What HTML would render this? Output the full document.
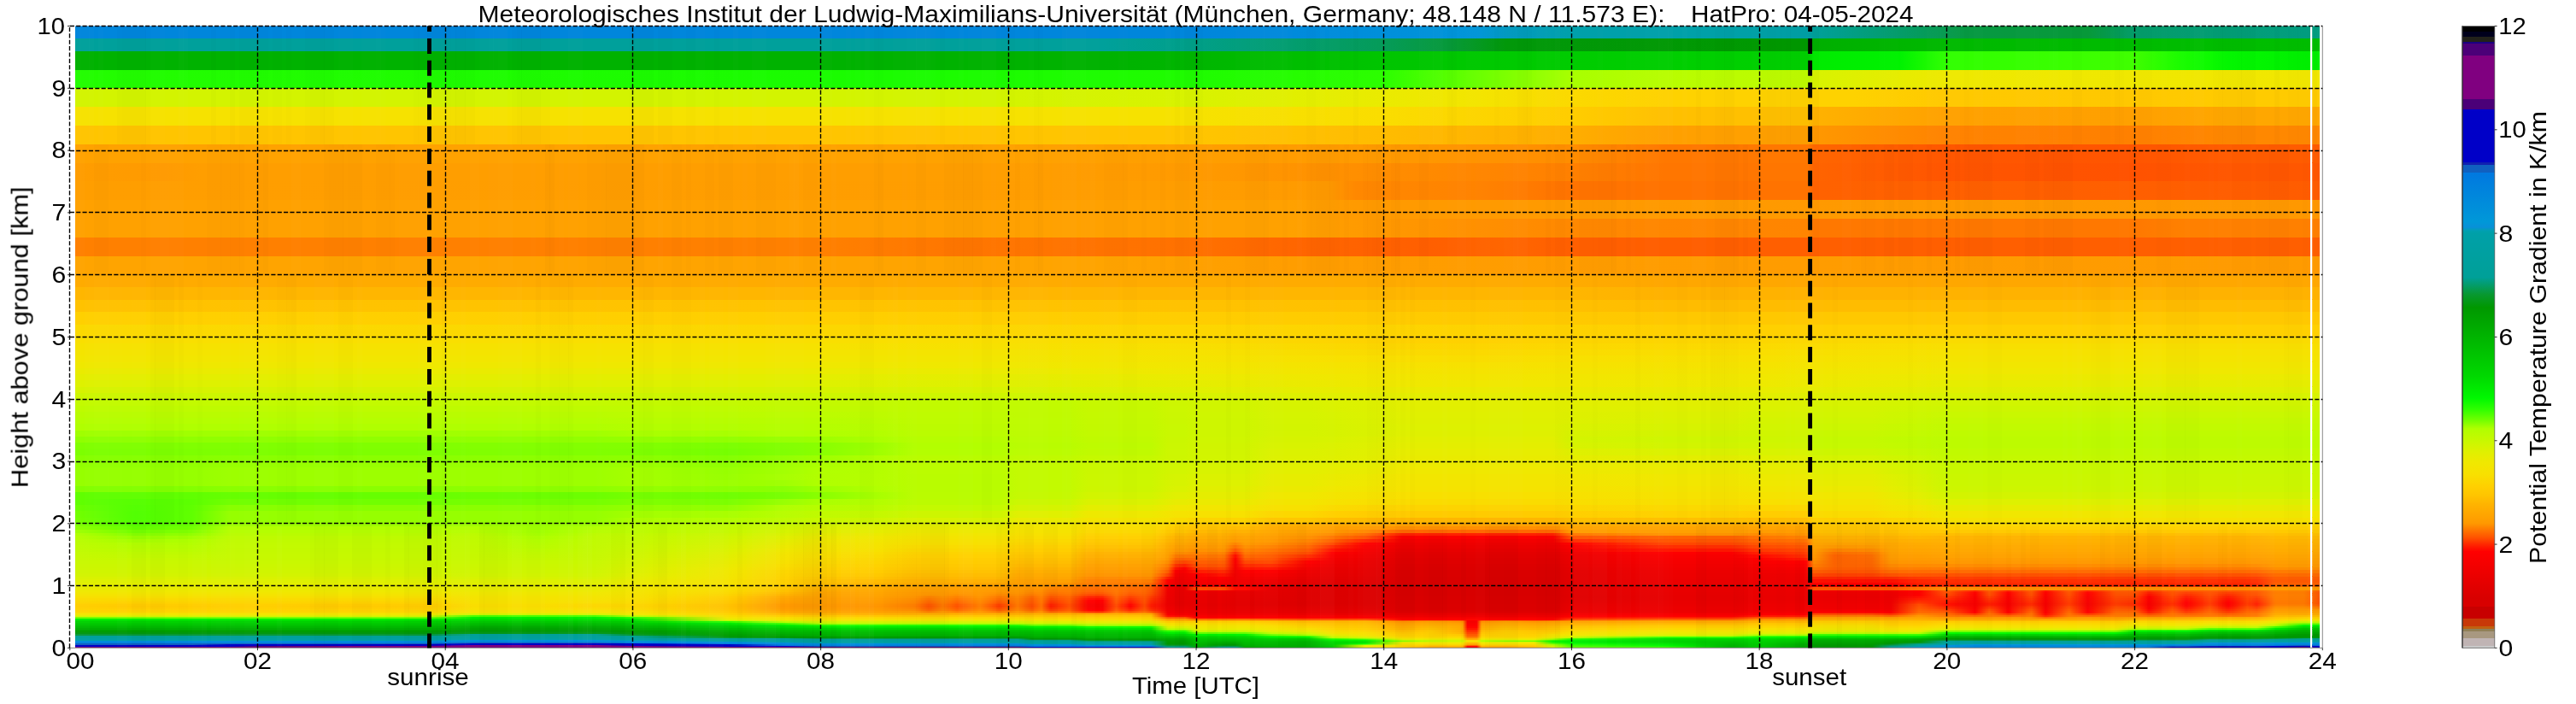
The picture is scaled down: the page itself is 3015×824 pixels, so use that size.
<!DOCTYPE html><html><head><meta charset="utf-8"><title>HatPro potential temperature gradient</title>
<style>html,body{margin:0;padding:0;background:#fff}svg{display:block}text{font-family:"Liberation Sans",sans-serif;fill:#000}</style></head><body>
<svg width="3015" height="824" viewBox="0 0 3015 824">
<defs><linearGradient id="g0" gradientUnits="userSpaceOnUse" x1="87.80" x2="2715.00" y1="0" y2="0"><stop offset="0.0000" stop-color="#800080"/><stop offset="0.3155" stop-color="#800080"/><stop offset="0.3322" stop-color="#4b0078"/><stop offset="0.4200" stop-color="#4b0078"/><stop offset="0.4263" stop-color="#0000c8"/><stop offset="0.4794" stop-color="#0000c8"/><stop offset="0.4869" stop-color="#00a09e"/><stop offset="0.4945" stop-color="#00a09e"/><stop offset="0.4995" stop-color="#00a700"/><stop offset="0.5120" stop-color="#00a09b"/><stop offset="0.5170" stop-color="#00a09b"/><stop offset="0.5212" stop-color="#00a700"/><stop offset="0.5329" stop-color="#00ab00"/><stop offset="0.5497" stop-color="#00ab00"/><stop offset="0.5601" stop-color="#00c800"/><stop offset="0.5748" stop-color="#eee900"/><stop offset="0.5915" stop-color="#ffcb00"/><stop offset="0.6040" stop-color="#ffaa00"/><stop offset="0.6182" stop-color="#ffaa00"/><stop offset="0.6203" stop-color="#f60000"/><stop offset="0.6245" stop-color="#f60000"/><stop offset="0.6266" stop-color="#ff9f00"/><stop offset="0.6375" stop-color="#ff9f00"/><stop offset="0.6500" stop-color="#ffba00"/><stop offset="0.6584" stop-color="#e9eb00"/><stop offset="0.6667" stop-color="#68ff00"/><stop offset="0.7086" stop-color="#40ff00"/><stop offset="0.7378" stop-color="#00b500"/><stop offset="0.7504" stop-color="#00c800"/><stop offset="0.7713" stop-color="#00a100"/><stop offset="0.7746" stop-color="#019803"/><stop offset="0.8005" stop-color="#019803"/><stop offset="0.8089" stop-color="#00a09c"/><stop offset="0.8215" stop-color="#0891d6"/><stop offset="0.8340" stop-color="#0093d9"/><stop offset="0.8465" stop-color="#0083dd"/><stop offset="0.9093" stop-color="#0083dd"/><stop offset="0.9176" stop-color="#0080de"/><stop offset="0.9239" stop-color="#0080de"/><stop offset="0.9344" stop-color="#0000c8"/><stop offset="0.9803" stop-color="#0000c8"/><stop offset="0.9929" stop-color="#4b0078"/><stop offset="1.0000" stop-color="#0000c8"/></linearGradient><linearGradient id="g1" gradientUnits="userSpaceOnUse" x1="87.80" x2="2715.00" y1="0" y2="0"><stop offset="0.0000" stop-color="#0000c8"/><stop offset="0.0521" stop-color="#0000c8"/><stop offset="0.0688" stop-color="#4b0078"/><stop offset="0.0813" stop-color="#800080"/><stop offset="0.2904" stop-color="#800080"/><stop offset="0.3155" stop-color="#0000c8"/><stop offset="0.4200" stop-color="#0000c8"/><stop offset="0.4263" stop-color="#1060c0"/><stop offset="0.4430" stop-color="#1060c0"/><stop offset="0.4514" stop-color="#007ede"/><stop offset="0.4794" stop-color="#007ede"/><stop offset="0.4869" stop-color="#00a099"/><stop offset="0.4945" stop-color="#00a099"/><stop offset="0.4995" stop-color="#00ab00"/><stop offset="0.5120" stop-color="#029e7f"/><stop offset="0.5170" stop-color="#029e7f"/><stop offset="0.5212" stop-color="#00ab00"/><stop offset="0.5329" stop-color="#00ae00"/><stop offset="0.5497" stop-color="#00ac00"/><stop offset="0.5601" stop-color="#00ca00"/><stop offset="0.5748" stop-color="#eee900"/><stop offset="0.5915" stop-color="#ffd000"/><stop offset="0.6040" stop-color="#ffb000"/><stop offset="0.6182" stop-color="#ffb000"/><stop offset="0.6203" stop-color="#fc0000"/><stop offset="0.6245" stop-color="#fc0000"/><stop offset="0.6266" stop-color="#ffab00"/><stop offset="0.6375" stop-color="#ffab00"/><stop offset="0.6500" stop-color="#ffc200"/><stop offset="0.6584" stop-color="#dff000"/><stop offset="0.6667" stop-color="#58ff00"/><stop offset="0.7086" stop-color="#25fd00"/><stop offset="0.7378" stop-color="#00b600"/><stop offset="0.7504" stop-color="#00c900"/><stop offset="0.7713" stop-color="#00a300"/><stop offset="0.7746" stop-color="#009800"/><stop offset="0.8005" stop-color="#009800"/><stop offset="0.8089" stop-color="#00a099"/><stop offset="0.8215" stop-color="#00a0a7"/><stop offset="0.8340" stop-color="#0096d9"/><stop offset="0.8465" stop-color="#0086dc"/><stop offset="0.9093" stop-color="#0086dc"/><stop offset="0.9176" stop-color="#0083dd"/><stop offset="0.9239" stop-color="#0083dd"/><stop offset="0.9344" stop-color="#0000c8"/><stop offset="1.0000" stop-color="#0000c8"/></linearGradient><linearGradient id="g2" gradientUnits="userSpaceOnUse" x1="87.80" x2="2715.00" y1="0" y2="0"><stop offset="0.0000" stop-color="#0000c8"/><stop offset="0.0688" stop-color="#0000c8"/><stop offset="0.0813" stop-color="#4b0078"/><stop offset="0.1232" stop-color="#800080"/><stop offset="0.2486" stop-color="#800080"/><stop offset="0.2904" stop-color="#0000c8"/><stop offset="0.3155" stop-color="#0000c8"/><stop offset="0.3322" stop-color="#1060c0"/><stop offset="0.4200" stop-color="#1060c0"/><stop offset="0.4263" stop-color="#0082de"/><stop offset="0.4430" stop-color="#0082de"/><stop offset="0.4514" stop-color="#0086dc"/><stop offset="0.4794" stop-color="#0086dc"/><stop offset="0.4869" stop-color="#049c63"/><stop offset="0.4945" stop-color="#049c63"/><stop offset="0.4995" stop-color="#00ae00"/><stop offset="0.5120" stop-color="#07993a"/><stop offset="0.5170" stop-color="#07993a"/><stop offset="0.5212" stop-color="#00ae00"/><stop offset="0.5329" stop-color="#00b000"/><stop offset="0.5497" stop-color="#00ad00"/><stop offset="0.5601" stop-color="#00cc00"/><stop offset="0.5748" stop-color="#eee900"/><stop offset="0.5915" stop-color="#fcd600"/><stop offset="0.6040" stop-color="#ffb800"/><stop offset="0.6182" stop-color="#ffb800"/><stop offset="0.6203" stop-color="#ff1400"/><stop offset="0.6245" stop-color="#ff1400"/><stop offset="0.6266" stop-color="#ffb800"/><stop offset="0.6375" stop-color="#ffb800"/><stop offset="0.6500" stop-color="#ffc900"/><stop offset="0.6584" stop-color="#d1f500"/><stop offset="0.6667" stop-color="#48ff00"/><stop offset="0.7086" stop-color="#0ffa00"/><stop offset="0.7378" stop-color="#00b700"/><stop offset="0.7504" stop-color="#00ca00"/><stop offset="0.7713" stop-color="#00a500"/><stop offset="0.7746" stop-color="#009a00"/><stop offset="0.8005" stop-color="#009a00"/><stop offset="0.8089" stop-color="#029e84"/><stop offset="0.8215" stop-color="#00a0a4"/><stop offset="0.8340" stop-color="#0197d8"/><stop offset="0.8465" stop-color="#008adc"/><stop offset="0.9093" stop-color="#008adc"/><stop offset="0.9176" stop-color="#0086dc"/><stop offset="0.9239" stop-color="#0086dc"/><stop offset="0.9344" stop-color="#1060c0"/><stop offset="0.9406" stop-color="#1060c0"/><stop offset="0.9511" stop-color="#1020b0"/><stop offset="0.9720" stop-color="#1020b0"/><stop offset="0.9803" stop-color="#0000c8"/><stop offset="1.0000" stop-color="#0000c8"/></linearGradient><linearGradient id="g3" gradientUnits="userSpaceOnUse" x1="87.80" x2="2715.00" y1="0" y2="0"><stop offset="0.0000" stop-color="#0000c8"/><stop offset="0.1566" stop-color="#0000c8"/><stop offset="0.1775" stop-color="#800080"/><stop offset="0.2319" stop-color="#800080"/><stop offset="0.2486" stop-color="#0000c8"/><stop offset="0.2904" stop-color="#0000c8"/><stop offset="0.3155" stop-color="#007cdf"/><stop offset="0.3322" stop-color="#0082dd"/><stop offset="0.4200" stop-color="#0082dd"/><stop offset="0.4263" stop-color="#0089dc"/><stop offset="0.4430" stop-color="#0089dc"/><stop offset="0.4514" stop-color="#008eda"/><stop offset="0.4794" stop-color="#008eda"/><stop offset="0.4869" stop-color="#08982f"/><stop offset="0.4945" stop-color="#08982f"/><stop offset="0.4995" stop-color="#00b200"/><stop offset="0.5120" stop-color="#039811"/><stop offset="0.5170" stop-color="#039811"/><stop offset="0.5212" stop-color="#00b200"/><stop offset="0.5329" stop-color="#00b300"/><stop offset="0.5497" stop-color="#00ae00"/><stop offset="0.5601" stop-color="#00ce00"/><stop offset="0.5748" stop-color="#dff000"/><stop offset="0.5915" stop-color="#fbd900"/><stop offset="0.6040" stop-color="#ffca00"/><stop offset="0.6182" stop-color="#ffca00"/><stop offset="0.6203" stop-color="#ff6900"/><stop offset="0.6245" stop-color="#ff6900"/><stop offset="0.6266" stop-color="#ffca00"/><stop offset="0.6375" stop-color="#ffca00"/><stop offset="0.6500" stop-color="#fed100"/><stop offset="0.6584" stop-color="#bffb00"/><stop offset="0.6667" stop-color="#38ff00"/><stop offset="0.7086" stop-color="#00f600"/><stop offset="0.7378" stop-color="#00b800"/><stop offset="0.7504" stop-color="#00cb00"/><stop offset="0.7713" stop-color="#00a800"/><stop offset="0.7746" stop-color="#009b00"/><stop offset="0.8005" stop-color="#009b00"/><stop offset="0.8089" stop-color="#059b5a"/><stop offset="0.8215" stop-color="#00a09f"/><stop offset="0.8340" stop-color="#0791d8"/><stop offset="0.8465" stop-color="#008ddb"/><stop offset="0.9093" stop-color="#008ddb"/><stop offset="0.9176" stop-color="#008adc"/><stop offset="0.9239" stop-color="#008adc"/><stop offset="0.9344" stop-color="#007edf"/><stop offset="0.9406" stop-color="#007edf"/><stop offset="0.9511" stop-color="#0080de"/><stop offset="0.9720" stop-color="#0080de"/><stop offset="0.9803" stop-color="#007cdf"/><stop offset="0.9929" stop-color="#1060c0"/><stop offset="1.0000" stop-color="#0079e0"/></linearGradient><linearGradient id="g4" gradientUnits="userSpaceOnUse" x1="87.80" x2="2715.00" y1="0" y2="0"><stop offset="0.0000" stop-color="#1060c0"/><stop offset="0.0521" stop-color="#1060c0"/><stop offset="0.0688" stop-color="#0000c8"/><stop offset="0.2904" stop-color="#0000c8"/><stop offset="0.3155" stop-color="#0084dd"/><stop offset="0.3322" stop-color="#0089dc"/><stop offset="0.4200" stop-color="#0089dc"/><stop offset="0.4263" stop-color="#0090da"/><stop offset="0.4430" stop-color="#0090da"/><stop offset="0.4514" stop-color="#00a0ac"/><stop offset="0.4794" stop-color="#00a0ac"/><stop offset="0.4869" stop-color="#03980f"/><stop offset="0.4945" stop-color="#03980f"/><stop offset="0.4995" stop-color="#00b500"/><stop offset="0.5120" stop-color="#009b00"/><stop offset="0.5170" stop-color="#009b00"/><stop offset="0.5212" stop-color="#00b500"/><stop offset="0.5329" stop-color="#00b500"/><stop offset="0.5497" stop-color="#00b000"/><stop offset="0.5601" stop-color="#00d000"/><stop offset="0.5748" stop-color="#6cff00"/><stop offset="0.5915" stop-color="#fadc00"/><stop offset="0.6040" stop-color="#fbd800"/><stop offset="0.6182" stop-color="#fbd800"/><stop offset="0.6203" stop-color="#ffa100"/><stop offset="0.6245" stop-color="#ffa100"/><stop offset="0.6266" stop-color="#fbd800"/><stop offset="0.6375" stop-color="#fbd800"/><stop offset="0.6500" stop-color="#fbda00"/><stop offset="0.6584" stop-color="#a8ff00"/><stop offset="0.6667" stop-color="#25fd00"/><stop offset="0.7086" stop-color="#00ee00"/><stop offset="0.7378" stop-color="#00bb00"/><stop offset="0.7504" stop-color="#00cc00"/><stop offset="0.7713" stop-color="#00aa00"/><stop offset="0.7746" stop-color="#009d00"/><stop offset="0.8005" stop-color="#009d00"/><stop offset="0.8089" stop-color="#07982c"/><stop offset="0.8215" stop-color="#00a09a"/><stop offset="0.8340" stop-color="#00a0a9"/><stop offset="0.8465" stop-color="#0096d9"/><stop offset="0.9093" stop-color="#0096d9"/><stop offset="0.9176" stop-color="#0094d9"/><stop offset="0.9239" stop-color="#0094d9"/><stop offset="0.9344" stop-color="#008ddb"/><stop offset="0.9406" stop-color="#008ddb"/><stop offset="0.9511" stop-color="#0087dc"/><stop offset="0.9720" stop-color="#0087dc"/><stop offset="0.9803" stop-color="#0084dd"/><stop offset="0.9929" stop-color="#0082de"/><stop offset="1.0000" stop-color="#0082de"/></linearGradient><linearGradient id="g5" gradientUnits="userSpaceOnUse" x1="87.80" x2="2715.00" y1="0" y2="0"><stop offset="0.0000" stop-color="#1060c0"/><stop offset="0.1566" stop-color="#1060c0"/><stop offset="0.1775" stop-color="#0000c8"/><stop offset="0.2486" stop-color="#0000c8"/><stop offset="0.2904" stop-color="#0080de"/><stop offset="0.3155" stop-color="#008adc"/><stop offset="0.3322" stop-color="#008fda"/><stop offset="0.4200" stop-color="#008fda"/><stop offset="0.4263" stop-color="#00a0a6"/><stop offset="0.4430" stop-color="#00a0a6"/><stop offset="0.4514" stop-color="#00a0a2"/><stop offset="0.4794" stop-color="#00a0a2"/><stop offset="0.4869" stop-color="#009800"/><stop offset="0.4945" stop-color="#009800"/><stop offset="0.4995" stop-color="#00b800"/><stop offset="0.5120" stop-color="#00a200"/><stop offset="0.5170" stop-color="#00a200"/><stop offset="0.5212" stop-color="#00b800"/><stop offset="0.5329" stop-color="#00b800"/><stop offset="0.5497" stop-color="#00b100"/><stop offset="0.5601" stop-color="#00d300"/><stop offset="0.5748" stop-color="#0af900"/><stop offset="0.5915" stop-color="#f6e200"/><stop offset="0.6182" stop-color="#f6e200"/><stop offset="0.6203" stop-color="#ffaf00"/><stop offset="0.6245" stop-color="#ffaf00"/><stop offset="0.6266" stop-color="#f6e200"/><stop offset="0.6500" stop-color="#f6e200"/><stop offset="0.6584" stop-color="#6bff00"/><stop offset="0.6667" stop-color="#0ffa00"/><stop offset="0.7086" stop-color="#00e700"/><stop offset="0.7378" stop-color="#00be00"/><stop offset="0.7504" stop-color="#00cd00"/><stop offset="0.7713" stop-color="#00ae00"/><stop offset="0.7746" stop-color="#00a100"/><stop offset="0.8005" stop-color="#00a100"/><stop offset="0.8089" stop-color="#02980e"/><stop offset="0.8215" stop-color="#039d71"/><stop offset="0.8340" stop-color="#00a0a5"/><stop offset="0.9239" stop-color="#00a0a5"/><stop offset="0.9344" stop-color="#00a0a6"/><stop offset="0.9406" stop-color="#00a0a6"/><stop offset="0.9511" stop-color="#008eda"/><stop offset="0.9720" stop-color="#008eda"/><stop offset="0.9803" stop-color="#008cdb"/><stop offset="0.9929" stop-color="#0089dc"/><stop offset="1.0000" stop-color="#0089dc"/></linearGradient><linearGradient id="g6" gradientUnits="userSpaceOnUse" x1="87.80" x2="2715.00" y1="0" y2="0"><stop offset="0.0000" stop-color="#0082de"/><stop offset="0.1566" stop-color="#0082de"/><stop offset="0.1775" stop-color="#1060c0"/><stop offset="0.2319" stop-color="#1060c0"/><stop offset="0.2486" stop-color="#0082de"/><stop offset="0.2904" stop-color="#0089dc"/><stop offset="0.3155" stop-color="#0090da"/><stop offset="0.3322" stop-color="#00a0ac"/><stop offset="0.4200" stop-color="#00a0ac"/><stop offset="0.4263" stop-color="#00a0a1"/><stop offset="0.4430" stop-color="#00a0a1"/><stop offset="0.4514" stop-color="#00a09e"/><stop offset="0.4794" stop-color="#00a09e"/><stop offset="0.4869" stop-color="#009a00"/><stop offset="0.4945" stop-color="#009a00"/><stop offset="0.4995" stop-color="#00ba00"/><stop offset="0.5120" stop-color="#00a800"/><stop offset="0.5170" stop-color="#00a800"/><stop offset="0.5212" stop-color="#00ba00"/><stop offset="0.5329" stop-color="#00ba00"/><stop offset="0.5497" stop-color="#00b200"/><stop offset="0.5601" stop-color="#00d600"/><stop offset="0.5748" stop-color="#00e900"/><stop offset="0.5915" stop-color="#f0e800"/><stop offset="0.6182" stop-color="#f0e800"/><stop offset="0.6203" stop-color="#ffbe00"/><stop offset="0.6245" stop-color="#ffbe00"/><stop offset="0.6266" stop-color="#f0e800"/><stop offset="0.6500" stop-color="#f0e800"/><stop offset="0.6584" stop-color="#35ff00"/><stop offset="0.6667" stop-color="#00f600"/><stop offset="0.7086" stop-color="#00df00"/><stop offset="0.7378" stop-color="#00c200"/><stop offset="0.7504" stop-color="#00cf00"/><stop offset="0.7713" stop-color="#00b500"/><stop offset="0.7746" stop-color="#00a400"/><stop offset="0.8005" stop-color="#00a400"/><stop offset="0.8089" stop-color="#009c00"/><stop offset="0.8215" stop-color="#079827"/><stop offset="0.8340" stop-color="#00a0a1"/><stop offset="0.9406" stop-color="#00a0a1"/><stop offset="0.9511" stop-color="#0692d8"/><stop offset="0.9720" stop-color="#0692d8"/><stop offset="0.9803" stop-color="#0094d9"/><stop offset="0.9929" stop-color="#0090da"/><stop offset="1.0000" stop-color="#0090da"/></linearGradient><linearGradient id="g7" gradientUnits="userSpaceOnUse" x1="87.80" x2="2715.00" y1="0" y2="0"><stop offset="0.0000" stop-color="#0088dc"/><stop offset="0.1566" stop-color="#0088dc"/><stop offset="0.1775" stop-color="#0083dd"/><stop offset="0.2319" stop-color="#0083dd"/><stop offset="0.2486" stop-color="#0089dc"/><stop offset="0.2904" stop-color="#0091da"/><stop offset="0.3155" stop-color="#00a0a6"/><stop offset="0.3322" stop-color="#00a0a2"/><stop offset="0.4200" stop-color="#00a0a2"/><stop offset="0.4263" stop-color="#00a09e"/><stop offset="0.4430" stop-color="#00a09e"/><stop offset="0.4514" stop-color="#00a09b"/><stop offset="0.4794" stop-color="#00a09b"/><stop offset="0.4869" stop-color="#009c00"/><stop offset="0.4945" stop-color="#009c00"/><stop offset="0.4995" stop-color="#00bd00"/><stop offset="0.5120" stop-color="#00af00"/><stop offset="0.5170" stop-color="#00af00"/><stop offset="0.5212" stop-color="#00bd00"/><stop offset="0.5329" stop-color="#00bc00"/><stop offset="0.5497" stop-color="#00b300"/><stop offset="0.5601" stop-color="#00d900"/><stop offset="0.5748" stop-color="#00df00"/><stop offset="0.5915" stop-color="#d8f300"/><stop offset="0.6040" stop-color="#def000"/><stop offset="0.6182" stop-color="#e2ef00"/><stop offset="0.6203" stop-color="#ffd000"/><stop offset="0.6245" stop-color="#ffd000"/><stop offset="0.6266" stop-color="#dcf100"/><stop offset="0.6375" stop-color="#d8f300"/><stop offset="0.6500" stop-color="#d6f300"/><stop offset="0.6584" stop-color="#16fb00"/><stop offset="0.6667" stop-color="#00ee00"/><stop offset="0.7086" stop-color="#00d800"/><stop offset="0.7378" stop-color="#00c500"/><stop offset="0.7504" stop-color="#00d100"/><stop offset="0.7713" stop-color="#00bb00"/><stop offset="0.7746" stop-color="#00a800"/><stop offset="0.8005" stop-color="#00a800"/><stop offset="0.8089" stop-color="#00a100"/><stop offset="0.8215" stop-color="#009800"/><stop offset="0.8340" stop-color="#00a09d"/><stop offset="0.9093" stop-color="#00a09d"/><stop offset="0.9176" stop-color="#00a09e"/><stop offset="0.9406" stop-color="#00a09e"/><stop offset="0.9511" stop-color="#00a0a3"/><stop offset="0.9720" stop-color="#00a0a3"/><stop offset="0.9803" stop-color="#00a0a5"/><stop offset="0.9929" stop-color="#00a0b0"/><stop offset="1.0000" stop-color="#00a0b0"/></linearGradient><linearGradient id="g8" gradientUnits="userSpaceOnUse" x1="87.80" x2="2715.00" y1="0" y2="0"><stop offset="0.0000" stop-color="#008edb"/><stop offset="0.1566" stop-color="#008edb"/><stop offset="0.1775" stop-color="#008adb"/><stop offset="0.2319" stop-color="#008adb"/><stop offset="0.2486" stop-color="#0090da"/><stop offset="0.2904" stop-color="#00a0a4"/><stop offset="0.3155" stop-color="#00a0a2"/><stop offset="0.3322" stop-color="#00a09f"/><stop offset="0.4200" stop-color="#00a09f"/><stop offset="0.4263" stop-color="#00a09b"/><stop offset="0.4430" stop-color="#00a09b"/><stop offset="0.4514" stop-color="#039d6d"/><stop offset="0.4794" stop-color="#039d6d"/><stop offset="0.4869" stop-color="#009e00"/><stop offset="0.4945" stop-color="#009e00"/><stop offset="0.4995" stop-color="#00c000"/><stop offset="0.5120" stop-color="#00b600"/><stop offset="0.5170" stop-color="#00b600"/><stop offset="0.5212" stop-color="#00c000"/><stop offset="0.5329" stop-color="#00c100"/><stop offset="0.5497" stop-color="#00b800"/><stop offset="0.5601" stop-color="#00e300"/><stop offset="0.5748" stop-color="#00ec00"/><stop offset="0.5915" stop-color="#83ff00"/><stop offset="0.6040" stop-color="#bdfb00"/><stop offset="0.6182" stop-color="#cef600"/><stop offset="0.6203" stop-color="#f3e500"/><stop offset="0.6245" stop-color="#f3e500"/><stop offset="0.6266" stop-color="#b4fe00"/><stop offset="0.6375" stop-color="#83ff00"/><stop offset="0.6500" stop-color="#66ff00"/><stop offset="0.6584" stop-color="#08f900"/><stop offset="0.6667" stop-color="#00ef00"/><stop offset="0.7086" stop-color="#00d700"/><stop offset="0.7378" stop-color="#00ca00"/><stop offset="0.7504" stop-color="#00d300"/><stop offset="0.7713" stop-color="#00c100"/><stop offset="0.7746" stop-color="#00ab00"/><stop offset="0.8005" stop-color="#00ab00"/><stop offset="0.8089" stop-color="#00a500"/><stop offset="0.8215" stop-color="#009d00"/><stop offset="0.8340" stop-color="#00a098"/><stop offset="0.9093" stop-color="#00a098"/><stop offset="0.9176" stop-color="#00a09a"/><stop offset="0.9406" stop-color="#00a09a"/><stop offset="0.9511" stop-color="#00a09f"/><stop offset="0.9720" stop-color="#00a09f"/><stop offset="0.9803" stop-color="#00a0a1"/><stop offset="0.9929" stop-color="#00a0a2"/><stop offset="1.0000" stop-color="#00a0a2"/></linearGradient><linearGradient id="g9" gradientUnits="userSpaceOnUse" x1="87.80" x2="2715.00" y1="0" y2="0"><stop offset="0.0000" stop-color="#00a0a8"/><stop offset="0.1566" stop-color="#00a0a8"/><stop offset="0.1775" stop-color="#0091da"/><stop offset="0.2319" stop-color="#0091da"/><stop offset="0.2486" stop-color="#00a0b0"/><stop offset="0.2904" stop-color="#00a0a1"/><stop offset="0.3155" stop-color="#00a09f"/><stop offset="0.3322" stop-color="#00a09d"/><stop offset="0.4200" stop-color="#00a09d"/><stop offset="0.4263" stop-color="#029e84"/><stop offset="0.4430" stop-color="#029e84"/><stop offset="0.4514" stop-color="#049818"/><stop offset="0.4794" stop-color="#049818"/><stop offset="0.4869" stop-color="#00a000"/><stop offset="0.4945" stop-color="#00a000"/><stop offset="0.4995" stop-color="#00c200"/><stop offset="0.5120" stop-color="#00bd00"/><stop offset="0.5170" stop-color="#00bd00"/><stop offset="0.5212" stop-color="#00c200"/><stop offset="0.5329" stop-color="#00c700"/><stop offset="0.5497" stop-color="#00bf00"/><stop offset="0.5601" stop-color="#00f100"/><stop offset="0.5748" stop-color="#01f800"/><stop offset="0.5915" stop-color="#b8fd00"/><stop offset="0.6040" stop-color="#caf700"/><stop offset="0.6182" stop-color="#d6f300"/><stop offset="0.6203" stop-color="#fcd600"/><stop offset="0.6245" stop-color="#fcd600"/><stop offset="0.6266" stop-color="#c4f900"/><stop offset="0.6375" stop-color="#b8fd00"/><stop offset="0.6500" stop-color="#b2fe00"/><stop offset="0.6584" stop-color="#36ff00"/><stop offset="0.6667" stop-color="#02f800"/><stop offset="0.7086" stop-color="#00da00"/><stop offset="0.7378" stop-color="#00d000"/><stop offset="0.7504" stop-color="#00d500"/><stop offset="0.7713" stop-color="#00c700"/><stop offset="0.7746" stop-color="#00af00"/><stop offset="0.8005" stop-color="#00af00"/><stop offset="0.8089" stop-color="#00aa00"/><stop offset="0.8215" stop-color="#00a100"/><stop offset="0.8340" stop-color="#07993b"/><stop offset="0.9093" stop-color="#07993b"/><stop offset="0.9176" stop-color="#049c63"/><stop offset="0.9406" stop-color="#049c63"/><stop offset="0.9511" stop-color="#00a09b"/><stop offset="0.9720" stop-color="#00a09b"/><stop offset="0.9803" stop-color="#00a09d"/><stop offset="0.9929" stop-color="#00a09f"/><stop offset="1.0000" stop-color="#00a09f"/></linearGradient><linearGradient id="g10" gradientUnits="userSpaceOnUse" x1="87.80" x2="2715.00" y1="0" y2="0"><stop offset="0.0000" stop-color="#00a0a5"/><stop offset="0.1566" stop-color="#00a0a5"/><stop offset="0.1775" stop-color="#00a0a7"/><stop offset="0.2319" stop-color="#00a0a7"/><stop offset="0.2486" stop-color="#00a0a3"/><stop offset="0.2904" stop-color="#00a09e"/><stop offset="0.3155" stop-color="#00a09c"/><stop offset="0.3322" stop-color="#00a09a"/><stop offset="0.4200" stop-color="#00a09a"/><stop offset="0.4263" stop-color="#059820"/><stop offset="0.4430" stop-color="#059820"/><stop offset="0.4514" stop-color="#009a00"/><stop offset="0.4794" stop-color="#009a00"/><stop offset="0.4869" stop-color="#00a600"/><stop offset="0.4945" stop-color="#00a600"/><stop offset="0.4995" stop-color="#00c600"/><stop offset="0.5120" stop-color="#00c200"/><stop offset="0.5170" stop-color="#00c200"/><stop offset="0.5212" stop-color="#00c600"/><stop offset="0.5329" stop-color="#00cd00"/><stop offset="0.5497" stop-color="#00c600"/><stop offset="0.5601" stop-color="#13fb00"/><stop offset="0.5748" stop-color="#38ff00"/><stop offset="0.5915" stop-color="#e7ec00"/><stop offset="0.6182" stop-color="#e7ec00"/><stop offset="0.6203" stop-color="#ffad00"/><stop offset="0.6245" stop-color="#ffad00"/><stop offset="0.6266" stop-color="#e7ec00"/><stop offset="0.6500" stop-color="#e7ec00"/><stop offset="0.6584" stop-color="#9cff00"/><stop offset="0.6667" stop-color="#1dfc00"/><stop offset="0.7086" stop-color="#00de00"/><stop offset="0.7378" stop-color="#00d600"/><stop offset="0.7504" stop-color="#00db00"/><stop offset="0.7713" stop-color="#00ce00"/><stop offset="0.7746" stop-color="#00b900"/><stop offset="0.8005" stop-color="#00b900"/><stop offset="0.8089" stop-color="#00b500"/><stop offset="0.8215" stop-color="#00a700"/><stop offset="0.8340" stop-color="#02980f"/><stop offset="0.9093" stop-color="#02980f"/><stop offset="0.9176" stop-color="#049817"/><stop offset="0.9406" stop-color="#049817"/><stop offset="0.9511" stop-color="#039d77"/><stop offset="0.9720" stop-color="#039d77"/><stop offset="0.9803" stop-color="#00a098"/><stop offset="0.9929" stop-color="#00a09b"/><stop offset="1.0000" stop-color="#00a09b"/></linearGradient><linearGradient id="g11" gradientUnits="userSpaceOnUse" x1="87.80" x2="2715.00" y1="0" y2="0"><stop offset="0.0000" stop-color="#00a0a2"/><stop offset="0.1566" stop-color="#00a0a2"/><stop offset="0.1775" stop-color="#00a0a3"/><stop offset="0.2319" stop-color="#00a0a3"/><stop offset="0.2486" stop-color="#00a0a1"/><stop offset="0.2904" stop-color="#00a09b"/><stop offset="0.3155" stop-color="#00a099"/><stop offset="0.3322" stop-color="#059b55"/><stop offset="0.4200" stop-color="#059b55"/><stop offset="0.4263" stop-color="#019804"/><stop offset="0.4430" stop-color="#019804"/><stop offset="0.4514" stop-color="#00a200"/><stop offset="0.4794" stop-color="#00a200"/><stop offset="0.4869" stop-color="#00ac00"/><stop offset="0.4945" stop-color="#00ac00"/><stop offset="0.4995" stop-color="#00ca00"/><stop offset="0.5120" stop-color="#00c700"/><stop offset="0.5170" stop-color="#00c700"/><stop offset="0.5212" stop-color="#00ca00"/><stop offset="0.5329" stop-color="#00d300"/><stop offset="0.5497" stop-color="#00cd00"/><stop offset="0.5601" stop-color="#42ff00"/><stop offset="0.5748" stop-color="#8cff00"/><stop offset="0.5915" stop-color="#f1e700"/><stop offset="0.6182" stop-color="#f1e700"/><stop offset="0.6203" stop-color="#ffa500"/><stop offset="0.6245" stop-color="#ffa500"/><stop offset="0.6266" stop-color="#f1e700"/><stop offset="0.6500" stop-color="#f1e700"/><stop offset="0.6584" stop-color="#bdfb00"/><stop offset="0.6667" stop-color="#48ff00"/><stop offset="0.7086" stop-color="#00e100"/><stop offset="0.7378" stop-color="#00df00"/><stop offset="0.7504" stop-color="#00e200"/><stop offset="0.7713" stop-color="#00d500"/><stop offset="0.7746" stop-color="#00c300"/><stop offset="0.8005" stop-color="#00c300"/><stop offset="0.8089" stop-color="#00c100"/><stop offset="0.8215" stop-color="#00b400"/><stop offset="0.8340" stop-color="#009900"/><stop offset="0.9093" stop-color="#009900"/><stop offset="0.9176" stop-color="#019808"/><stop offset="0.9406" stop-color="#019808"/><stop offset="0.9511" stop-color="#05981f"/><stop offset="0.9720" stop-color="#05981f"/><stop offset="0.9803" stop-color="#07993b"/><stop offset="0.9929" stop-color="#019f8a"/><stop offset="1.0000" stop-color="#019f8a"/></linearGradient><linearGradient id="g12" gradientUnits="userSpaceOnUse" x1="87.80" x2="2715.00" y1="0" y2="0"><stop offset="0.0000" stop-color="#00a09f"/><stop offset="0.1566" stop-color="#00a09f"/><stop offset="0.1775" stop-color="#00a0a1"/><stop offset="0.2319" stop-color="#00a0a1"/><stop offset="0.2486" stop-color="#00a09f"/><stop offset="0.2904" stop-color="#029e7b"/><stop offset="0.3155" stop-color="#07993d"/><stop offset="0.3322" stop-color="#039815"/><stop offset="0.4200" stop-color="#039815"/><stop offset="0.4263" stop-color="#009e00"/><stop offset="0.4430" stop-color="#009e00"/><stop offset="0.4514" stop-color="#00a800"/><stop offset="0.4794" stop-color="#00a800"/><stop offset="0.4869" stop-color="#00b200"/><stop offset="0.4945" stop-color="#00b200"/><stop offset="0.4995" stop-color="#00ce00"/><stop offset="0.5120" stop-color="#00cc00"/><stop offset="0.5170" stop-color="#00cc00"/><stop offset="0.5212" stop-color="#00ce00"/><stop offset="0.5329" stop-color="#00db00"/><stop offset="0.5497" stop-color="#00d700"/><stop offset="0.5601" stop-color="#80ff00"/><stop offset="0.5748" stop-color="#bcfb00"/><stop offset="0.5915" stop-color="#f5e300"/><stop offset="0.6182" stop-color="#f5e300"/><stop offset="0.6203" stop-color="#ff9d00"/><stop offset="0.6245" stop-color="#ff9d00"/><stop offset="0.6266" stop-color="#f5e300"/><stop offset="0.6500" stop-color="#f5e300"/><stop offset="0.6584" stop-color="#cff600"/><stop offset="0.6667" stop-color="#9fff00"/><stop offset="0.7086" stop-color="#00ec00"/><stop offset="0.7378" stop-color="#00ec00"/><stop offset="0.7504" stop-color="#00ea00"/><stop offset="0.7713" stop-color="#00de00"/><stop offset="0.7746" stop-color="#00ce00"/><stop offset="0.8005" stop-color="#00ce00"/><stop offset="0.8089" stop-color="#00cd00"/><stop offset="0.8215" stop-color="#00c200"/><stop offset="0.8340" stop-color="#009f00"/><stop offset="0.9093" stop-color="#009f00"/><stop offset="0.9176" stop-color="#009a00"/><stop offset="0.9406" stop-color="#009a00"/><stop offset="0.9511" stop-color="#02980d"/><stop offset="0.9720" stop-color="#02980d"/><stop offset="0.9803" stop-color="#039813"/><stop offset="0.9929" stop-color="#07982b"/><stop offset="1.0000" stop-color="#07982b"/></linearGradient><linearGradient id="g13" gradientUnits="userSpaceOnUse" x1="87.80" x2="2715.00" y1="0" y2="0"><stop offset="0.0000" stop-color="#00a09d"/><stop offset="0.1566" stop-color="#00a09d"/><stop offset="0.1775" stop-color="#00a09f"/><stop offset="0.2319" stop-color="#00a09f"/><stop offset="0.2486" stop-color="#00a09d"/><stop offset="0.2904" stop-color="#079828"/><stop offset="0.3155" stop-color="#039812"/><stop offset="0.3322" stop-color="#009a00"/><stop offset="0.4200" stop-color="#009a00"/><stop offset="0.4263" stop-color="#00a600"/><stop offset="0.4430" stop-color="#00a600"/><stop offset="0.4514" stop-color="#00ae00"/><stop offset="0.4794" stop-color="#00ae00"/><stop offset="0.4869" stop-color="#00b800"/><stop offset="0.4945" stop-color="#00b800"/><stop offset="0.4995" stop-color="#00d200"/><stop offset="0.5120" stop-color="#00d100"/><stop offset="0.5170" stop-color="#00d100"/><stop offset="0.5212" stop-color="#00d200"/><stop offset="0.5329" stop-color="#00e800"/><stop offset="0.5497" stop-color="#00e900"/><stop offset="0.5601" stop-color="#b6fd00"/><stop offset="0.5748" stop-color="#cff600"/><stop offset="0.5915" stop-color="#f9dd00"/><stop offset="0.6182" stop-color="#f9dd00"/><stop offset="0.6203" stop-color="#ff8b00"/><stop offset="0.6245" stop-color="#ff8b00"/><stop offset="0.6266" stop-color="#f9dd00"/><stop offset="0.6500" stop-color="#f9dd00"/><stop offset="0.6584" stop-color="#e2ef00"/><stop offset="0.6667" stop-color="#c5f900"/><stop offset="0.7086" stop-color="#15fb00"/><stop offset="0.7378" stop-color="#15fb00"/><stop offset="0.7504" stop-color="#00f100"/><stop offset="0.7713" stop-color="#00e900"/><stop offset="0.7746" stop-color="#00d700"/><stop offset="0.8089" stop-color="#00d700"/><stop offset="0.8215" stop-color="#00cf00"/><stop offset="0.8340" stop-color="#00a900"/><stop offset="0.9093" stop-color="#00a900"/><stop offset="0.9176" stop-color="#009e00"/><stop offset="0.9406" stop-color="#009e00"/><stop offset="0.9511" stop-color="#009800"/><stop offset="0.9720" stop-color="#009800"/><stop offset="0.9803" stop-color="#019807"/><stop offset="0.9929" stop-color="#039812"/><stop offset="1.0000" stop-color="#039812"/></linearGradient><linearGradient id="g14" gradientUnits="userSpaceOnUse" x1="87.80" x2="2715.00" y1="0" y2="0"><stop offset="0.0000" stop-color="#00a09b"/><stop offset="0.1566" stop-color="#00a09b"/><stop offset="0.1775" stop-color="#00a09d"/><stop offset="0.2319" stop-color="#00a09d"/><stop offset="0.2486" stop-color="#00a09a"/><stop offset="0.2904" stop-color="#039811"/><stop offset="0.3155" stop-color="#009a00"/><stop offset="0.3322" stop-color="#00a100"/><stop offset="0.4200" stop-color="#00a100"/><stop offset="0.4263" stop-color="#00ad00"/><stop offset="0.4430" stop-color="#00ad00"/><stop offset="0.4514" stop-color="#00b200"/><stop offset="0.4794" stop-color="#00b200"/><stop offset="0.4869" stop-color="#00be00"/><stop offset="0.4945" stop-color="#00be00"/><stop offset="0.4995" stop-color="#00d600"/><stop offset="0.5212" stop-color="#00d600"/><stop offset="0.5329" stop-color="#00f500"/><stop offset="0.5497" stop-color="#0af900"/><stop offset="0.5601" stop-color="#c9f800"/><stop offset="0.5748" stop-color="#e1ef00"/><stop offset="0.5915" stop-color="#fdd500"/><stop offset="0.6182" stop-color="#fdd500"/><stop offset="0.6203" stop-color="#ff7000"/><stop offset="0.6245" stop-color="#ff7000"/><stop offset="0.6266" stop-color="#fdd500"/><stop offset="0.6500" stop-color="#fdd500"/><stop offset="0.6584" stop-color="#efe800"/><stop offset="0.6667" stop-color="#d7f300"/><stop offset="0.7086" stop-color="#59ff00"/><stop offset="0.7378" stop-color="#59ff00"/><stop offset="0.7504" stop-color="#17fb00"/><stop offset="0.7713" stop-color="#0af900"/><stop offset="0.7746" stop-color="#00e500"/><stop offset="0.8089" stop-color="#00e500"/><stop offset="0.8215" stop-color="#00de00"/><stop offset="0.8340" stop-color="#00b300"/><stop offset="0.9093" stop-color="#00b300"/><stop offset="0.9176" stop-color="#00a500"/><stop offset="0.9406" stop-color="#00a500"/><stop offset="0.9511" stop-color="#009c00"/><stop offset="0.9720" stop-color="#009c00"/><stop offset="0.9803" stop-color="#009900"/><stop offset="0.9929" stop-color="#019808"/><stop offset="1.0000" stop-color="#019808"/></linearGradient><linearGradient id="g15" gradientUnits="userSpaceOnUse" x1="87.80" x2="2715.00" y1="0" y2="0"><stop offset="0.0000" stop-color="#00a095"/><stop offset="0.1566" stop-color="#00a095"/><stop offset="0.1775" stop-color="#00a09b"/><stop offset="0.2319" stop-color="#00a09b"/><stop offset="0.2486" stop-color="#019f90"/><stop offset="0.2904" stop-color="#009900"/><stop offset="0.3155" stop-color="#009f00"/><stop offset="0.3322" stop-color="#00aa00"/><stop offset="0.4200" stop-color="#00aa00"/><stop offset="0.4263" stop-color="#00b100"/><stop offset="0.4430" stop-color="#00b100"/><stop offset="0.4514" stop-color="#00b500"/><stop offset="0.4794" stop-color="#00b500"/><stop offset="0.4869" stop-color="#00c800"/><stop offset="0.4945" stop-color="#00c800"/><stop offset="0.4995" stop-color="#00e100"/><stop offset="0.5212" stop-color="#00e100"/><stop offset="0.5329" stop-color="#1dfc00"/><stop offset="0.5497" stop-color="#48ff00"/><stop offset="0.5601" stop-color="#d7f300"/><stop offset="0.5748" stop-color="#efe800"/><stop offset="0.5915" stop-color="#fed100"/><stop offset="0.6040" stop-color="#fdd400"/><stop offset="0.6182" stop-color="#ffcf00"/><stop offset="0.6203" stop-color="#ff6700"/><stop offset="0.6245" stop-color="#ff6700"/><stop offset="0.6266" stop-color="#fed100"/><stop offset="0.6375" stop-color="#fdd400"/><stop offset="0.6500" stop-color="#fed300"/><stop offset="0.6584" stop-color="#f3e500"/><stop offset="0.6667" stop-color="#e6ed00"/><stop offset="0.7086" stop-color="#b5fd00"/><stop offset="0.7378" stop-color="#b5fd00"/><stop offset="0.7504" stop-color="#4fff00"/><stop offset="0.7713" stop-color="#48ff00"/><stop offset="0.7746" stop-color="#00f300"/><stop offset="0.8089" stop-color="#00f300"/><stop offset="0.8215" stop-color="#00f000"/><stop offset="0.8340" stop-color="#00bd00"/><stop offset="0.9093" stop-color="#00bd00"/><stop offset="0.9176" stop-color="#00ad00"/><stop offset="0.9406" stop-color="#00ad00"/><stop offset="0.9511" stop-color="#00a000"/><stop offset="0.9720" stop-color="#00a000"/><stop offset="0.9803" stop-color="#009c00"/><stop offset="0.9929" stop-color="#009900"/><stop offset="1.0000" stop-color="#009900"/></linearGradient><linearGradient id="g16" gradientUnits="userSpaceOnUse" x1="87.80" x2="2715.00" y1="0" y2="0"><stop offset="0.0000" stop-color="#089836"/><stop offset="0.1566" stop-color="#089836"/><stop offset="0.1775" stop-color="#00a098"/><stop offset="0.2319" stop-color="#00a098"/><stop offset="0.2486" stop-color="#069823"/><stop offset="0.2904" stop-color="#009f00"/><stop offset="0.3155" stop-color="#00a700"/><stop offset="0.3322" stop-color="#00b300"/><stop offset="0.4200" stop-color="#00b300"/><stop offset="0.4263" stop-color="#00b600"/><stop offset="0.4430" stop-color="#00b600"/><stop offset="0.4514" stop-color="#00b900"/><stop offset="0.4794" stop-color="#00b900"/><stop offset="0.4869" stop-color="#00d500"/><stop offset="0.4945" stop-color="#00d500"/><stop offset="0.4995" stop-color="#00f300"/><stop offset="0.5212" stop-color="#00f300"/><stop offset="0.5329" stop-color="#73ff00"/><stop offset="0.5497" stop-color="#b8fd00"/><stop offset="0.5601" stop-color="#e8ec00"/><stop offset="0.5748" stop-color="#f5e300"/><stop offset="0.5915" stop-color="#ffcc00"/><stop offset="0.6040" stop-color="#fed200"/><stop offset="0.6182" stop-color="#ffc600"/><stop offset="0.6203" stop-color="#ff5900"/><stop offset="0.6245" stop-color="#ff5900"/><stop offset="0.6266" stop-color="#ffcc00"/><stop offset="0.6375" stop-color="#fed200"/><stop offset="0.6500" stop-color="#ffcf00"/><stop offset="0.6584" stop-color="#f7e100"/><stop offset="0.6667" stop-color="#f3e500"/><stop offset="0.7086" stop-color="#dff000"/><stop offset="0.7378" stop-color="#dff000"/><stop offset="0.7504" stop-color="#b8fd00"/><stop offset="0.7713" stop-color="#b8fd00"/><stop offset="0.7746" stop-color="#40ff00"/><stop offset="0.8215" stop-color="#40ff00"/><stop offset="0.8340" stop-color="#00d400"/><stop offset="0.9093" stop-color="#00d400"/><stop offset="0.9176" stop-color="#00b900"/><stop offset="0.9406" stop-color="#00b900"/><stop offset="0.9511" stop-color="#00ac00"/><stop offset="0.9720" stop-color="#00ac00"/><stop offset="0.9803" stop-color="#00a500"/><stop offset="0.9929" stop-color="#009c00"/><stop offset="1.0000" stop-color="#009c00"/></linearGradient><linearGradient id="g17" gradientUnits="userSpaceOnUse" x1="87.80" x2="2715.00" y1="0" y2="0"><stop offset="0.0000" stop-color="#02980d"/><stop offset="0.1566" stop-color="#02980d"/><stop offset="0.1775" stop-color="#049818"/><stop offset="0.2319" stop-color="#049818"/><stop offset="0.2486" stop-color="#02980b"/><stop offset="0.2904" stop-color="#00a500"/><stop offset="0.3155" stop-color="#00b000"/><stop offset="0.3322" stop-color="#00b900"/><stop offset="0.4200" stop-color="#00b900"/><stop offset="0.4263" stop-color="#00bd00"/><stop offset="0.4430" stop-color="#00bd00"/><stop offset="0.4514" stop-color="#00bf00"/><stop offset="0.4794" stop-color="#00bf00"/><stop offset="0.4869" stop-color="#00ed00"/><stop offset="0.4945" stop-color="#00ed00"/><stop offset="0.4995" stop-color="#60ff00"/><stop offset="0.5212" stop-color="#60ff00"/><stop offset="0.5329" stop-color="#c5f900"/><stop offset="0.5497" stop-color="#d8f300"/><stop offset="0.5601" stop-color="#f5e300"/><stop offset="0.5748" stop-color="#f8e000"/><stop offset="0.5915" stop-color="#ffc500"/><stop offset="0.6040" stop-color="#ffd000"/><stop offset="0.6182" stop-color="#ffb500"/><stop offset="0.6203" stop-color="#ff4500"/><stop offset="0.6245" stop-color="#ff4500"/><stop offset="0.6266" stop-color="#ffc500"/><stop offset="0.6375" stop-color="#ffd000"/><stop offset="0.6500" stop-color="#ffca00"/><stop offset="0.6584" stop-color="#fdd500"/><stop offset="0.6667" stop-color="#f7e100"/><stop offset="0.7086" stop-color="#ebeb00"/><stop offset="0.7378" stop-color="#ebeb00"/><stop offset="0.7504" stop-color="#e2ef00"/><stop offset="0.7713" stop-color="#e2ef00"/><stop offset="0.7746" stop-color="#bdfb00"/><stop offset="0.8005" stop-color="#bdfb00"/><stop offset="0.8089" stop-color="#bffb00"/><stop offset="0.8215" stop-color="#bffb00"/><stop offset="0.8340" stop-color="#06f900"/><stop offset="0.9093" stop-color="#06f900"/><stop offset="0.9176" stop-color="#00ce00"/><stop offset="0.9406" stop-color="#00ce00"/><stop offset="0.9511" stop-color="#00bc00"/><stop offset="0.9720" stop-color="#00bc00"/><stop offset="0.9803" stop-color="#00b200"/><stop offset="0.9929" stop-color="#00a500"/><stop offset="1.0000" stop-color="#00a500"/></linearGradient><linearGradient id="g18" gradientUnits="userSpaceOnUse" x1="87.80" x2="2715.00" y1="0" y2="0"><stop offset="0.0000" stop-color="#009d00"/><stop offset="0.1566" stop-color="#009d00"/><stop offset="0.1775" stop-color="#029809"/><stop offset="0.2319" stop-color="#029809"/><stop offset="0.2486" stop-color="#009a00"/><stop offset="0.2904" stop-color="#00ad00"/><stop offset="0.3155" stop-color="#00b900"/><stop offset="0.3322" stop-color="#00c000"/><stop offset="0.4200" stop-color="#00c000"/><stop offset="0.4263" stop-color="#00c400"/><stop offset="0.4430" stop-color="#00c400"/><stop offset="0.4514" stop-color="#00c800"/><stop offset="0.4794" stop-color="#00c800"/><stop offset="0.4869" stop-color="#25fd00"/><stop offset="0.4945" stop-color="#25fd00"/><stop offset="0.4995" stop-color="#c0fa00"/><stop offset="0.5212" stop-color="#c0fa00"/><stop offset="0.5329" stop-color="#e0f000"/><stop offset="0.5497" stop-color="#ebeb00"/><stop offset="0.5601" stop-color="#f9de00"/><stop offset="0.5748" stop-color="#fbd900"/><stop offset="0.5915" stop-color="#ffbc00"/><stop offset="0.6040" stop-color="#ffcc00"/><stop offset="0.6182" stop-color="#ffad00"/><stop offset="0.6203" stop-color="#ff3000"/><stop offset="0.6245" stop-color="#ff3000"/><stop offset="0.6266" stop-color="#ffbc00"/><stop offset="0.6375" stop-color="#ffcc00"/><stop offset="0.6500" stop-color="#ffc600"/><stop offset="0.6584" stop-color="#ffcc00"/><stop offset="0.6667" stop-color="#fadb00"/><stop offset="0.7086" stop-color="#f3e500"/><stop offset="0.7378" stop-color="#f3e500"/><stop offset="0.7504" stop-color="#ede900"/><stop offset="0.7713" stop-color="#ede900"/><stop offset="0.7746" stop-color="#def000"/><stop offset="0.8005" stop-color="#def000"/><stop offset="0.8089" stop-color="#e5ed00"/><stop offset="0.8215" stop-color="#e5ed00"/><stop offset="0.8340" stop-color="#79ff00"/><stop offset="0.9093" stop-color="#79ff00"/><stop offset="0.9176" stop-color="#00ee00"/><stop offset="0.9406" stop-color="#00ee00"/><stop offset="0.9511" stop-color="#00d300"/><stop offset="0.9720" stop-color="#00d300"/><stop offset="0.9803" stop-color="#00c000"/><stop offset="0.9929" stop-color="#00af00"/><stop offset="1.0000" stop-color="#00af00"/></linearGradient><linearGradient id="g19" gradientUnits="userSpaceOnUse" x1="87.80" x2="2715.00" y1="0" y2="0"><stop offset="0.0000" stop-color="#00a600"/><stop offset="0.1566" stop-color="#00a600"/><stop offset="0.1775" stop-color="#009a00"/><stop offset="0.2319" stop-color="#009a00"/><stop offset="0.2486" stop-color="#00a100"/><stop offset="0.2904" stop-color="#00b600"/><stop offset="0.3155" stop-color="#00c200"/><stop offset="0.3322" stop-color="#00cb00"/><stop offset="0.4200" stop-color="#00cb00"/><stop offset="0.4263" stop-color="#00d000"/><stop offset="0.4430" stop-color="#00d000"/><stop offset="0.4514" stop-color="#00d400"/><stop offset="0.4794" stop-color="#00d400"/><stop offset="0.4869" stop-color="#83ff00"/><stop offset="0.4945" stop-color="#83ff00"/><stop offset="0.4995" stop-color="#dbf200"/><stop offset="0.5212" stop-color="#dbf200"/><stop offset="0.5329" stop-color="#f0e800"/><stop offset="0.5497" stop-color="#f4e400"/><stop offset="0.5601" stop-color="#fbd800"/><stop offset="0.5748" stop-color="#fed200"/><stop offset="0.5915" stop-color="#ffb500"/><stop offset="0.6040" stop-color="#ffc700"/><stop offset="0.6182" stop-color="#ffac00"/><stop offset="0.6203" stop-color="#ff2100"/><stop offset="0.6245" stop-color="#ff2100"/><stop offset="0.6266" stop-color="#ffb500"/><stop offset="0.6375" stop-color="#ffc700"/><stop offset="0.6500" stop-color="#ffbf00"/><stop offset="0.6584" stop-color="#ffc700"/><stop offset="0.6667" stop-color="#fed300"/><stop offset="0.7086" stop-color="#f8e000"/><stop offset="0.7378" stop-color="#f8e000"/><stop offset="0.7504" stop-color="#f4e400"/><stop offset="0.7713" stop-color="#f4e400"/><stop offset="0.7746" stop-color="#ecea00"/><stop offset="0.8005" stop-color="#ecea00"/><stop offset="0.8089" stop-color="#f2e600"/><stop offset="0.8215" stop-color="#f2e600"/><stop offset="0.8340" stop-color="#cbf700"/><stop offset="0.9093" stop-color="#cbf700"/><stop offset="0.9176" stop-color="#43ff00"/><stop offset="0.9406" stop-color="#43ff00"/><stop offset="0.9511" stop-color="#00f400"/><stop offset="0.9720" stop-color="#00f400"/><stop offset="0.9803" stop-color="#00d300"/><stop offset="0.9929" stop-color="#00b900"/><stop offset="1.0000" stop-color="#00b900"/></linearGradient><linearGradient id="g20" gradientUnits="userSpaceOnUse" x1="87.80" x2="2715.00" y1="0" y2="0"><stop offset="0.0000" stop-color="#00af00"/><stop offset="0.1566" stop-color="#00af00"/><stop offset="0.1775" stop-color="#00a200"/><stop offset="0.2319" stop-color="#00a200"/><stop offset="0.2486" stop-color="#00a800"/><stop offset="0.2904" stop-color="#00bf00"/><stop offset="0.3155" stop-color="#00cd00"/><stop offset="0.3322" stop-color="#00d700"/><stop offset="0.4200" stop-color="#00d700"/><stop offset="0.4263" stop-color="#00de00"/><stop offset="0.4430" stop-color="#00de00"/><stop offset="0.4514" stop-color="#00e500"/><stop offset="0.4794" stop-color="#00e500"/><stop offset="0.4869" stop-color="#c0fa00"/><stop offset="0.4945" stop-color="#c0fa00"/><stop offset="0.4995" stop-color="#ebeb00"/><stop offset="0.5212" stop-color="#ebeb00"/><stop offset="0.5329" stop-color="#f4e400"/><stop offset="0.5497" stop-color="#f8df00"/><stop offset="0.5601" stop-color="#fed300"/><stop offset="0.5748" stop-color="#ffcd00"/><stop offset="0.5915" stop-color="#ffaf00"/><stop offset="0.6040" stop-color="#ffc100"/><stop offset="0.6182" stop-color="#ffaa00"/><stop offset="0.6203" stop-color="#ff1300"/><stop offset="0.6245" stop-color="#ff1300"/><stop offset="0.6266" stop-color="#ffaf00"/><stop offset="0.6375" stop-color="#ffc100"/><stop offset="0.6500" stop-color="#ffb700"/><stop offset="0.6584" stop-color="#ffc100"/><stop offset="0.6667" stop-color="#ffcc00"/><stop offset="0.7086" stop-color="#fbd800"/><stop offset="0.7378" stop-color="#fbd800"/><stop offset="0.7504" stop-color="#f8df00"/><stop offset="0.7713" stop-color="#f8df00"/><stop offset="0.7746" stop-color="#f1e700"/><stop offset="0.8005" stop-color="#f1e700"/><stop offset="0.8089" stop-color="#f7e100"/><stop offset="0.8215" stop-color="#f7e100"/><stop offset="0.8340" stop-color="#e7ed00"/><stop offset="0.9093" stop-color="#e7ed00"/><stop offset="0.9176" stop-color="#bbfc00"/><stop offset="0.9406" stop-color="#bbfc00"/><stop offset="0.9511" stop-color="#5dff00"/><stop offset="0.9720" stop-color="#5dff00"/><stop offset="0.9803" stop-color="#00ee00"/><stop offset="0.9929" stop-color="#00c700"/><stop offset="1.0000" stop-color="#00c700"/></linearGradient><linearGradient id="g21" gradientUnits="userSpaceOnUse" x1="87.80" x2="2715.00" y1="0" y2="0"><stop offset="0.0000" stop-color="#00b800"/><stop offset="0.1566" stop-color="#00b800"/><stop offset="0.1775" stop-color="#00a900"/><stop offset="0.2319" stop-color="#00a900"/><stop offset="0.2486" stop-color="#00b200"/><stop offset="0.2904" stop-color="#00cb00"/><stop offset="0.3155" stop-color="#00da00"/><stop offset="0.3322" stop-color="#00e900"/><stop offset="0.4200" stop-color="#00e900"/><stop offset="0.4263" stop-color="#00f000"/><stop offset="0.4430" stop-color="#00f000"/><stop offset="0.4514" stop-color="#0ffa00"/><stop offset="0.4794" stop-color="#0ffa00"/><stop offset="0.4869" stop-color="#dbf200"/><stop offset="0.4945" stop-color="#dbf200"/><stop offset="0.4995" stop-color="#f1e700"/><stop offset="0.5212" stop-color="#f1e700"/><stop offset="0.5329" stop-color="#f7e100"/><stop offset="0.5497" stop-color="#fcd600"/><stop offset="0.5601" stop-color="#ffcd00"/><stop offset="0.5748" stop-color="#ffc800"/><stop offset="0.5915" stop-color="#ffaa00"/><stop offset="0.6040" stop-color="#ffba00"/><stop offset="0.6182" stop-color="#ffa800"/><stop offset="0.6203" stop-color="#ff0400"/><stop offset="0.6245" stop-color="#ff0400"/><stop offset="0.6266" stop-color="#ffaa00"/><stop offset="0.6375" stop-color="#ffba00"/><stop offset="0.6500" stop-color="#ffb100"/><stop offset="0.6584" stop-color="#ffba00"/><stop offset="0.6667" stop-color="#ffc500"/><stop offset="0.7086" stop-color="#ffcf00"/><stop offset="0.7378" stop-color="#ffcf00"/><stop offset="0.7504" stop-color="#fcd600"/><stop offset="0.7713" stop-color="#fcd600"/><stop offset="0.7746" stop-color="#f5e300"/><stop offset="0.8005" stop-color="#f5e300"/><stop offset="0.8089" stop-color="#fbda00"/><stop offset="0.8215" stop-color="#fbda00"/><stop offset="0.8340" stop-color="#f4e400"/><stop offset="0.9093" stop-color="#f4e400"/><stop offset="0.9176" stop-color="#dbf200"/><stop offset="0.9406" stop-color="#dbf200"/><stop offset="0.9511" stop-color="#c4f900"/><stop offset="0.9720" stop-color="#c4f900"/><stop offset="0.9803" stop-color="#43ff00"/><stop offset="0.9929" stop-color="#00dc00"/><stop offset="1.0000" stop-color="#00dc00"/></linearGradient><linearGradient id="g22" gradientUnits="userSpaceOnUse" x1="87.80" x2="2715.00" y1="0" y2="0"><stop offset="0.0000" stop-color="#00c100"/><stop offset="0.1566" stop-color="#00c100"/><stop offset="0.1775" stop-color="#00b400"/><stop offset="0.2319" stop-color="#00b400"/><stop offset="0.2486" stop-color="#00bc00"/><stop offset="0.2904" stop-color="#00d700"/><stop offset="0.3155" stop-color="#00ec00"/><stop offset="0.3322" stop-color="#25fd00"/><stop offset="0.4200" stop-color="#25fd00"/><stop offset="0.4263" stop-color="#60ff00"/><stop offset="0.4430" stop-color="#60ff00"/><stop offset="0.4514" stop-color="#9dff00"/><stop offset="0.4794" stop-color="#9dff00"/><stop offset="0.4869" stop-color="#f0e800"/><stop offset="0.4945" stop-color="#f0e800"/><stop offset="0.4995" stop-color="#f5e300"/><stop offset="0.5212" stop-color="#f5e300"/><stop offset="0.5329" stop-color="#fadc00"/><stop offset="0.5497" stop-color="#ffce00"/><stop offset="0.5601" stop-color="#ffc700"/><stop offset="0.5748" stop-color="#ffc400"/><stop offset="0.5915" stop-color="#ffa400"/><stop offset="0.6040" stop-color="#ffb200"/><stop offset="0.6182" stop-color="#ffa400"/><stop offset="0.6203" stop-color="#fd0000"/><stop offset="0.6245" stop-color="#fd0000"/><stop offset="0.6266" stop-color="#ffa400"/><stop offset="0.6375" stop-color="#ffb200"/><stop offset="0.6500" stop-color="#ffaa00"/><stop offset="0.6584" stop-color="#ffb100"/><stop offset="0.6667" stop-color="#ffba00"/><stop offset="0.7086" stop-color="#ffc700"/><stop offset="0.7378" stop-color="#ffc700"/><stop offset="0.7504" stop-color="#ffce00"/><stop offset="0.7713" stop-color="#ffce00"/><stop offset="0.7746" stop-color="#f8df00"/><stop offset="0.8005" stop-color="#f8df00"/><stop offset="0.8089" stop-color="#fed200"/><stop offset="0.8215" stop-color="#fed200"/><stop offset="0.8340" stop-color="#f8df00"/><stop offset="0.9093" stop-color="#f8df00"/><stop offset="0.9176" stop-color="#f0e800"/><stop offset="0.9406" stop-color="#f0e800"/><stop offset="0.9511" stop-color="#e0f000"/><stop offset="0.9720" stop-color="#e0f000"/><stop offset="0.9803" stop-color="#bbfc00"/><stop offset="0.9929" stop-color="#06f900"/><stop offset="1.0000" stop-color="#06f900"/></linearGradient><linearGradient id="g23" gradientUnits="userSpaceOnUse" x1="87.80" x2="2715.00" y1="0" y2="0"><stop offset="0.0000" stop-color="#00ca00"/><stop offset="0.1566" stop-color="#00ca00"/><stop offset="0.1775" stop-color="#00be00"/><stop offset="0.2319" stop-color="#00be00"/><stop offset="0.2486" stop-color="#00c700"/><stop offset="0.2904" stop-color="#00e900"/><stop offset="0.3155" stop-color="#40ff00"/><stop offset="0.3322" stop-color="#b3fe00"/><stop offset="0.4200" stop-color="#b3fe00"/><stop offset="0.4263" stop-color="#c4f900"/><stop offset="0.4430" stop-color="#c4f900"/><stop offset="0.4514" stop-color="#d0f500"/><stop offset="0.4794" stop-color="#d0f500"/><stop offset="0.4869" stop-color="#f9de00"/><stop offset="0.4945" stop-color="#f9de00"/><stop offset="0.4995" stop-color="#fbda00"/><stop offset="0.5212" stop-color="#fbda00"/><stop offset="0.5329" stop-color="#fed100"/><stop offset="0.5497" stop-color="#ffc600"/><stop offset="0.5601" stop-color="#ffc100"/><stop offset="0.5748" stop-color="#ffbe00"/><stop offset="0.5915" stop-color="#ff9d00"/><stop offset="0.6040" stop-color="#ffaa00"/><stop offset="0.6182" stop-color="#ff9d00"/><stop offset="0.6203" stop-color="#f90000"/><stop offset="0.6245" stop-color="#f90000"/><stop offset="0.6266" stop-color="#ff9d00"/><stop offset="0.6375" stop-color="#ffaa00"/><stop offset="0.6500" stop-color="#ffa100"/><stop offset="0.6584" stop-color="#ffa800"/><stop offset="0.6667" stop-color="#ffae00"/><stop offset="0.7086" stop-color="#ffb800"/><stop offset="0.7378" stop-color="#ffb800"/><stop offset="0.7504" stop-color="#ffc500"/><stop offset="0.7713" stop-color="#ffc500"/><stop offset="0.7746" stop-color="#fcd600"/><stop offset="0.8005" stop-color="#fcd600"/><stop offset="0.8089" stop-color="#ffcb00"/><stop offset="0.8215" stop-color="#ffcb00"/><stop offset="0.8340" stop-color="#fcd600"/><stop offset="0.9093" stop-color="#fcd600"/><stop offset="0.9176" stop-color="#f7e100"/><stop offset="0.9406" stop-color="#f7e100"/><stop offset="0.9511" stop-color="#f2e600"/><stop offset="0.9720" stop-color="#f2e600"/><stop offset="0.9803" stop-color="#dbf200"/><stop offset="0.9929" stop-color="#79ff00"/><stop offset="1.0000" stop-color="#79ff00"/></linearGradient><linearGradient id="g24" gradientUnits="userSpaceOnUse" x1="87.80" x2="2715.00" y1="0" y2="0"><stop offset="0.0000" stop-color="#00d200"/><stop offset="0.1566" stop-color="#00d200"/><stop offset="0.1775" stop-color="#00c900"/><stop offset="0.2319" stop-color="#00c900"/><stop offset="0.2486" stop-color="#00d100"/><stop offset="0.2904" stop-color="#25fd00"/><stop offset="0.3155" stop-color="#bbfc00"/><stop offset="0.3322" stop-color="#d6f300"/><stop offset="0.4200" stop-color="#d6f300"/><stop offset="0.4263" stop-color="#e0f000"/><stop offset="0.4430" stop-color="#e0f000"/><stop offset="0.4514" stop-color="#e8ec00"/><stop offset="0.4794" stop-color="#e8ec00"/><stop offset="0.4869" stop-color="#ffcd00"/><stop offset="0.4945" stop-color="#ffcd00"/><stop offset="0.4995" stop-color="#ffcf00"/><stop offset="0.5212" stop-color="#ffcf00"/><stop offset="0.5329" stop-color="#ffc800"/><stop offset="0.5497" stop-color="#ffba00"/><stop offset="0.5601" stop-color="#ffb800"/><stop offset="0.5748" stop-color="#ffb800"/><stop offset="0.5915" stop-color="#ff9200"/><stop offset="0.6040" stop-color="#ffa200"/><stop offset="0.6182" stop-color="#ff9200"/><stop offset="0.6203" stop-color="#f50000"/><stop offset="0.6245" stop-color="#f50000"/><stop offset="0.6266" stop-color="#ff9200"/><stop offset="0.6375" stop-color="#ffa200"/><stop offset="0.6500" stop-color="#ff9500"/><stop offset="0.6584" stop-color="#ff9f00"/><stop offset="0.6667" stop-color="#ffa300"/><stop offset="0.7086" stop-color="#ffab00"/><stop offset="0.7378" stop-color="#ffab00"/><stop offset="0.7504" stop-color="#ffb400"/><stop offset="0.7713" stop-color="#ffb400"/><stop offset="0.7746" stop-color="#ffce00"/><stop offset="0.8005" stop-color="#ffce00"/><stop offset="0.8089" stop-color="#ffc500"/><stop offset="0.8215" stop-color="#ffc500"/><stop offset="0.8340" stop-color="#ffcd00"/><stop offset="0.9093" stop-color="#ffcd00"/><stop offset="0.9176" stop-color="#fcd700"/><stop offset="0.9406" stop-color="#fcd700"/><stop offset="0.9511" stop-color="#f9dd00"/><stop offset="0.9720" stop-color="#f9dd00"/><stop offset="0.9803" stop-color="#f0e800"/><stop offset="0.9929" stop-color="#cbf700"/><stop offset="1.0000" stop-color="#cbf700"/></linearGradient><linearGradient id="g25" gradientUnits="userSpaceOnUse" x1="87.80" x2="2715.00" y1="0" y2="0"><stop offset="0.0000" stop-color="#00da00"/><stop offset="0.1566" stop-color="#00da00"/><stop offset="0.1775" stop-color="#00d300"/><stop offset="0.2319" stop-color="#00d300"/><stop offset="0.2486" stop-color="#00dc00"/><stop offset="0.2904" stop-color="#b8fd00"/><stop offset="0.3155" stop-color="#e1ef00"/><stop offset="0.3322" stop-color="#ecea00"/><stop offset="0.4200" stop-color="#ecea00"/><stop offset="0.4263" stop-color="#f1e700"/><stop offset="0.4430" stop-color="#f1e700"/><stop offset="0.4514" stop-color="#f4e400"/><stop offset="0.4794" stop-color="#f4e400"/><stop offset="0.4869" stop-color="#ffb400"/><stop offset="0.4945" stop-color="#ffb400"/><stop offset="0.4995" stop-color="#ffb000"/><stop offset="0.5212" stop-color="#ffb000"/><stop offset="0.5329" stop-color="#ffa900"/><stop offset="0.5497" stop-color="#ffa100"/><stop offset="0.5748" stop-color="#ffa100"/><stop offset="0.5915" stop-color="#ff5800"/><stop offset="0.6040" stop-color="#ff6d00"/><stop offset="0.6182" stop-color="#ff5800"/><stop offset="0.6203" stop-color="#f90000"/><stop offset="0.6245" stop-color="#f90000"/><stop offset="0.6266" stop-color="#ff5800"/><stop offset="0.6375" stop-color="#ff6d00"/><stop offset="0.6500" stop-color="#ff5800"/><stop offset="0.6584" stop-color="#ff6600"/><stop offset="0.6667" stop-color="#ff8400"/><stop offset="0.7086" stop-color="#ff9a00"/><stop offset="0.7378" stop-color="#ff9a00"/><stop offset="0.7504" stop-color="#ffa800"/><stop offset="0.7713" stop-color="#ffa800"/><stop offset="0.7746" stop-color="#ffc100"/><stop offset="0.8005" stop-color="#ffc100"/><stop offset="0.8089" stop-color="#ffbb00"/><stop offset="0.8215" stop-color="#ffbb00"/><stop offset="0.8340" stop-color="#ffb900"/><stop offset="0.9093" stop-color="#ffb900"/><stop offset="0.9176" stop-color="#ffcc00"/><stop offset="0.9406" stop-color="#ffcc00"/><stop offset="0.9511" stop-color="#ffcf00"/><stop offset="0.9720" stop-color="#ffcf00"/><stop offset="0.9803" stop-color="#f8e000"/><stop offset="0.9929" stop-color="#eaeb00"/><stop offset="1.0000" stop-color="#eaeb00"/></linearGradient><linearGradient id="g26" gradientUnits="userSpaceOnUse" x1="87.80" x2="2715.00" y1="0" y2="0"><stop offset="0.0000" stop-color="#00f200"/><stop offset="0.1566" stop-color="#00f200"/><stop offset="0.1775" stop-color="#00df00"/><stop offset="0.2319" stop-color="#00df00"/><stop offset="0.2486" stop-color="#00ec00"/><stop offset="0.2904" stop-color="#e5ee00"/><stop offset="0.3155" stop-color="#f3e500"/><stop offset="0.3322" stop-color="#f5e300"/><stop offset="0.4200" stop-color="#f5e300"/><stop offset="0.4263" stop-color="#f8e000"/><stop offset="0.4430" stop-color="#f8e000"/><stop offset="0.4514" stop-color="#fadb00"/><stop offset="0.4794" stop-color="#fadb00"/><stop offset="0.4869" stop-color="#ff9e00"/><stop offset="0.4945" stop-color="#ff9e00"/><stop offset="0.4995" stop-color="#ff7000"/><stop offset="0.5212" stop-color="#ff7000"/><stop offset="0.5329" stop-color="#ff6200"/><stop offset="0.5497" stop-color="#ff4d00"/><stop offset="0.5748" stop-color="#ff4d00"/><stop offset="0.5915" stop-color="#ff0500"/><stop offset="0.6584" stop-color="#ff0500"/><stop offset="0.6667" stop-color="#ff4400"/><stop offset="0.7086" stop-color="#ff5f00"/><stop offset="0.7378" stop-color="#ff5f00"/><stop offset="0.7504" stop-color="#ff9100"/><stop offset="0.7713" stop-color="#ff9100"/><stop offset="0.7746" stop-color="#ffaf00"/><stop offset="0.8005" stop-color="#ffaf00"/><stop offset="0.8089" stop-color="#ffac00"/><stop offset="0.8215" stop-color="#ffaf00"/><stop offset="0.8340" stop-color="#ffa600"/><stop offset="0.8716" stop-color="#ffa600"/><stop offset="0.8779" stop-color="#ffa500"/><stop offset="0.8884" stop-color="#ffa600"/><stop offset="0.9093" stop-color="#ffa600"/><stop offset="0.9176" stop-color="#ffb600"/><stop offset="0.9406" stop-color="#ffb600"/><stop offset="0.9511" stop-color="#ffbf00"/><stop offset="0.9720" stop-color="#ffbf00"/><stop offset="0.9803" stop-color="#fed200"/><stop offset="0.9929" stop-color="#f7e100"/><stop offset="1.0000" stop-color="#f7e100"/></linearGradient><linearGradient id="g27" gradientUnits="userSpaceOnUse" x1="87.80" x2="2715.00" y1="0" y2="0"><stop offset="0.0000" stop-color="#78ff00"/><stop offset="0.1566" stop-color="#78ff00"/><stop offset="0.1775" stop-color="#00f000"/><stop offset="0.2319" stop-color="#00f000"/><stop offset="0.2486" stop-color="#2cfe00"/><stop offset="0.2904" stop-color="#f4e400"/><stop offset="0.3155" stop-color="#f9de00"/><stop offset="0.3322" stop-color="#fcd800"/><stop offset="0.3573" stop-color="#fcd700"/><stop offset="0.4200" stop-color="#fcd700"/><stop offset="0.4263" stop-color="#fed200"/><stop offset="0.4430" stop-color="#fed200"/><stop offset="0.4514" stop-color="#ffcf00"/><stop offset="0.4794" stop-color="#ffcf00"/><stop offset="0.4869" stop-color="#ff5900"/><stop offset="0.4945" stop-color="#ff5900"/><stop offset="0.4995" stop-color="#ff0000"/><stop offset="0.5120" stop-color="#ff0000"/><stop offset="0.5170" stop-color="#fe0000"/><stop offset="0.5329" stop-color="#fe0000"/><stop offset="0.5497" stop-color="#fc0000"/><stop offset="0.5748" stop-color="#fc0000"/><stop offset="0.5915" stop-color="#f70000"/><stop offset="0.6584" stop-color="#f70000"/><stop offset="0.6667" stop-color="#ff1300"/><stop offset="0.7086" stop-color="#ff2200"/><stop offset="0.7378" stop-color="#ff2200"/><stop offset="0.7504" stop-color="#ff5500"/><stop offset="0.7713" stop-color="#ff5500"/><stop offset="0.7746" stop-color="#ffa000"/><stop offset="0.8005" stop-color="#ffa000"/><stop offset="0.8089" stop-color="#ff9a00"/><stop offset="0.8215" stop-color="#ffa300"/><stop offset="0.8340" stop-color="#ff9600"/><stop offset="0.8716" stop-color="#ff9600"/><stop offset="0.8779" stop-color="#ff6900"/><stop offset="0.8884" stop-color="#ff9600"/><stop offset="0.9093" stop-color="#ff9600"/><stop offset="0.9176" stop-color="#ff9f00"/><stop offset="0.9406" stop-color="#ff9f00"/><stop offset="0.9511" stop-color="#ffac00"/><stop offset="0.9720" stop-color="#ffac00"/><stop offset="0.9803" stop-color="#ffc500"/><stop offset="0.9929" stop-color="#ffd000"/><stop offset="1.0000" stop-color="#ffd000"/></linearGradient><linearGradient id="g28" gradientUnits="userSpaceOnUse" x1="87.80" x2="2715.00" y1="0" y2="0"><stop offset="0.0000" stop-color="#e0f000"/><stop offset="0.1566" stop-color="#e0f000"/><stop offset="0.1775" stop-color="#50ff00"/><stop offset="0.2319" stop-color="#50ff00"/><stop offset="0.2486" stop-color="#c6f900"/><stop offset="0.2904" stop-color="#f9dd00"/><stop offset="0.3155" stop-color="#ffcd00"/><stop offset="0.3322" stop-color="#ffc900"/><stop offset="0.3573" stop-color="#ffc600"/><stop offset="0.4200" stop-color="#ffc600"/><stop offset="0.4263" stop-color="#ffc400"/><stop offset="0.4430" stop-color="#ffc400"/><stop offset="0.4514" stop-color="#ffc300"/><stop offset="0.4794" stop-color="#ffc300"/><stop offset="0.4869" stop-color="#ff0f00"/><stop offset="0.4903" stop-color="#ff0b00"/><stop offset="0.4945" stop-color="#ff0b00"/><stop offset="0.4995" stop-color="#f80000"/><stop offset="0.5120" stop-color="#f80000"/><stop offset="0.5170" stop-color="#f70000"/><stop offset="0.5329" stop-color="#f70000"/><stop offset="0.5497" stop-color="#f50000"/><stop offset="0.5601" stop-color="#f40000"/><stop offset="0.5748" stop-color="#f40000"/><stop offset="0.5915" stop-color="#ee0000"/><stop offset="0.6584" stop-color="#ee0000"/><stop offset="0.6667" stop-color="#fc0000"/><stop offset="0.7086" stop-color="#fd0000"/><stop offset="0.7378" stop-color="#fd0000"/><stop offset="0.7504" stop-color="#ff1700"/><stop offset="0.7713" stop-color="#ff1700"/><stop offset="0.7746" stop-color="#ff7900"/><stop offset="0.8005" stop-color="#ff7900"/><stop offset="0.8089" stop-color="#ff6700"/><stop offset="0.8215" stop-color="#ff9900"/><stop offset="0.8340" stop-color="#ff7800"/><stop offset="0.8465" stop-color="#ff6800"/><stop offset="0.8528" stop-color="#ff7b00"/><stop offset="0.8612" stop-color="#ff6800"/><stop offset="0.8716" stop-color="#ff7b00"/><stop offset="0.8779" stop-color="#ff2700"/><stop offset="0.8884" stop-color="#ff7b00"/><stop offset="0.8967" stop-color="#ff6800"/><stop offset="0.9093" stop-color="#ff7b00"/><stop offset="0.9176" stop-color="#ff7b00"/><stop offset="0.9239" stop-color="#ff6d00"/><stop offset="0.9344" stop-color="#ff7b00"/><stop offset="0.9406" stop-color="#ff7300"/><stop offset="0.9511" stop-color="#ff7b00"/><stop offset="0.9594" stop-color="#ff7300"/><stop offset="0.9678" stop-color="#ff7b00"/><stop offset="0.9720" stop-color="#ff7b00"/><stop offset="0.9803" stop-color="#ffb700"/><stop offset="0.9929" stop-color="#ffbe00"/><stop offset="1.0000" stop-color="#ffbe00"/></linearGradient><linearGradient id="g29" gradientUnits="userSpaceOnUse" x1="87.80" x2="2715.00" y1="0" y2="0"><stop offset="0.0000" stop-color="#f3e500"/><stop offset="0.1566" stop-color="#f3e500"/><stop offset="0.1775" stop-color="#d3f400"/><stop offset="0.2319" stop-color="#d3f400"/><stop offset="0.2486" stop-color="#f0e800"/><stop offset="0.2904" stop-color="#fdd500"/><stop offset="0.3155" stop-color="#ffbc00"/><stop offset="0.3322" stop-color="#ffb700"/><stop offset="0.3573" stop-color="#ffb200"/><stop offset="0.3740" stop-color="#ffb100"/><stop offset="0.3803" stop-color="#ffb000"/><stop offset="0.3866" stop-color="#ffb100"/><stop offset="0.3929" stop-color="#ffb000"/><stop offset="0.4033" stop-color="#ffb100"/><stop offset="0.4117" stop-color="#ffb000"/><stop offset="0.4200" stop-color="#ffb100"/><stop offset="0.4263" stop-color="#ffb000"/><stop offset="0.4305" stop-color="#ffb100"/><stop offset="0.4347" stop-color="#ffae00"/><stop offset="0.4430" stop-color="#ffaf00"/><stop offset="0.4514" stop-color="#ffac00"/><stop offset="0.4577" stop-color="#ffac00"/><stop offset="0.4639" stop-color="#ffaf00"/><stop offset="0.4702" stop-color="#ffad00"/><stop offset="0.4765" stop-color="#ffaf00"/><stop offset="0.4794" stop-color="#ffad00"/><stop offset="0.4869" stop-color="#fa0000"/><stop offset="0.4903" stop-color="#f80000"/><stop offset="0.4945" stop-color="#f80000"/><stop offset="0.4995" stop-color="#f10000"/><stop offset="0.5120" stop-color="#f10000"/><stop offset="0.5170" stop-color="#ef0000"/><stop offset="0.5329" stop-color="#ef0000"/><stop offset="0.5497" stop-color="#ed0000"/><stop offset="0.5601" stop-color="#eb0000"/><stop offset="0.5748" stop-color="#eb0000"/><stop offset="0.5915" stop-color="#e80000"/><stop offset="0.6584" stop-color="#e80000"/><stop offset="0.6667" stop-color="#f50000"/><stop offset="0.7086" stop-color="#f70000"/><stop offset="0.7378" stop-color="#f70000"/><stop offset="0.7504" stop-color="#fc0000"/><stop offset="0.7713" stop-color="#fc0000"/><stop offset="0.7746" stop-color="#ff4c00"/><stop offset="0.8005" stop-color="#ff4c00"/><stop offset="0.8089" stop-color="#ff3400"/><stop offset="0.8215" stop-color="#ff8400"/><stop offset="0.8340" stop-color="#ff6d00"/><stop offset="0.8465" stop-color="#ff3900"/><stop offset="0.8528" stop-color="#ff7500"/><stop offset="0.8612" stop-color="#ff3900"/><stop offset="0.8716" stop-color="#ff7500"/><stop offset="0.8779" stop-color="#ff0a00"/><stop offset="0.8884" stop-color="#ff7500"/><stop offset="0.8967" stop-color="#ff3900"/><stop offset="0.9093" stop-color="#ff7500"/><stop offset="0.9176" stop-color="#ff7500"/><stop offset="0.9239" stop-color="#ff4d00"/><stop offset="0.9344" stop-color="#ff7500"/><stop offset="0.9406" stop-color="#ff5e00"/><stop offset="0.9511" stop-color="#ff7500"/><stop offset="0.9594" stop-color="#ff5e00"/><stop offset="0.9678" stop-color="#ff7500"/><stop offset="0.9720" stop-color="#ff7500"/><stop offset="0.9803" stop-color="#ffac00"/><stop offset="1.0000" stop-color="#ffac00"/></linearGradient><linearGradient id="g30" gradientUnits="userSpaceOnUse" x1="87.80" x2="2715.00" y1="0" y2="0"><stop offset="0.0000" stop-color="#f9de00"/><stop offset="0.1566" stop-color="#f9de00"/><stop offset="0.1775" stop-color="#f1e700"/><stop offset="0.2319" stop-color="#f1e700"/><stop offset="0.2486" stop-color="#f4e400"/><stop offset="0.2904" stop-color="#ffd000"/><stop offset="0.3155" stop-color="#ffb000"/><stop offset="0.3322" stop-color="#ffac00"/><stop offset="0.3573" stop-color="#ffa900"/><stop offset="0.3740" stop-color="#ffa400"/><stop offset="0.3803" stop-color="#ff9d00"/><stop offset="0.3866" stop-color="#ffa300"/><stop offset="0.3929" stop-color="#ff9d00"/><stop offset="0.4033" stop-color="#ffa400"/><stop offset="0.4117" stop-color="#ff9b00"/><stop offset="0.4200" stop-color="#ffa300"/><stop offset="0.4263" stop-color="#ff9b00"/><stop offset="0.4305" stop-color="#ffa100"/><stop offset="0.4347" stop-color="#ff8e00"/><stop offset="0.4430" stop-color="#ff9900"/><stop offset="0.4514" stop-color="#ff7200"/><stop offset="0.4577" stop-color="#ff7200"/><stop offset="0.4639" stop-color="#ff9900"/><stop offset="0.4702" stop-color="#ff8100"/><stop offset="0.4765" stop-color="#ff9600"/><stop offset="0.4794" stop-color="#ff8100"/><stop offset="0.4869" stop-color="#f50000"/><stop offset="0.4903" stop-color="#f30000"/><stop offset="0.4945" stop-color="#f30000"/><stop offset="0.4995" stop-color="#ed0000"/><stop offset="0.5120" stop-color="#ed0000"/><stop offset="0.5170" stop-color="#ea0000"/><stop offset="0.5329" stop-color="#ea0000"/><stop offset="0.5497" stop-color="#e80000"/><stop offset="0.5601" stop-color="#e60000"/><stop offset="0.5748" stop-color="#e60000"/><stop offset="0.5915" stop-color="#e30000"/><stop offset="0.6584" stop-color="#e30000"/><stop offset="0.6667" stop-color="#ef0000"/><stop offset="0.7086" stop-color="#f10000"/><stop offset="0.7378" stop-color="#f10000"/><stop offset="0.7504" stop-color="#f70000"/><stop offset="0.7713" stop-color="#f70000"/><stop offset="0.7746" stop-color="#ff1600"/><stop offset="0.8005" stop-color="#ff1600"/><stop offset="0.8089" stop-color="#ff0800"/><stop offset="0.8215" stop-color="#ff7000"/><stop offset="0.8340" stop-color="#ff6300"/><stop offset="0.8465" stop-color="#ff0a00"/><stop offset="0.8528" stop-color="#ff6f00"/><stop offset="0.8612" stop-color="#ff0a00"/><stop offset="0.8716" stop-color="#ff6f00"/><stop offset="0.8779" stop-color="#fc0000"/><stop offset="0.8884" stop-color="#ff7000"/><stop offset="0.8967" stop-color="#ff0a00"/><stop offset="0.9093" stop-color="#ff7000"/><stop offset="0.9176" stop-color="#ff6f00"/><stop offset="0.9239" stop-color="#ff2600"/><stop offset="0.9344" stop-color="#ff6f00"/><stop offset="0.9406" stop-color="#ff4800"/><stop offset="0.9511" stop-color="#ff7000"/><stop offset="0.9594" stop-color="#ff4800"/><stop offset="0.9678" stop-color="#ff7000"/><stop offset="0.9720" stop-color="#ff6f00"/><stop offset="0.9803" stop-color="#ffa600"/><stop offset="1.0000" stop-color="#ffa600"/></linearGradient><linearGradient id="g31" gradientUnits="userSpaceOnUse" x1="87.80" x2="2715.00" y1="0" y2="0"><stop offset="0.0000" stop-color="#fdd500"/><stop offset="0.0270" stop-color="#fdd400"/><stop offset="0.0521" stop-color="#fdd500"/><stop offset="0.0813" stop-color="#fdd500"/><stop offset="0.1232" stop-color="#fdd400"/><stop offset="0.1566" stop-color="#fdd500"/><stop offset="0.1775" stop-color="#f5e300"/><stop offset="0.2319" stop-color="#f5e300"/><stop offset="0.2486" stop-color="#f8e000"/><stop offset="0.2904" stop-color="#ffcb00"/><stop offset="0.3155" stop-color="#ffa700"/><stop offset="0.3322" stop-color="#ffa500"/><stop offset="0.3573" stop-color="#ffa100"/><stop offset="0.3740" stop-color="#ff9b00"/><stop offset="0.3803" stop-color="#ff7f00"/><stop offset="0.3866" stop-color="#ff9a00"/><stop offset="0.3929" stop-color="#ff7f00"/><stop offset="0.4033" stop-color="#ff9b00"/><stop offset="0.4117" stop-color="#ff7700"/><stop offset="0.4200" stop-color="#ff9a00"/><stop offset="0.4263" stop-color="#ff7a00"/><stop offset="0.4305" stop-color="#ff9300"/><stop offset="0.4347" stop-color="#ff5e00"/><stop offset="0.4430" stop-color="#ff7500"/><stop offset="0.4514" stop-color="#ff2e00"/><stop offset="0.4577" stop-color="#ff2b00"/><stop offset="0.4639" stop-color="#ff7400"/><stop offset="0.4702" stop-color="#ff4b00"/><stop offset="0.4765" stop-color="#ff6e00"/><stop offset="0.4794" stop-color="#ff5200"/><stop offset="0.4869" stop-color="#f30000"/><stop offset="0.4903" stop-color="#f00000"/><stop offset="0.4945" stop-color="#f00000"/><stop offset="0.4995" stop-color="#ec0000"/><stop offset="0.5120" stop-color="#ec0000"/><stop offset="0.5170" stop-color="#e90000"/><stop offset="0.5212" stop-color="#e90000"/><stop offset="0.5329" stop-color="#e80000"/><stop offset="0.5497" stop-color="#e60000"/><stop offset="0.5601" stop-color="#e40000"/><stop offset="0.5748" stop-color="#e40000"/><stop offset="0.5915" stop-color="#de0000"/><stop offset="0.6584" stop-color="#de0000"/><stop offset="0.6667" stop-color="#eb0000"/><stop offset="0.7086" stop-color="#ed0000"/><stop offset="0.7378" stop-color="#ed0000"/><stop offset="0.7504" stop-color="#f20000"/><stop offset="0.7713" stop-color="#f20000"/><stop offset="0.7746" stop-color="#fd0000"/><stop offset="0.8005" stop-color="#fd0000"/><stop offset="0.8089" stop-color="#fb0000"/><stop offset="0.8215" stop-color="#ff6900"/><stop offset="0.8340" stop-color="#ff5500"/><stop offset="0.8465" stop-color="#fe0000"/><stop offset="0.8528" stop-color="#ff6200"/><stop offset="0.8612" stop-color="#fe0000"/><stop offset="0.8716" stop-color="#ff6400"/><stop offset="0.8779" stop-color="#fa0000"/><stop offset="0.8884" stop-color="#ff6700"/><stop offset="0.8967" stop-color="#fe0000"/><stop offset="0.9093" stop-color="#ff6700"/><stop offset="0.9176" stop-color="#ff6400"/><stop offset="0.9239" stop-color="#ff1700"/><stop offset="0.9344" stop-color="#ff6500"/><stop offset="0.9406" stop-color="#ff3600"/><stop offset="0.9511" stop-color="#ff6700"/><stop offset="0.9594" stop-color="#ff3600"/><stop offset="0.9678" stop-color="#ff6700"/><stop offset="0.9720" stop-color="#ff6200"/><stop offset="0.9803" stop-color="#ffa000"/><stop offset="1.0000" stop-color="#ffa000"/></linearGradient><linearGradient id="g32" gradientUnits="userSpaceOnUse" x1="87.80" x2="2715.00" y1="0" y2="0"><stop offset="0.0000" stop-color="#fed300"/><stop offset="0.0270" stop-color="#ffd100"/><stop offset="0.0521" stop-color="#fed200"/><stop offset="0.0688" stop-color="#fed300"/><stop offset="0.0813" stop-color="#fed300"/><stop offset="0.1232" stop-color="#ffd100"/><stop offset="0.1566" stop-color="#fed200"/><stop offset="0.1775" stop-color="#f7e100"/><stop offset="0.2068" stop-color="#f7e100"/><stop offset="0.2319" stop-color="#f8e000"/><stop offset="0.2486" stop-color="#fadb00"/><stop offset="0.2904" stop-color="#ffc700"/><stop offset="0.3155" stop-color="#ffa000"/><stop offset="0.3322" stop-color="#ff9f00"/><stop offset="0.3573" stop-color="#ff9b00"/><stop offset="0.3740" stop-color="#ff8d00"/><stop offset="0.3803" stop-color="#ff6600"/><stop offset="0.3866" stop-color="#ff8700"/><stop offset="0.3929" stop-color="#ff6600"/><stop offset="0.4033" stop-color="#ff8d00"/><stop offset="0.4117" stop-color="#ff5a00"/><stop offset="0.4200" stop-color="#ff8700"/><stop offset="0.4263" stop-color="#ff6100"/><stop offset="0.4305" stop-color="#ff7e00"/><stop offset="0.4347" stop-color="#ff3c00"/><stop offset="0.4430" stop-color="#ff6000"/><stop offset="0.4514" stop-color="#ff0200"/><stop offset="0.4577" stop-color="#fe0000"/><stop offset="0.4639" stop-color="#ff5d00"/><stop offset="0.4702" stop-color="#ff2200"/><stop offset="0.4765" stop-color="#ff5900"/><stop offset="0.4794" stop-color="#ff3200"/><stop offset="0.4869" stop-color="#f10000"/><stop offset="0.4903" stop-color="#ee0000"/><stop offset="0.4945" stop-color="#ee0000"/><stop offset="0.4995" stop-color="#eb0000"/><stop offset="0.5120" stop-color="#eb0000"/><stop offset="0.5170" stop-color="#e70000"/><stop offset="0.5329" stop-color="#e70000"/><stop offset="0.5497" stop-color="#e40000"/><stop offset="0.5601" stop-color="#e30000"/><stop offset="0.5748" stop-color="#e20000"/><stop offset="0.5915" stop-color="#dc0000"/><stop offset="0.6584" stop-color="#dc0000"/><stop offset="0.6667" stop-color="#e90000"/><stop offset="0.7086" stop-color="#ec0000"/><stop offset="0.7378" stop-color="#ec0000"/><stop offset="0.7504" stop-color="#ef0000"/><stop offset="0.7713" stop-color="#ef0000"/><stop offset="0.7746" stop-color="#f80000"/><stop offset="0.8005" stop-color="#f80000"/><stop offset="0.8089" stop-color="#f50000"/><stop offset="0.8215" stop-color="#ff6200"/><stop offset="0.8340" stop-color="#ff4500"/><stop offset="0.8465" stop-color="#fc0000"/><stop offset="0.8528" stop-color="#ff5400"/><stop offset="0.8612" stop-color="#fc0000"/><stop offset="0.8716" stop-color="#ff5900"/><stop offset="0.8779" stop-color="#f80000"/><stop offset="0.8884" stop-color="#ff5e00"/><stop offset="0.8967" stop-color="#fc0000"/><stop offset="0.9093" stop-color="#ff5e00"/><stop offset="0.9176" stop-color="#ff5900"/><stop offset="0.9239" stop-color="#ff0800"/><stop offset="0.9344" stop-color="#ff5b00"/><stop offset="0.9406" stop-color="#ff2400"/><stop offset="0.9511" stop-color="#ff5e00"/><stop offset="0.9594" stop-color="#ff2400"/><stop offset="0.9678" stop-color="#ff5e00"/><stop offset="0.9720" stop-color="#ff5400"/><stop offset="0.9803" stop-color="#ff9a00"/><stop offset="0.9929" stop-color="#ff9a00"/><stop offset="1.0000" stop-color="#ff9900"/></linearGradient><linearGradient id="g33" gradientUnits="userSpaceOnUse" x1="87.80" x2="2715.00" y1="0" y2="0"><stop offset="0.0000" stop-color="#ffd100"/><stop offset="0.0270" stop-color="#ffcd00"/><stop offset="0.0521" stop-color="#ffcf00"/><stop offset="0.0688" stop-color="#ffd100"/><stop offset="0.0813" stop-color="#ffd100"/><stop offset="0.1232" stop-color="#ffcd00"/><stop offset="0.1566" stop-color="#ffcf00"/><stop offset="0.1775" stop-color="#f8e000"/><stop offset="0.2068" stop-color="#f8e000"/><stop offset="0.2319" stop-color="#fadc00"/><stop offset="0.2486" stop-color="#fbd900"/><stop offset="0.2904" stop-color="#ffc500"/><stop offset="0.3155" stop-color="#ff9c00"/><stop offset="0.3322" stop-color="#ff9c00"/><stop offset="0.3573" stop-color="#ff9900"/><stop offset="0.3740" stop-color="#ff8600"/><stop offset="0.3803" stop-color="#ff5c00"/><stop offset="0.3866" stop-color="#ff8100"/><stop offset="0.3929" stop-color="#ff5c00"/><stop offset="0.4033" stop-color="#ff8600"/><stop offset="0.4117" stop-color="#ff4d00"/><stop offset="0.4200" stop-color="#ff8100"/><stop offset="0.4263" stop-color="#ff5700"/><stop offset="0.4305" stop-color="#ff7800"/><stop offset="0.4347" stop-color="#ff2c00"/><stop offset="0.4430" stop-color="#ff5900"/><stop offset="0.4514" stop-color="#fc0000"/><stop offset="0.4577" stop-color="#fb0000"/><stop offset="0.4639" stop-color="#ff5500"/><stop offset="0.4702" stop-color="#ff1200"/><stop offset="0.4765" stop-color="#ff5300"/><stop offset="0.4794" stop-color="#ff2700"/><stop offset="0.4869" stop-color="#f00000"/><stop offset="0.4903" stop-color="#ec0000"/><stop offset="0.4945" stop-color="#ec0000"/><stop offset="0.4995" stop-color="#e90000"/><stop offset="0.5120" stop-color="#e90000"/><stop offset="0.5170" stop-color="#e60000"/><stop offset="0.5212" stop-color="#e60000"/><stop offset="0.5329" stop-color="#e50000"/><stop offset="0.5497" stop-color="#e30000"/><stop offset="0.5601" stop-color="#e10000"/><stop offset="0.5748" stop-color="#e00000"/><stop offset="0.5915" stop-color="#db0000"/><stop offset="0.6584" stop-color="#db0000"/><stop offset="0.6667" stop-color="#e80000"/><stop offset="0.7086" stop-color="#ec0000"/><stop offset="0.7378" stop-color="#ec0000"/><stop offset="0.7504" stop-color="#ee0000"/><stop offset="0.7713" stop-color="#ee0000"/><stop offset="0.7746" stop-color="#f30000"/><stop offset="0.8089" stop-color="#f30000"/><stop offset="0.8215" stop-color="#ff5c00"/><stop offset="0.8340" stop-color="#ff3300"/><stop offset="0.8465" stop-color="#fa0000"/><stop offset="0.8528" stop-color="#ff4400"/><stop offset="0.8612" stop-color="#fa0000"/><stop offset="0.8716" stop-color="#ff4d00"/><stop offset="0.8779" stop-color="#f60000"/><stop offset="0.8884" stop-color="#ff5500"/><stop offset="0.8967" stop-color="#fa0000"/><stop offset="0.9093" stop-color="#ff5500"/><stop offset="0.9176" stop-color="#ff4d00"/><stop offset="0.9239" stop-color="#fe0000"/><stop offset="0.9344" stop-color="#ff5100"/><stop offset="0.9406" stop-color="#ff1500"/><stop offset="0.9511" stop-color="#ff5500"/><stop offset="0.9594" stop-color="#ff1500"/><stop offset="0.9678" stop-color="#ff5500"/><stop offset="0.9720" stop-color="#ff4400"/><stop offset="0.9803" stop-color="#ff9400"/><stop offset="0.9929" stop-color="#ff9400"/><stop offset="1.0000" stop-color="#ff8400"/></linearGradient><linearGradient id="g34" gradientUnits="userSpaceOnUse" x1="87.80" x2="2715.00" y1="0" y2="0"><stop offset="0.0000" stop-color="#ffcf00"/><stop offset="0.0270" stop-color="#ffc900"/><stop offset="0.0521" stop-color="#ffcc00"/><stop offset="0.0688" stop-color="#ffcf00"/><stop offset="0.0813" stop-color="#ffcf00"/><stop offset="0.1232" stop-color="#ffc900"/><stop offset="0.1566" stop-color="#ffcc00"/><stop offset="0.1775" stop-color="#f9dd00"/><stop offset="0.2068" stop-color="#f9dd00"/><stop offset="0.2319" stop-color="#fcd700"/><stop offset="0.2486" stop-color="#fcd600"/><stop offset="0.2904" stop-color="#ffc300"/><stop offset="0.3155" stop-color="#ff9900"/><stop offset="0.3322" stop-color="#ff9a00"/><stop offset="0.3573" stop-color="#ff9500"/><stop offset="0.3740" stop-color="#ff7f00"/><stop offset="0.3803" stop-color="#ff5300"/><stop offset="0.3866" stop-color="#ff7a00"/><stop offset="0.3929" stop-color="#ff5300"/><stop offset="0.4033" stop-color="#ff7f00"/><stop offset="0.4117" stop-color="#ff3d00"/><stop offset="0.4200" stop-color="#ff7a00"/><stop offset="0.4263" stop-color="#ff4d00"/><stop offset="0.4305" stop-color="#ff7200"/><stop offset="0.4347" stop-color="#ff1e00"/><stop offset="0.4430" stop-color="#ff5200"/><stop offset="0.4514" stop-color="#f90000"/><stop offset="0.4577" stop-color="#f70000"/><stop offset="0.4639" stop-color="#ff4c00"/><stop offset="0.4702" stop-color="#ff0200"/><stop offset="0.4765" stop-color="#ff4c00"/><stop offset="0.4794" stop-color="#ff1d00"/><stop offset="0.4869" stop-color="#ee0000"/><stop offset="0.4903" stop-color="#ea0000"/><stop offset="0.4945" stop-color="#ea0000"/><stop offset="0.4995" stop-color="#e80000"/><stop offset="0.5120" stop-color="#e80000"/><stop offset="0.5170" stop-color="#e50000"/><stop offset="0.5212" stop-color="#e50000"/><stop offset="0.5329" stop-color="#e30000"/><stop offset="0.5497" stop-color="#e10000"/><stop offset="0.5601" stop-color="#e00000"/><stop offset="0.5748" stop-color="#df0000"/><stop offset="0.5915" stop-color="#db0000"/><stop offset="0.6584" stop-color="#db0000"/><stop offset="0.6667" stop-color="#e70000"/><stop offset="0.7086" stop-color="#eb0000"/><stop offset="0.7378" stop-color="#eb0000"/><stop offset="0.7504" stop-color="#ed0000"/><stop offset="0.7713" stop-color="#ed0000"/><stop offset="0.7746" stop-color="#f20000"/><stop offset="0.8089" stop-color="#f20000"/><stop offset="0.8215" stop-color="#ff5500"/><stop offset="0.8340" stop-color="#ff2200"/><stop offset="0.8465" stop-color="#f70000"/><stop offset="0.8528" stop-color="#ff3200"/><stop offset="0.8612" stop-color="#f70000"/><stop offset="0.8716" stop-color="#ff3e00"/><stop offset="0.8779" stop-color="#f40000"/><stop offset="0.8884" stop-color="#ff4b00"/><stop offset="0.8967" stop-color="#f70000"/><stop offset="0.9093" stop-color="#ff4b00"/><stop offset="0.9176" stop-color="#ff3e00"/><stop offset="0.9239" stop-color="#fc0000"/><stop offset="0.9344" stop-color="#ff4300"/><stop offset="0.9406" stop-color="#ff0600"/><stop offset="0.9511" stop-color="#ff4b00"/><stop offset="0.9594" stop-color="#ff0600"/><stop offset="0.9678" stop-color="#ff4b00"/><stop offset="0.9720" stop-color="#ff3200"/><stop offset="0.9803" stop-color="#ff8900"/><stop offset="0.9929" stop-color="#ff8900"/><stop offset="1.0000" stop-color="#ff6f00"/></linearGradient><linearGradient id="g35" gradientUnits="userSpaceOnUse" x1="87.80" x2="2715.00" y1="0" y2="0"><stop offset="0.0000" stop-color="#ffd000"/><stop offset="0.0270" stop-color="#ffcb00"/><stop offset="0.0521" stop-color="#ffce00"/><stop offset="0.0688" stop-color="#ffd000"/><stop offset="0.0813" stop-color="#ffd000"/><stop offset="0.1232" stop-color="#ffcb00"/><stop offset="0.1566" stop-color="#ffce00"/><stop offset="0.1775" stop-color="#f9de00"/><stop offset="0.2068" stop-color="#f9de00"/><stop offset="0.2319" stop-color="#fcd800"/><stop offset="0.2486" stop-color="#fcd700"/><stop offset="0.2904" stop-color="#ffc400"/><stop offset="0.3155" stop-color="#ff9a00"/><stop offset="0.3322" stop-color="#ff9a00"/><stop offset="0.3573" stop-color="#ff9700"/><stop offset="0.3740" stop-color="#ff8000"/><stop offset="0.3803" stop-color="#ff5600"/><stop offset="0.3866" stop-color="#ff7b00"/><stop offset="0.3929" stop-color="#ff5600"/><stop offset="0.4033" stop-color="#ff8000"/><stop offset="0.4117" stop-color="#ff4100"/><stop offset="0.4200" stop-color="#ff7a00"/><stop offset="0.4263" stop-color="#ff4e00"/><stop offset="0.4305" stop-color="#ff7200"/><stop offset="0.4347" stop-color="#ff2000"/><stop offset="0.4430" stop-color="#ff5200"/><stop offset="0.4514" stop-color="#f90000"/><stop offset="0.4577" stop-color="#f80000"/><stop offset="0.4639" stop-color="#ff4e00"/><stop offset="0.4702" stop-color="#ff0400"/><stop offset="0.4765" stop-color="#ff4b00"/><stop offset="0.4794" stop-color="#ff1d00"/><stop offset="0.4869" stop-color="#ec0000"/><stop offset="0.4903" stop-color="#e80000"/><stop offset="0.4945" stop-color="#e80000"/><stop offset="0.4995" stop-color="#e70000"/><stop offset="0.5120" stop-color="#e70000"/><stop offset="0.5170" stop-color="#e30000"/><stop offset="0.5212" stop-color="#e30000"/><stop offset="0.5329" stop-color="#e10000"/><stop offset="0.5497" stop-color="#df0000"/><stop offset="0.5601" stop-color="#de0000"/><stop offset="0.5748" stop-color="#dd0000"/><stop offset="0.5915" stop-color="#db0000"/><stop offset="0.6584" stop-color="#db0000"/><stop offset="0.6667" stop-color="#e60000"/><stop offset="0.7086" stop-color="#ea0000"/><stop offset="0.7378" stop-color="#ea0000"/><stop offset="0.7504" stop-color="#ed0000"/><stop offset="0.7713" stop-color="#ed0000"/><stop offset="0.7746" stop-color="#f20000"/><stop offset="0.8005" stop-color="#f20000"/><stop offset="0.8089" stop-color="#f10000"/><stop offset="0.8215" stop-color="#ff4e00"/><stop offset="0.8340" stop-color="#ff1300"/><stop offset="0.8465" stop-color="#f50000"/><stop offset="0.8528" stop-color="#ff2100"/><stop offset="0.8612" stop-color="#f50000"/><stop offset="0.8716" stop-color="#ff2f00"/><stop offset="0.8779" stop-color="#f30000"/><stop offset="0.8884" stop-color="#ff3f00"/><stop offset="0.8967" stop-color="#f50000"/><stop offset="0.9093" stop-color="#ff3f00"/><stop offset="0.9176" stop-color="#ff2f00"/><stop offset="0.9239" stop-color="#f90000"/><stop offset="0.9344" stop-color="#ff3600"/><stop offset="0.9406" stop-color="#fe0000"/><stop offset="0.9511" stop-color="#ff3f00"/><stop offset="0.9594" stop-color="#fe0000"/><stop offset="0.9678" stop-color="#ff3f00"/><stop offset="0.9720" stop-color="#ff2100"/><stop offset="0.9803" stop-color="#ff7e00"/><stop offset="0.9929" stop-color="#ff7e00"/><stop offset="1.0000" stop-color="#ff5a00"/></linearGradient><linearGradient id="g36" gradientUnits="userSpaceOnUse" x1="87.80" x2="2715.00" y1="0" y2="0"><stop offset="0.0000" stop-color="#fed300"/><stop offset="0.0270" stop-color="#ffcf00"/><stop offset="0.0521" stop-color="#ffd100"/><stop offset="0.0688" stop-color="#fed300"/><stop offset="0.0813" stop-color="#fed300"/><stop offset="0.1232" stop-color="#ffcf00"/><stop offset="0.1566" stop-color="#ffd100"/><stop offset="0.1775" stop-color="#f8e000"/><stop offset="0.2068" stop-color="#f8e000"/><stop offset="0.2319" stop-color="#fadb00"/><stop offset="0.2486" stop-color="#fbda00"/><stop offset="0.2904" stop-color="#ffc700"/><stop offset="0.3155" stop-color="#ff9d00"/><stop offset="0.3322" stop-color="#ff9c00"/><stop offset="0.3573" stop-color="#ff9900"/><stop offset="0.3740" stop-color="#ff8400"/><stop offset="0.3803" stop-color="#ff5e00"/><stop offset="0.3866" stop-color="#ff7e00"/><stop offset="0.3929" stop-color="#ff5e00"/><stop offset="0.4033" stop-color="#ff8400"/><stop offset="0.4117" stop-color="#ff4e00"/><stop offset="0.4200" stop-color="#ff7c00"/><stop offset="0.4263" stop-color="#ff5300"/><stop offset="0.4305" stop-color="#ff7400"/><stop offset="0.4347" stop-color="#ff2900"/><stop offset="0.4430" stop-color="#ff5600"/><stop offset="0.4514" stop-color="#fb0000"/><stop offset="0.4577" stop-color="#fa0000"/><stop offset="0.4639" stop-color="#ff5300"/><stop offset="0.4702" stop-color="#ff0e00"/><stop offset="0.4765" stop-color="#ff4e00"/><stop offset="0.4794" stop-color="#ff2200"/><stop offset="0.4869" stop-color="#eb0000"/><stop offset="0.4903" stop-color="#e70000"/><stop offset="0.5120" stop-color="#e70000"/><stop offset="0.5170" stop-color="#e30000"/><stop offset="0.5212" stop-color="#e30000"/><stop offset="0.5329" stop-color="#e10000"/><stop offset="0.5497" stop-color="#de0000"/><stop offset="0.5601" stop-color="#dd0000"/><stop offset="0.5748" stop-color="#dc0000"/><stop offset="0.5915" stop-color="#da0000"/><stop offset="0.6584" stop-color="#da0000"/><stop offset="0.6667" stop-color="#e50000"/><stop offset="0.7086" stop-color="#e90000"/><stop offset="0.7378" stop-color="#e90000"/><stop offset="0.7504" stop-color="#ec0000"/><stop offset="0.7713" stop-color="#ec0000"/><stop offset="0.7746" stop-color="#f10000"/><stop offset="0.8005" stop-color="#f10000"/><stop offset="0.8089" stop-color="#f00000"/><stop offset="0.8215" stop-color="#ff4200"/><stop offset="0.8340" stop-color="#ff1000"/><stop offset="0.8465" stop-color="#f40000"/><stop offset="0.8528" stop-color="#ff1e00"/><stop offset="0.8612" stop-color="#f40000"/><stop offset="0.8716" stop-color="#ff2b00"/><stop offset="0.8779" stop-color="#f20000"/><stop offset="0.8884" stop-color="#ff3b00"/><stop offset="0.8967" stop-color="#f40000"/><stop offset="0.9093" stop-color="#ff3b00"/><stop offset="0.9176" stop-color="#ff2b00"/><stop offset="0.9239" stop-color="#f90000"/><stop offset="0.9344" stop-color="#ff3100"/><stop offset="0.9406" stop-color="#fd0000"/><stop offset="0.9511" stop-color="#ff3b00"/><stop offset="0.9594" stop-color="#fd0000"/><stop offset="0.9678" stop-color="#ff3b00"/><stop offset="0.9720" stop-color="#ff1e00"/><stop offset="0.9803" stop-color="#ff7900"/><stop offset="0.9929" stop-color="#ff7900"/><stop offset="1.0000" stop-color="#ff5100"/></linearGradient><linearGradient id="g37" gradientUnits="userSpaceOnUse" x1="87.80" x2="2715.00" y1="0" y2="0"><stop offset="0.0000" stop-color="#fcd600"/><stop offset="0.0270" stop-color="#fed200"/><stop offset="0.0521" stop-color="#fdd400"/><stop offset="0.0688" stop-color="#fcd600"/><stop offset="0.0813" stop-color="#fcd600"/><stop offset="0.1232" stop-color="#fed200"/><stop offset="0.1566" stop-color="#fdd400"/><stop offset="0.1775" stop-color="#f7e100"/><stop offset="0.2068" stop-color="#f7e100"/><stop offset="0.2319" stop-color="#f9df00"/><stop offset="0.2486" stop-color="#fadc00"/><stop offset="0.2904" stop-color="#ffc900"/><stop offset="0.3155" stop-color="#ffa000"/><stop offset="0.3322" stop-color="#ff9d00"/><stop offset="0.3573" stop-color="#ff9b00"/><stop offset="0.3740" stop-color="#ff8800"/><stop offset="0.3803" stop-color="#ff6600"/><stop offset="0.3866" stop-color="#ff8200"/><stop offset="0.3929" stop-color="#ff6600"/><stop offset="0.4033" stop-color="#ff8800"/><stop offset="0.4117" stop-color="#ff5800"/><stop offset="0.4200" stop-color="#ff7e00"/><stop offset="0.4263" stop-color="#ff5700"/><stop offset="0.4305" stop-color="#ff7700"/><stop offset="0.4347" stop-color="#ff3300"/><stop offset="0.4430" stop-color="#ff5a00"/><stop offset="0.4514" stop-color="#fd0000"/><stop offset="0.4577" stop-color="#fc0000"/><stop offset="0.4639" stop-color="#ff5700"/><stop offset="0.4702" stop-color="#ff1900"/><stop offset="0.4765" stop-color="#ff5100"/><stop offset="0.4794" stop-color="#ff2700"/><stop offset="0.4869" stop-color="#ec0000"/><stop offset="0.4903" stop-color="#e70000"/><stop offset="0.4945" stop-color="#e70000"/><stop offset="0.4995" stop-color="#e80000"/><stop offset="0.5120" stop-color="#e80000"/><stop offset="0.5170" stop-color="#e30000"/><stop offset="0.5212" stop-color="#e30000"/><stop offset="0.5329" stop-color="#e10000"/><stop offset="0.5497" stop-color="#de0000"/><stop offset="0.5601" stop-color="#dd0000"/><stop offset="0.5748" stop-color="#dc0000"/><stop offset="0.5915" stop-color="#da0000"/><stop offset="0.6584" stop-color="#da0000"/><stop offset="0.6667" stop-color="#e30000"/><stop offset="0.7086" stop-color="#e90000"/><stop offset="0.7378" stop-color="#e90000"/><stop offset="0.7504" stop-color="#eb0000"/><stop offset="0.7713" stop-color="#eb0000"/><stop offset="0.7746" stop-color="#f00000"/><stop offset="0.8005" stop-color="#f00000"/><stop offset="0.8089" stop-color="#ef0000"/><stop offset="0.8215" stop-color="#ff3500"/><stop offset="0.8340" stop-color="#ff1a00"/><stop offset="0.8465" stop-color="#f60000"/><stop offset="0.8528" stop-color="#ff2600"/><stop offset="0.8612" stop-color="#f60000"/><stop offset="0.8716" stop-color="#ff3200"/><stop offset="0.8779" stop-color="#f40000"/><stop offset="0.8884" stop-color="#ff3e00"/><stop offset="0.8967" stop-color="#f60000"/><stop offset="0.9093" stop-color="#ff3e00"/><stop offset="0.9176" stop-color="#ff3200"/><stop offset="0.9239" stop-color="#fa0000"/><stop offset="0.9344" stop-color="#ff3700"/><stop offset="0.9406" stop-color="#ff0000"/><stop offset="0.9511" stop-color="#ff3e00"/><stop offset="0.9594" stop-color="#ff0000"/><stop offset="0.9678" stop-color="#ff3e00"/><stop offset="0.9720" stop-color="#ff2600"/><stop offset="0.9803" stop-color="#ff7a00"/><stop offset="0.9929" stop-color="#ff7a00"/><stop offset="1.0000" stop-color="#ff5200"/></linearGradient><linearGradient id="g38" gradientUnits="userSpaceOnUse" x1="87.80" x2="2715.00" y1="0" y2="0"><stop offset="0.0000" stop-color="#fbd900"/><stop offset="0.0270" stop-color="#fcd700"/><stop offset="0.0521" stop-color="#fcd800"/><stop offset="0.0688" stop-color="#fbd900"/><stop offset="0.0813" stop-color="#fbd900"/><stop offset="0.1232" stop-color="#fcd700"/><stop offset="0.1566" stop-color="#fcd800"/><stop offset="0.1775" stop-color="#f6e200"/><stop offset="0.2068" stop-color="#f6e200"/><stop offset="0.2319" stop-color="#f7e100"/><stop offset="0.2486" stop-color="#f9de00"/><stop offset="0.2904" stop-color="#ffcb00"/><stop offset="0.3155" stop-color="#ffa300"/><stop offset="0.3322" stop-color="#ff9e00"/><stop offset="0.3573" stop-color="#ff9d00"/><stop offset="0.3740" stop-color="#ff8c00"/><stop offset="0.3803" stop-color="#ff6f00"/><stop offset="0.3866" stop-color="#ff8700"/><stop offset="0.3929" stop-color="#ff6f00"/><stop offset="0.4033" stop-color="#ff8c00"/><stop offset="0.4117" stop-color="#ff6300"/><stop offset="0.4200" stop-color="#ff8100"/><stop offset="0.4263" stop-color="#ff5c00"/><stop offset="0.4305" stop-color="#ff7900"/><stop offset="0.4347" stop-color="#ff3e00"/><stop offset="0.4430" stop-color="#ff5e00"/><stop offset="0.4514" stop-color="#ff0300"/><stop offset="0.4577" stop-color="#ff0000"/><stop offset="0.4639" stop-color="#ff5c00"/><stop offset="0.4702" stop-color="#ff2400"/><stop offset="0.4765" stop-color="#ff5400"/><stop offset="0.4794" stop-color="#ff2e00"/><stop offset="0.4869" stop-color="#ec0000"/><stop offset="0.4903" stop-color="#e80000"/><stop offset="0.5120" stop-color="#e80000"/><stop offset="0.5170" stop-color="#e40000"/><stop offset="0.5212" stop-color="#e40000"/><stop offset="0.5329" stop-color="#e20000"/><stop offset="0.5497" stop-color="#df0000"/><stop offset="0.5601" stop-color="#de0000"/><stop offset="0.5748" stop-color="#dc0000"/><stop offset="0.5915" stop-color="#da0000"/><stop offset="0.6584" stop-color="#da0000"/><stop offset="0.6667" stop-color="#e20000"/><stop offset="0.7086" stop-color="#e80000"/><stop offset="0.7378" stop-color="#e80000"/><stop offset="0.7504" stop-color="#ea0000"/><stop offset="0.7713" stop-color="#ea0000"/><stop offset="0.7746" stop-color="#ef0000"/><stop offset="0.8089" stop-color="#ef0000"/><stop offset="0.8215" stop-color="#ff2700"/><stop offset="0.8340" stop-color="#ff2300"/><stop offset="0.8465" stop-color="#f70000"/><stop offset="0.8528" stop-color="#ff2f00"/><stop offset="0.8612" stop-color="#f70000"/><stop offset="0.8716" stop-color="#ff3900"/><stop offset="0.8779" stop-color="#f50000"/><stop offset="0.8884" stop-color="#ff4200"/><stop offset="0.8967" stop-color="#f70000"/><stop offset="0.9093" stop-color="#ff4200"/><stop offset="0.9176" stop-color="#ff3900"/><stop offset="0.9239" stop-color="#fc0000"/><stop offset="0.9344" stop-color="#ff3d00"/><stop offset="0.9406" stop-color="#ff0700"/><stop offset="0.9511" stop-color="#ff4200"/><stop offset="0.9594" stop-color="#ff0700"/><stop offset="0.9678" stop-color="#ff4200"/><stop offset="0.9720" stop-color="#ff2f00"/><stop offset="0.9803" stop-color="#ff7b00"/><stop offset="0.9929" stop-color="#ff7b00"/><stop offset="1.0000" stop-color="#ff5300"/></linearGradient><linearGradient id="g39" gradientUnits="userSpaceOnUse" x1="87.80" x2="2715.00" y1="0" y2="0"><stop offset="0.0000" stop-color="#fadb00"/><stop offset="0.1566" stop-color="#fadb00"/><stop offset="0.1775" stop-color="#f5e300"/><stop offset="0.2319" stop-color="#f5e300"/><stop offset="0.2486" stop-color="#f8e000"/><stop offset="0.2904" stop-color="#ffce00"/><stop offset="0.3155" stop-color="#ffa600"/><stop offset="0.3322" stop-color="#ff9f00"/><stop offset="0.3573" stop-color="#ff9f00"/><stop offset="0.3740" stop-color="#ff9000"/><stop offset="0.3803" stop-color="#ff7800"/><stop offset="0.3866" stop-color="#ff8b00"/><stop offset="0.3929" stop-color="#ff7800"/><stop offset="0.4033" stop-color="#ff9000"/><stop offset="0.4117" stop-color="#ff6e00"/><stop offset="0.4200" stop-color="#ff8400"/><stop offset="0.4263" stop-color="#ff6100"/><stop offset="0.4305" stop-color="#ff7c00"/><stop offset="0.4347" stop-color="#ff4a00"/><stop offset="0.4430" stop-color="#ff6200"/><stop offset="0.4514" stop-color="#ff1200"/><stop offset="0.4577" stop-color="#ff1100"/><stop offset="0.4639" stop-color="#ff6100"/><stop offset="0.4702" stop-color="#ff3200"/><stop offset="0.4765" stop-color="#ff5600"/><stop offset="0.4794" stop-color="#ff3500"/><stop offset="0.4869" stop-color="#ed0000"/><stop offset="0.4903" stop-color="#e80000"/><stop offset="0.4945" stop-color="#e80000"/><stop offset="0.4995" stop-color="#e90000"/><stop offset="0.5120" stop-color="#e90000"/><stop offset="0.5170" stop-color="#e40000"/><stop offset="0.5212" stop-color="#e40000"/><stop offset="0.5329" stop-color="#e20000"/><stop offset="0.5497" stop-color="#df0000"/><stop offset="0.5601" stop-color="#de0000"/><stop offset="0.5748" stop-color="#dd0000"/><stop offset="0.5915" stop-color="#d90000"/><stop offset="0.6584" stop-color="#d90000"/><stop offset="0.6667" stop-color="#e10000"/><stop offset="0.7086" stop-color="#e70000"/><stop offset="0.7378" stop-color="#e70000"/><stop offset="0.7504" stop-color="#e90000"/><stop offset="0.7713" stop-color="#e90000"/><stop offset="0.7746" stop-color="#ee0000"/><stop offset="0.8089" stop-color="#ee0000"/><stop offset="0.8215" stop-color="#ff1b00"/><stop offset="0.8340" stop-color="#ff2e00"/><stop offset="0.8465" stop-color="#f90000"/><stop offset="0.8528" stop-color="#ff3800"/><stop offset="0.8612" stop-color="#f90000"/><stop offset="0.8716" stop-color="#ff3f00"/><stop offset="0.8779" stop-color="#f70000"/><stop offset="0.8884" stop-color="#ff4600"/><stop offset="0.8967" stop-color="#f90000"/><stop offset="0.9093" stop-color="#ff4600"/><stop offset="0.9176" stop-color="#ff3f00"/><stop offset="0.9239" stop-color="#fd0000"/><stop offset="0.9344" stop-color="#ff4200"/><stop offset="0.9406" stop-color="#ff1000"/><stop offset="0.9511" stop-color="#ff4600"/><stop offset="0.9594" stop-color="#ff1000"/><stop offset="0.9678" stop-color="#ff4600"/><stop offset="0.9720" stop-color="#ff3800"/><stop offset="0.9803" stop-color="#ff7d00"/><stop offset="0.9929" stop-color="#ff7d00"/><stop offset="1.0000" stop-color="#ff5400"/></linearGradient><linearGradient id="g40" gradientUnits="userSpaceOnUse" x1="87.80" x2="2715.00" y1="0" y2="0"><stop offset="0.0000" stop-color="#f8df00"/><stop offset="0.1566" stop-color="#f8df00"/><stop offset="0.1775" stop-color="#f4e400"/><stop offset="0.2319" stop-color="#f4e400"/><stop offset="0.2486" stop-color="#f6e200"/><stop offset="0.2904" stop-color="#ffd000"/><stop offset="0.3155" stop-color="#ffaa00"/><stop offset="0.3322" stop-color="#ffa100"/><stop offset="0.3573" stop-color="#ffa100"/><stop offset="0.3740" stop-color="#ff9500"/><stop offset="0.3803" stop-color="#ff8200"/><stop offset="0.3866" stop-color="#ff9000"/><stop offset="0.3929" stop-color="#ff8100"/><stop offset="0.4033" stop-color="#ff9500"/><stop offset="0.4117" stop-color="#ff7700"/><stop offset="0.4200" stop-color="#ff8800"/><stop offset="0.4263" stop-color="#ff6900"/><stop offset="0.4305" stop-color="#ff7f00"/><stop offset="0.4347" stop-color="#ff5500"/><stop offset="0.4430" stop-color="#ff6700"/><stop offset="0.4514" stop-color="#ff2300"/><stop offset="0.4577" stop-color="#ff2300"/><stop offset="0.4639" stop-color="#ff6600"/><stop offset="0.4702" stop-color="#ff3f00"/><stop offset="0.4765" stop-color="#ff5a00"/><stop offset="0.4794" stop-color="#ff3d00"/><stop offset="0.4869" stop-color="#ee0000"/><stop offset="0.4903" stop-color="#e80000"/><stop offset="0.4945" stop-color="#e80000"/><stop offset="0.4995" stop-color="#e90000"/><stop offset="0.5120" stop-color="#e90000"/><stop offset="0.5170" stop-color="#e50000"/><stop offset="0.5212" stop-color="#e50000"/><stop offset="0.5329" stop-color="#e30000"/><stop offset="0.5497" stop-color="#df0000"/><stop offset="0.5601" stop-color="#de0000"/><stop offset="0.5748" stop-color="#dd0000"/><stop offset="0.5915" stop-color="#d90000"/><stop offset="0.6584" stop-color="#d90000"/><stop offset="0.6667" stop-color="#e00000"/><stop offset="0.7086" stop-color="#e70000"/><stop offset="0.7378" stop-color="#e70000"/><stop offset="0.7504" stop-color="#e90000"/><stop offset="0.7713" stop-color="#e90000"/><stop offset="0.7746" stop-color="#ed0000"/><stop offset="0.8089" stop-color="#ed0000"/><stop offset="0.8215" stop-color="#ff0f00"/><stop offset="0.8340" stop-color="#ff3900"/><stop offset="0.8465" stop-color="#fa0000"/><stop offset="0.8528" stop-color="#ff4200"/><stop offset="0.8612" stop-color="#fa0000"/><stop offset="0.8716" stop-color="#ff4600"/><stop offset="0.8779" stop-color="#f80000"/><stop offset="0.8884" stop-color="#ff4a00"/><stop offset="0.8967" stop-color="#fa0000"/><stop offset="0.9093" stop-color="#ff4a00"/><stop offset="0.9176" stop-color="#ff4600"/><stop offset="0.9239" stop-color="#ff0000"/><stop offset="0.9344" stop-color="#ff4800"/><stop offset="0.9406" stop-color="#ff1a00"/><stop offset="0.9511" stop-color="#ff4a00"/><stop offset="0.9594" stop-color="#ff1a00"/><stop offset="0.9678" stop-color="#ff4a00"/><stop offset="0.9720" stop-color="#ff4200"/><stop offset="0.9803" stop-color="#ff7e00"/><stop offset="0.9929" stop-color="#ff7e00"/><stop offset="1.0000" stop-color="#ff5600"/></linearGradient><linearGradient id="g41" gradientUnits="userSpaceOnUse" x1="87.80" x2="2715.00" y1="0" y2="0"><stop offset="0.0000" stop-color="#f6e200"/><stop offset="0.1566" stop-color="#f6e200"/><stop offset="0.1775" stop-color="#f3e500"/><stop offset="0.2319" stop-color="#f3e500"/><stop offset="0.2486" stop-color="#f6e200"/><stop offset="0.2904" stop-color="#fed300"/><stop offset="0.3155" stop-color="#ffaf00"/><stop offset="0.3322" stop-color="#ffa300"/><stop offset="0.3573" stop-color="#ffa300"/><stop offset="0.3740" stop-color="#ff9800"/><stop offset="0.3803" stop-color="#ff8c00"/><stop offset="0.3866" stop-color="#ff9600"/><stop offset="0.3929" stop-color="#ff8900"/><stop offset="0.4033" stop-color="#ff9800"/><stop offset="0.4117" stop-color="#ff8100"/><stop offset="0.4200" stop-color="#ff8c00"/><stop offset="0.4263" stop-color="#ff7200"/><stop offset="0.4305" stop-color="#ff8300"/><stop offset="0.4347" stop-color="#ff5f00"/><stop offset="0.4430" stop-color="#ff6d00"/><stop offset="0.4514" stop-color="#ff3700"/><stop offset="0.4577" stop-color="#ff3700"/><stop offset="0.4639" stop-color="#ff6c00"/><stop offset="0.4702" stop-color="#ff4b00"/><stop offset="0.4765" stop-color="#ff5e00"/><stop offset="0.4794" stop-color="#ff4500"/><stop offset="0.4869" stop-color="#ee0000"/><stop offset="0.4903" stop-color="#e90000"/><stop offset="0.4945" stop-color="#e90000"/><stop offset="0.4995" stop-color="#ea0000"/><stop offset="0.5120" stop-color="#ea0000"/><stop offset="0.5170" stop-color="#e50000"/><stop offset="0.5212" stop-color="#e50000"/><stop offset="0.5329" stop-color="#e30000"/><stop offset="0.5497" stop-color="#df0000"/><stop offset="0.5601" stop-color="#de0000"/><stop offset="0.5748" stop-color="#dd0000"/><stop offset="0.5915" stop-color="#d80000"/><stop offset="0.6584" stop-color="#d80000"/><stop offset="0.6667" stop-color="#e00000"/><stop offset="0.7086" stop-color="#e70000"/><stop offset="0.7378" stop-color="#e70000"/><stop offset="0.7504" stop-color="#e90000"/><stop offset="0.7713" stop-color="#ea0000"/><stop offset="0.7746" stop-color="#ee0000"/><stop offset="0.8089" stop-color="#ee0000"/><stop offset="0.8215" stop-color="#ff0300"/><stop offset="0.8340" stop-color="#ff4400"/><stop offset="0.8465" stop-color="#fc0000"/><stop offset="0.8528" stop-color="#ff4b00"/><stop offset="0.8612" stop-color="#fc0000"/><stop offset="0.8716" stop-color="#ff4d00"/><stop offset="0.8779" stop-color="#fa0000"/><stop offset="0.8884" stop-color="#ff4e00"/><stop offset="0.8967" stop-color="#fc0000"/><stop offset="0.9093" stop-color="#ff4e00"/><stop offset="0.9176" stop-color="#ff4d00"/><stop offset="0.9239" stop-color="#ff0700"/><stop offset="0.9344" stop-color="#ff4d00"/><stop offset="0.9406" stop-color="#ff2300"/><stop offset="0.9511" stop-color="#ff4e00"/><stop offset="0.9594" stop-color="#ff2300"/><stop offset="0.9678" stop-color="#ff4e00"/><stop offset="0.9720" stop-color="#ff4b00"/><stop offset="0.9803" stop-color="#ff7f00"/><stop offset="0.9929" stop-color="#ff7f00"/><stop offset="1.0000" stop-color="#ff5700"/></linearGradient><linearGradient id="g42" gradientUnits="userSpaceOnUse" x1="87.80" x2="2715.00" y1="0" y2="0"><stop offset="0.0000" stop-color="#f4e400"/><stop offset="0.1566" stop-color="#f4e400"/><stop offset="0.1775" stop-color="#f1e700"/><stop offset="0.2319" stop-color="#f1e700"/><stop offset="0.2486" stop-color="#f5e300"/><stop offset="0.2904" stop-color="#fcd600"/><stop offset="0.3155" stop-color="#ffb500"/><stop offset="0.3322" stop-color="#ffa400"/><stop offset="0.3573" stop-color="#ffa400"/><stop offset="0.3740" stop-color="#ff9a00"/><stop offset="0.3803" stop-color="#ff9600"/><stop offset="0.3866" stop-color="#ff9900"/><stop offset="0.3929" stop-color="#ff9100"/><stop offset="0.4033" stop-color="#ff9a00"/><stop offset="0.4117" stop-color="#ff8a00"/><stop offset="0.4200" stop-color="#ff9100"/><stop offset="0.4263" stop-color="#ff7c00"/><stop offset="0.4305" stop-color="#ff8700"/><stop offset="0.4347" stop-color="#ff6900"/><stop offset="0.4430" stop-color="#ff7400"/><stop offset="0.4514" stop-color="#ff4b00"/><stop offset="0.4577" stop-color="#ff4b00"/><stop offset="0.4639" stop-color="#ff7100"/><stop offset="0.4702" stop-color="#ff5600"/><stop offset="0.4765" stop-color="#ff6200"/><stop offset="0.4794" stop-color="#ff4d00"/><stop offset="0.4869" stop-color="#ef0000"/><stop offset="0.4903" stop-color="#e90000"/><stop offset="0.4945" stop-color="#e90000"/><stop offset="0.4995" stop-color="#ea0000"/><stop offset="0.5120" stop-color="#ea0000"/><stop offset="0.5170" stop-color="#e60000"/><stop offset="0.5212" stop-color="#e60000"/><stop offset="0.5329" stop-color="#e40000"/><stop offset="0.5497" stop-color="#df0000"/><stop offset="0.5601" stop-color="#de0000"/><stop offset="0.5748" stop-color="#dd0000"/><stop offset="0.5915" stop-color="#d80000"/><stop offset="0.6584" stop-color="#d80000"/><stop offset="0.6667" stop-color="#e10000"/><stop offset="0.7086" stop-color="#e80000"/><stop offset="0.7378" stop-color="#e80000"/><stop offset="0.7504" stop-color="#ea0000"/><stop offset="0.7713" stop-color="#ea0000"/><stop offset="0.7746" stop-color="#ee0000"/><stop offset="0.8089" stop-color="#ee0000"/><stop offset="0.8215" stop-color="#fe0000"/><stop offset="0.8340" stop-color="#ff4d00"/><stop offset="0.8465" stop-color="#fd0000"/><stop offset="0.8528" stop-color="#ff5200"/><stop offset="0.8612" stop-color="#fd0000"/><stop offset="0.8716" stop-color="#ff5200"/><stop offset="0.8779" stop-color="#fb0000"/><stop offset="0.8884" stop-color="#ff5200"/><stop offset="0.8967" stop-color="#fd0000"/><stop offset="0.9093" stop-color="#ff5200"/><stop offset="0.9176" stop-color="#ff5200"/><stop offset="0.9239" stop-color="#ff1100"/><stop offset="0.9344" stop-color="#ff5200"/><stop offset="0.9406" stop-color="#ff2f00"/><stop offset="0.9511" stop-color="#ff5200"/><stop offset="0.9594" stop-color="#ff2f00"/><stop offset="0.9678" stop-color="#ff5200"/><stop offset="0.9720" stop-color="#ff5200"/><stop offset="0.9803" stop-color="#ff7f00"/><stop offset="0.9929" stop-color="#ff7f00"/><stop offset="1.0000" stop-color="#ff5700"/></linearGradient><linearGradient id="g43" gradientUnits="userSpaceOnUse" x1="87.80" x2="2715.00" y1="0" y2="0"><stop offset="0.0000" stop-color="#f1e700"/><stop offset="0.1566" stop-color="#f1e700"/><stop offset="0.1775" stop-color="#f0e800"/><stop offset="0.2319" stop-color="#f0e800"/><stop offset="0.2486" stop-color="#f4e400"/><stop offset="0.2904" stop-color="#fbda00"/><stop offset="0.3155" stop-color="#ffbc00"/><stop offset="0.3322" stop-color="#ffa600"/><stop offset="0.3573" stop-color="#ffa600"/><stop offset="0.3740" stop-color="#ff9b00"/><stop offset="0.3803" stop-color="#ff9a00"/><stop offset="0.3866" stop-color="#ff9b00"/><stop offset="0.3929" stop-color="#ff9800"/><stop offset="0.4033" stop-color="#ff9b00"/><stop offset="0.4117" stop-color="#ff9300"/><stop offset="0.4200" stop-color="#ff9600"/><stop offset="0.4263" stop-color="#ff8600"/><stop offset="0.4305" stop-color="#ff8b00"/><stop offset="0.4347" stop-color="#ff7300"/><stop offset="0.4430" stop-color="#ff7a00"/><stop offset="0.4514" stop-color="#ff5c00"/><stop offset="0.4577" stop-color="#ff5c00"/><stop offset="0.4639" stop-color="#ff7500"/><stop offset="0.4702" stop-color="#ff5f00"/><stop offset="0.4765" stop-color="#ff6700"/><stop offset="0.4794" stop-color="#ff5400"/><stop offset="0.4869" stop-color="#ef0000"/><stop offset="0.4903" stop-color="#e90000"/><stop offset="0.4945" stop-color="#e90000"/><stop offset="0.4995" stop-color="#eb0000"/><stop offset="0.5120" stop-color="#eb0000"/><stop offset="0.5170" stop-color="#e60000"/><stop offset="0.5212" stop-color="#e60000"/><stop offset="0.5329" stop-color="#e40000"/><stop offset="0.5497" stop-color="#df0000"/><stop offset="0.5601" stop-color="#de0000"/><stop offset="0.5748" stop-color="#dd0000"/><stop offset="0.5915" stop-color="#d80000"/><stop offset="0.6584" stop-color="#d80000"/><stop offset="0.6667" stop-color="#e10000"/><stop offset="0.7086" stop-color="#e80000"/><stop offset="0.7378" stop-color="#e80000"/><stop offset="0.7504" stop-color="#ea0000"/><stop offset="0.7713" stop-color="#ea0000"/><stop offset="0.7746" stop-color="#ef0000"/><stop offset="0.8089" stop-color="#ef0000"/><stop offset="0.8215" stop-color="#fd0000"/><stop offset="0.8340" stop-color="#ff5300"/><stop offset="0.8465" stop-color="#ff0100"/><stop offset="0.8528" stop-color="#ff5500"/><stop offset="0.8612" stop-color="#ff0100"/><stop offset="0.8716" stop-color="#ff5500"/><stop offset="0.8779" stop-color="#fd0000"/><stop offset="0.8884" stop-color="#ff5500"/><stop offset="0.8967" stop-color="#ff0100"/><stop offset="0.9093" stop-color="#ff5500"/><stop offset="0.9176" stop-color="#ff5500"/><stop offset="0.9239" stop-color="#ff1d00"/><stop offset="0.9344" stop-color="#ff5500"/><stop offset="0.9406" stop-color="#ff3d00"/><stop offset="0.9511" stop-color="#ff5500"/><stop offset="0.9594" stop-color="#ff3d00"/><stop offset="0.9678" stop-color="#ff5500"/><stop offset="0.9720" stop-color="#ff5500"/><stop offset="0.9803" stop-color="#ff7e00"/><stop offset="0.9929" stop-color="#ff7e00"/><stop offset="1.0000" stop-color="#ff5600"/></linearGradient><linearGradient id="g44" gradientUnits="userSpaceOnUse" x1="87.80" x2="2715.00" y1="0" y2="0"><stop offset="0.0000" stop-color="#efe900"/><stop offset="0.1566" stop-color="#efe900"/><stop offset="0.1775" stop-color="#edea00"/><stop offset="0.2319" stop-color="#edea00"/><stop offset="0.2486" stop-color="#f3e500"/><stop offset="0.2904" stop-color="#fadc00"/><stop offset="0.3155" stop-color="#ffc300"/><stop offset="0.3322" stop-color="#ffa900"/><stop offset="0.3573" stop-color="#ffa800"/><stop offset="0.3740" stop-color="#ff9e00"/><stop offset="0.3803" stop-color="#ff9e00"/><stop offset="0.3866" stop-color="#ff9d00"/><stop offset="0.3929" stop-color="#ff9b00"/><stop offset="0.4033" stop-color="#ff9d00"/><stop offset="0.4117" stop-color="#ff9900"/><stop offset="0.4200" stop-color="#ff9800"/><stop offset="0.4263" stop-color="#ff8d00"/><stop offset="0.4305" stop-color="#ff8f00"/><stop offset="0.4347" stop-color="#ff7b00"/><stop offset="0.4430" stop-color="#ff7e00"/><stop offset="0.4514" stop-color="#ff6600"/><stop offset="0.4577" stop-color="#ff6600"/><stop offset="0.4639" stop-color="#ff7800"/><stop offset="0.4702" stop-color="#ff6600"/><stop offset="0.4765" stop-color="#ff6a00"/><stop offset="0.4794" stop-color="#ff5900"/><stop offset="0.4869" stop-color="#f00000"/><stop offset="0.4903" stop-color="#ea0000"/><stop offset="0.4945" stop-color="#ea0000"/><stop offset="0.4995" stop-color="#ef0000"/><stop offset="0.5120" stop-color="#ef0000"/><stop offset="0.5170" stop-color="#ea0000"/><stop offset="0.5212" stop-color="#ea0000"/><stop offset="0.5329" stop-color="#e50000"/><stop offset="0.5497" stop-color="#e00000"/><stop offset="0.5601" stop-color="#de0000"/><stop offset="0.5748" stop-color="#dd0000"/><stop offset="0.5915" stop-color="#d80000"/><stop offset="0.6584" stop-color="#d80000"/><stop offset="0.6667" stop-color="#e10000"/><stop offset="0.7086" stop-color="#e90000"/><stop offset="0.7378" stop-color="#e90000"/><stop offset="0.7504" stop-color="#ea0000"/><stop offset="0.7713" stop-color="#eb0000"/><stop offset="0.7746" stop-color="#f30000"/><stop offset="0.8089" stop-color="#f30000"/><stop offset="0.8215" stop-color="#ff0000"/><stop offset="0.8340" stop-color="#ff5e00"/><stop offset="0.8465" stop-color="#ff1c00"/><stop offset="0.8528" stop-color="#ff5e00"/><stop offset="0.8612" stop-color="#ff1c00"/><stop offset="0.8716" stop-color="#ff5e00"/><stop offset="0.8779" stop-color="#ff0f00"/><stop offset="0.8884" stop-color="#ff5e00"/><stop offset="0.8967" stop-color="#ff1c00"/><stop offset="0.9093" stop-color="#ff5e00"/><stop offset="0.9176" stop-color="#ff5e00"/><stop offset="0.9239" stop-color="#ff3700"/><stop offset="0.9344" stop-color="#ff5e00"/><stop offset="0.9406" stop-color="#ff5300"/><stop offset="0.9511" stop-color="#ff5e00"/><stop offset="0.9594" stop-color="#ff5300"/><stop offset="0.9678" stop-color="#ff5e00"/><stop offset="0.9720" stop-color="#ff5e00"/><stop offset="0.9803" stop-color="#ff8200"/><stop offset="0.9929" stop-color="#ff8200"/><stop offset="1.0000" stop-color="#ff5f00"/></linearGradient><linearGradient id="g45" gradientUnits="userSpaceOnUse" x1="87.80" x2="2715.00" y1="0" y2="0"><stop offset="0.0000" stop-color="#ecea00"/><stop offset="0.1566" stop-color="#ecea00"/><stop offset="0.1775" stop-color="#eaeb00"/><stop offset="0.2319" stop-color="#eaeb00"/><stop offset="0.2486" stop-color="#f2e600"/><stop offset="0.2904" stop-color="#f9df00"/><stop offset="0.3155" stop-color="#ffc600"/><stop offset="0.3322" stop-color="#ffae00"/><stop offset="0.3573" stop-color="#ffab00"/><stop offset="0.3740" stop-color="#ffa000"/><stop offset="0.3866" stop-color="#ffa000"/><stop offset="0.3929" stop-color="#ff9e00"/><stop offset="0.4033" stop-color="#ff9f00"/><stop offset="0.4117" stop-color="#ff9b00"/><stop offset="0.4200" stop-color="#ff9a00"/><stop offset="0.4263" stop-color="#ff9200"/><stop offset="0.4305" stop-color="#ff9300"/><stop offset="0.4347" stop-color="#ff8200"/><stop offset="0.4430" stop-color="#ff8000"/><stop offset="0.4514" stop-color="#ff6c00"/><stop offset="0.4577" stop-color="#ff6c00"/><stop offset="0.4639" stop-color="#ff7800"/><stop offset="0.4702" stop-color="#ff6a00"/><stop offset="0.4765" stop-color="#ff6c00"/><stop offset="0.4794" stop-color="#ff5c00"/><stop offset="0.4869" stop-color="#f30000"/><stop offset="0.4903" stop-color="#ea0000"/><stop offset="0.4945" stop-color="#ea0000"/><stop offset="0.4995" stop-color="#ff4900"/><stop offset="0.5120" stop-color="#ff4900"/><stop offset="0.5170" stop-color="#ff0b00"/><stop offset="0.5212" stop-color="#ff0b00"/><stop offset="0.5329" stop-color="#e50000"/><stop offset="0.5497" stop-color="#e00000"/><stop offset="0.5601" stop-color="#df0000"/><stop offset="0.5748" stop-color="#de0000"/><stop offset="0.5915" stop-color="#d80000"/><stop offset="0.6584" stop-color="#d80000"/><stop offset="0.6667" stop-color="#e10000"/><stop offset="0.7086" stop-color="#e90000"/><stop offset="0.7378" stop-color="#e90000"/><stop offset="0.7504" stop-color="#ea0000"/><stop offset="0.7713" stop-color="#eb0000"/><stop offset="0.7746" stop-color="#ff5700"/><stop offset="0.8089" stop-color="#ff5700"/><stop offset="0.8215" stop-color="#ff7100"/><stop offset="0.8340" stop-color="#ff8d00"/><stop offset="0.9720" stop-color="#ff8d00"/><stop offset="0.9803" stop-color="#ff9c00"/><stop offset="1.0000" stop-color="#ff9c00"/></linearGradient><linearGradient id="g46" gradientUnits="userSpaceOnUse" x1="87.80" x2="2715.00" y1="0" y2="0"><stop offset="0.0000" stop-color="#e9ec00"/><stop offset="0.1566" stop-color="#e9ec00"/><stop offset="0.1775" stop-color="#e7ec00"/><stop offset="0.2319" stop-color="#e7ec00"/><stop offset="0.2486" stop-color="#f1e700"/><stop offset="0.2904" stop-color="#f7e100"/><stop offset="0.3155" stop-color="#ffca00"/><stop offset="0.3322" stop-color="#ffb200"/><stop offset="0.3573" stop-color="#ffae00"/><stop offset="0.3740" stop-color="#ffa300"/><stop offset="0.3803" stop-color="#ffa300"/><stop offset="0.3866" stop-color="#ffa200"/><stop offset="0.3929" stop-color="#ffa000"/><stop offset="0.4033" stop-color="#ffa100"/><stop offset="0.4117" stop-color="#ff9d00"/><stop offset="0.4200" stop-color="#ff9a00"/><stop offset="0.4263" stop-color="#ff9600"/><stop offset="0.4305" stop-color="#ff9700"/><stop offset="0.4347" stop-color="#ff8900"/><stop offset="0.4430" stop-color="#ff8200"/><stop offset="0.4514" stop-color="#ff7100"/><stop offset="0.4577" stop-color="#ff7100"/><stop offset="0.4639" stop-color="#ff7800"/><stop offset="0.4702" stop-color="#ff6d00"/><stop offset="0.4765" stop-color="#ff6e00"/><stop offset="0.4794" stop-color="#ff5f00"/><stop offset="0.4869" stop-color="#f50000"/><stop offset="0.4903" stop-color="#eb0000"/><stop offset="0.4945" stop-color="#eb0000"/><stop offset="0.4995" stop-color="#ff4900"/><stop offset="0.5120" stop-color="#ff4900"/><stop offset="0.5170" stop-color="#ff0b00"/><stop offset="0.5212" stop-color="#ff0b00"/><stop offset="0.5329" stop-color="#e60000"/><stop offset="0.5497" stop-color="#e00000"/><stop offset="0.5601" stop-color="#df0000"/><stop offset="0.5748" stop-color="#de0000"/><stop offset="0.5915" stop-color="#d80000"/><stop offset="0.6584" stop-color="#d80000"/><stop offset="0.6667" stop-color="#e10000"/><stop offset="0.7086" stop-color="#e90000"/><stop offset="0.7378" stop-color="#e90000"/><stop offset="0.7504" stop-color="#eb0000"/><stop offset="0.7713" stop-color="#ec0000"/><stop offset="0.7746" stop-color="#ff5700"/><stop offset="0.8089" stop-color="#ff5700"/><stop offset="0.8215" stop-color="#ff7100"/><stop offset="0.8340" stop-color="#ff8d00"/><stop offset="0.9720" stop-color="#ff8d00"/><stop offset="0.9803" stop-color="#ff9c00"/><stop offset="1.0000" stop-color="#ff9c00"/></linearGradient><linearGradient id="g47" gradientUnits="userSpaceOnUse" x1="87.80" x2="2715.00" y1="0" y2="0"><stop offset="0.0000" stop-color="#e6ed00"/><stop offset="0.1566" stop-color="#e6ed00"/><stop offset="0.1775" stop-color="#e5ee00"/><stop offset="0.2319" stop-color="#e5ee00"/><stop offset="0.2486" stop-color="#f0e800"/><stop offset="0.2904" stop-color="#f6e200"/><stop offset="0.3155" stop-color="#ffcd00"/><stop offset="0.3322" stop-color="#ffb800"/><stop offset="0.3573" stop-color="#ffb100"/><stop offset="0.3740" stop-color="#ffa600"/><stop offset="0.3803" stop-color="#ffa600"/><stop offset="0.3866" stop-color="#ffa500"/><stop offset="0.3929" stop-color="#ffa200"/><stop offset="0.4033" stop-color="#ffa300"/><stop offset="0.4117" stop-color="#ff9f00"/><stop offset="0.4200" stop-color="#ff9c00"/><stop offset="0.4263" stop-color="#ff9900"/><stop offset="0.4305" stop-color="#ff9900"/><stop offset="0.4347" stop-color="#ff8f00"/><stop offset="0.4430" stop-color="#ff8400"/><stop offset="0.4514" stop-color="#ff7600"/><stop offset="0.4577" stop-color="#ff7600"/><stop offset="0.4639" stop-color="#ff7800"/><stop offset="0.4702" stop-color="#ff7100"/><stop offset="0.4765" stop-color="#ff7000"/><stop offset="0.4794" stop-color="#ff6200"/><stop offset="0.4869" stop-color="#f70000"/><stop offset="0.4903" stop-color="#eb0000"/><stop offset="0.4945" stop-color="#eb0000"/><stop offset="0.4995" stop-color="#f50000"/><stop offset="0.5120" stop-color="#f50000"/><stop offset="0.5170" stop-color="#f00000"/><stop offset="0.5212" stop-color="#f00000"/><stop offset="0.5329" stop-color="#e60000"/><stop offset="0.5497" stop-color="#e00000"/><stop offset="0.5601" stop-color="#df0000"/><stop offset="0.5748" stop-color="#de0000"/><stop offset="0.5915" stop-color="#d80000"/><stop offset="0.6584" stop-color="#d80000"/><stop offset="0.6667" stop-color="#e10000"/><stop offset="0.7086" stop-color="#ea0000"/><stop offset="0.7378" stop-color="#ea0000"/><stop offset="0.7504" stop-color="#eb0000"/><stop offset="0.7713" stop-color="#ec0000"/><stop offset="0.7746" stop-color="#fe0000"/><stop offset="0.8089" stop-color="#fe0000"/><stop offset="0.8215" stop-color="#ff2400"/><stop offset="0.8340" stop-color="#ff3700"/><stop offset="0.9720" stop-color="#ff3700"/><stop offset="0.9803" stop-color="#ff6c00"/><stop offset="1.0000" stop-color="#ff6c00"/></linearGradient><linearGradient id="g48" gradientUnits="userSpaceOnUse" x1="87.80" x2="2715.00" y1="0" y2="0"><stop offset="0.0000" stop-color="#e3ef00"/><stop offset="0.1566" stop-color="#e3ef00"/><stop offset="0.1775" stop-color="#e1ef00"/><stop offset="0.2319" stop-color="#e1ef00"/><stop offset="0.2486" stop-color="#ecea00"/><stop offset="0.2904" stop-color="#f5e300"/><stop offset="0.3155" stop-color="#ffd000"/><stop offset="0.3322" stop-color="#ffbe00"/><stop offset="0.3573" stop-color="#ffb500"/><stop offset="0.3740" stop-color="#ffab00"/><stop offset="0.3803" stop-color="#ffab00"/><stop offset="0.3866" stop-color="#ffaa00"/><stop offset="0.3929" stop-color="#ffa800"/><stop offset="0.4033" stop-color="#ffa800"/><stop offset="0.4117" stop-color="#ffa500"/><stop offset="0.4200" stop-color="#ff9e00"/><stop offset="0.4263" stop-color="#ff9c00"/><stop offset="0.4305" stop-color="#ff9c00"/><stop offset="0.4347" stop-color="#ff9a00"/><stop offset="0.4430" stop-color="#ff9400"/><stop offset="0.4514" stop-color="#ff7b00"/><stop offset="0.4639" stop-color="#ff7b00"/><stop offset="0.4702" stop-color="#ff7700"/><stop offset="0.4765" stop-color="#ff7600"/><stop offset="0.4794" stop-color="#ff6c00"/><stop offset="0.4869" stop-color="#fa0000"/><stop offset="0.4903" stop-color="#ed0000"/><stop offset="0.4945" stop-color="#ec0000"/><stop offset="0.4995" stop-color="#f30000"/><stop offset="0.5120" stop-color="#f40000"/><stop offset="0.5170" stop-color="#ee0000"/><stop offset="0.5212" stop-color="#ef0000"/><stop offset="0.5329" stop-color="#e90000"/><stop offset="0.5497" stop-color="#e20000"/><stop offset="0.5601" stop-color="#e00000"/><stop offset="0.5748" stop-color="#df0000"/><stop offset="0.5915" stop-color="#d80000"/><stop offset="0.6584" stop-color="#d80000"/><stop offset="0.6667" stop-color="#e10000"/><stop offset="0.7086" stop-color="#ea0000"/><stop offset="0.7378" stop-color="#ea0000"/><stop offset="0.7504" stop-color="#eb0000"/><stop offset="0.7713" stop-color="#ed0000"/><stop offset="0.7746" stop-color="#fe0000"/><stop offset="0.8089" stop-color="#fe0000"/><stop offset="0.8215" stop-color="#ff1e00"/><stop offset="0.8340" stop-color="#ff2800"/><stop offset="0.9720" stop-color="#ff2800"/><stop offset="0.9803" stop-color="#ff6000"/><stop offset="1.0000" stop-color="#ff6000"/></linearGradient><linearGradient id="g49" gradientUnits="userSpaceOnUse" x1="87.80" x2="2715.00" y1="0" y2="0"><stop offset="0.0000" stop-color="#def100"/><stop offset="0.1566" stop-color="#def100"/><stop offset="0.1775" stop-color="#ddf100"/><stop offset="0.2319" stop-color="#ddf100"/><stop offset="0.2486" stop-color="#e8ec00"/><stop offset="0.2904" stop-color="#f4e400"/><stop offset="0.3155" stop-color="#fed100"/><stop offset="0.3322" stop-color="#ffc400"/><stop offset="0.3573" stop-color="#ffbc00"/><stop offset="0.3740" stop-color="#ffb200"/><stop offset="0.3866" stop-color="#ffb200"/><stop offset="0.3929" stop-color="#ffb100"/><stop offset="0.4033" stop-color="#ffb100"/><stop offset="0.4117" stop-color="#ffb000"/><stop offset="0.4200" stop-color="#ffa200"/><stop offset="0.4263" stop-color="#ffa100"/><stop offset="0.4347" stop-color="#ffa100"/><stop offset="0.4430" stop-color="#ffa000"/><stop offset="0.4514" stop-color="#ff8200"/><stop offset="0.4639" stop-color="#ff8200"/><stop offset="0.4702" stop-color="#ff8100"/><stop offset="0.4765" stop-color="#ff8000"/><stop offset="0.4794" stop-color="#ff7d00"/><stop offset="0.4869" stop-color="#ff0000"/><stop offset="0.4903" stop-color="#ef0000"/><stop offset="0.4945" stop-color="#ef0000"/><stop offset="0.4995" stop-color="#f50000"/><stop offset="0.5120" stop-color="#f90000"/><stop offset="0.5170" stop-color="#ee0000"/><stop offset="0.5212" stop-color="#f10000"/><stop offset="0.5329" stop-color="#ed0000"/><stop offset="0.5497" stop-color="#e50000"/><stop offset="0.5601" stop-color="#e20000"/><stop offset="0.5748" stop-color="#e10000"/><stop offset="0.5915" stop-color="#d90000"/><stop offset="0.6584" stop-color="#d90000"/><stop offset="0.6667" stop-color="#e20000"/><stop offset="0.7086" stop-color="#eb0000"/><stop offset="0.7378" stop-color="#eb0000"/><stop offset="0.7504" stop-color="#ec0000"/><stop offset="0.7713" stop-color="#ed0000"/><stop offset="0.7746" stop-color="#ff1000"/><stop offset="0.8089" stop-color="#ff1000"/><stop offset="0.8215" stop-color="#ff2500"/><stop offset="0.8340" stop-color="#ff2f00"/><stop offset="0.9720" stop-color="#ff2f00"/><stop offset="0.9803" stop-color="#ff5a00"/><stop offset="1.0000" stop-color="#ff5a00"/></linearGradient><linearGradient id="g50" gradientUnits="userSpaceOnUse" x1="87.80" x2="2715.00" y1="0" y2="0"><stop offset="0.0000" stop-color="#d9f200"/><stop offset="0.1566" stop-color="#d9f200"/><stop offset="0.1775" stop-color="#d7f300"/><stop offset="0.2319" stop-color="#d7f300"/><stop offset="0.2486" stop-color="#e4ee00"/><stop offset="0.2904" stop-color="#f2e600"/><stop offset="0.3155" stop-color="#fed300"/><stop offset="0.3322" stop-color="#ffc800"/><stop offset="0.3573" stop-color="#ffc400"/><stop offset="0.3740" stop-color="#ffb800"/><stop offset="0.4117" stop-color="#ffb800"/><stop offset="0.4200" stop-color="#ffa600"/><stop offset="0.4430" stop-color="#ffa600"/><stop offset="0.4514" stop-color="#ff8b00"/><stop offset="0.4794" stop-color="#ff8b00"/><stop offset="0.4869" stop-color="#ff1d00"/><stop offset="0.4903" stop-color="#f20000"/><stop offset="0.4945" stop-color="#f10000"/><stop offset="0.4995" stop-color="#f90000"/><stop offset="0.5120" stop-color="#fe0000"/><stop offset="0.5170" stop-color="#ef0000"/><stop offset="0.5212" stop-color="#f40000"/><stop offset="0.5329" stop-color="#f20000"/><stop offset="0.5497" stop-color="#e80000"/><stop offset="0.5601" stop-color="#e40000"/><stop offset="0.5748" stop-color="#e20000"/><stop offset="0.5915" stop-color="#d90000"/><stop offset="0.6584" stop-color="#d90000"/><stop offset="0.6667" stop-color="#e20000"/><stop offset="0.7086" stop-color="#ec0000"/><stop offset="0.7504" stop-color="#ec0000"/><stop offset="0.7713" stop-color="#ee0000"/><stop offset="0.7746" stop-color="#ff2800"/><stop offset="0.7838" stop-color="#ff2600"/><stop offset="0.8005" stop-color="#ff2600"/><stop offset="0.8089" stop-color="#ff2c00"/><stop offset="0.8215" stop-color="#ff3900"/><stop offset="0.8340" stop-color="#ff3c00"/><stop offset="0.9720" stop-color="#ff3c00"/><stop offset="0.9803" stop-color="#ff5e00"/><stop offset="1.0000" stop-color="#ff5e00"/></linearGradient><linearGradient id="g51" gradientUnits="userSpaceOnUse" x1="87.80" x2="2715.00" y1="0" y2="0"><stop offset="0.0000" stop-color="#d3f400"/><stop offset="0.1566" stop-color="#d3f400"/><stop offset="0.1775" stop-color="#d2f500"/><stop offset="0.2319" stop-color="#d2f500"/><stop offset="0.2486" stop-color="#e0f000"/><stop offset="0.2904" stop-color="#f1e700"/><stop offset="0.3155" stop-color="#fdd500"/><stop offset="0.3322" stop-color="#ffcd00"/><stop offset="0.3573" stop-color="#ffc900"/><stop offset="0.3740" stop-color="#ffbd00"/><stop offset="0.4117" stop-color="#ffbd00"/><stop offset="0.4200" stop-color="#ffaa00"/><stop offset="0.4430" stop-color="#ffaa00"/><stop offset="0.4514" stop-color="#ff9600"/><stop offset="0.4794" stop-color="#ff9600"/><stop offset="0.4869" stop-color="#ff4500"/><stop offset="0.4903" stop-color="#f70000"/><stop offset="0.4945" stop-color="#f30000"/><stop offset="0.4995" stop-color="#fe0000"/><stop offset="0.5120" stop-color="#ff1600"/><stop offset="0.5170" stop-color="#ef0000"/><stop offset="0.5212" stop-color="#f90000"/><stop offset="0.5329" stop-color="#f70000"/><stop offset="0.5497" stop-color="#eb0000"/><stop offset="0.5601" stop-color="#e60000"/><stop offset="0.5748" stop-color="#e40000"/><stop offset="0.5915" stop-color="#da0000"/><stop offset="0.6584" stop-color="#da0000"/><stop offset="0.6667" stop-color="#e20000"/><stop offset="0.7086" stop-color="#ed0000"/><stop offset="0.7504" stop-color="#ed0000"/><stop offset="0.7713" stop-color="#ef0000"/><stop offset="0.7746" stop-color="#ff4900"/><stop offset="0.7838" stop-color="#ff4200"/><stop offset="0.8005" stop-color="#ff4200"/><stop offset="0.8089" stop-color="#ff5400"/><stop offset="0.8215" stop-color="#ff5700"/><stop offset="0.8340" stop-color="#ff5200"/><stop offset="0.9720" stop-color="#ff5200"/><stop offset="0.9803" stop-color="#ff6c00"/><stop offset="1.0000" stop-color="#ff6c00"/></linearGradient><linearGradient id="g52" gradientUnits="userSpaceOnUse" x1="87.80" x2="2715.00" y1="0" y2="0"><stop offset="0.0000" stop-color="#d0f500"/><stop offset="0.1566" stop-color="#d0f500"/><stop offset="0.1775" stop-color="#cff600"/><stop offset="0.2319" stop-color="#cff600"/><stop offset="0.2486" stop-color="#dcf100"/><stop offset="0.2904" stop-color="#f0e800"/><stop offset="0.3155" stop-color="#fcd700"/><stop offset="0.3322" stop-color="#ffd000"/><stop offset="0.3573" stop-color="#ffcd00"/><stop offset="0.3740" stop-color="#ffc200"/><stop offset="0.4117" stop-color="#ffc200"/><stop offset="0.4200" stop-color="#ffaf00"/><stop offset="0.4430" stop-color="#ffaf00"/><stop offset="0.4514" stop-color="#ff9b00"/><stop offset="0.4794" stop-color="#ff9b00"/><stop offset="0.4869" stop-color="#ff5f00"/><stop offset="0.4903" stop-color="#fd0000"/><stop offset="0.4945" stop-color="#f90000"/><stop offset="0.4995" stop-color="#ff1a00"/><stop offset="0.5120" stop-color="#ff2b00"/><stop offset="0.5170" stop-color="#f10000"/><stop offset="0.5212" stop-color="#fe0000"/><stop offset="0.5329" stop-color="#fd0000"/><stop offset="0.5497" stop-color="#ee0000"/><stop offset="0.5601" stop-color="#e80000"/><stop offset="0.5748" stop-color="#e50000"/><stop offset="0.5915" stop-color="#da0000"/><stop offset="0.6584" stop-color="#da0000"/><stop offset="0.6667" stop-color="#e30000"/><stop offset="0.7086" stop-color="#ee0000"/><stop offset="0.7378" stop-color="#ee0000"/><stop offset="0.7504" stop-color="#ef0000"/><stop offset="0.7713" stop-color="#f20000"/><stop offset="0.7746" stop-color="#ff6100"/><stop offset="0.7838" stop-color="#ff5500"/><stop offset="0.8005" stop-color="#ff5500"/><stop offset="0.8089" stop-color="#ff6c00"/><stop offset="0.8215" stop-color="#ff6c00"/><stop offset="0.8340" stop-color="#ff6b00"/><stop offset="0.9720" stop-color="#ff6b00"/><stop offset="0.9803" stop-color="#ff7c00"/><stop offset="1.0000" stop-color="#ff7c00"/></linearGradient><linearGradient id="g53" gradientUnits="userSpaceOnUse" x1="87.80" x2="2715.00" y1="0" y2="0"><stop offset="0.0000" stop-color="#cdf600"/><stop offset="0.2319" stop-color="#cdf600"/><stop offset="0.2486" stop-color="#daf200"/><stop offset="0.2904" stop-color="#edea00"/><stop offset="0.3155" stop-color="#fadb00"/><stop offset="0.3322" stop-color="#fed300"/><stop offset="0.3573" stop-color="#ffcf00"/><stop offset="0.3740" stop-color="#ffc600"/><stop offset="0.4117" stop-color="#ffc600"/><stop offset="0.4200" stop-color="#ffb300"/><stop offset="0.4430" stop-color="#ffb300"/><stop offset="0.4514" stop-color="#ff9e00"/><stop offset="0.4794" stop-color="#ff9e00"/><stop offset="0.4869" stop-color="#ff6f00"/><stop offset="0.4903" stop-color="#ff1400"/><stop offset="0.4945" stop-color="#ff0000"/><stop offset="0.4995" stop-color="#ff3900"/><stop offset="0.5120" stop-color="#ff4400"/><stop offset="0.5170" stop-color="#f30000"/><stop offset="0.5212" stop-color="#ff1600"/><stop offset="0.5329" stop-color="#ff1700"/><stop offset="0.5497" stop-color="#f20000"/><stop offset="0.5601" stop-color="#ea0000"/><stop offset="0.5748" stop-color="#e70000"/><stop offset="0.5915" stop-color="#dc0000"/><stop offset="0.6584" stop-color="#dc0000"/><stop offset="0.6667" stop-color="#e50000"/><stop offset="0.7086" stop-color="#f10000"/><stop offset="0.7378" stop-color="#f10000"/><stop offset="0.7504" stop-color="#f20000"/><stop offset="0.7713" stop-color="#f60000"/><stop offset="0.7746" stop-color="#ff7400"/><stop offset="0.7838" stop-color="#ff5f00"/><stop offset="0.8005" stop-color="#ff5f00"/><stop offset="0.8089" stop-color="#ff7d00"/><stop offset="0.8215" stop-color="#ff7d00"/><stop offset="0.8340" stop-color="#ff7c00"/><stop offset="0.9720" stop-color="#ff7c00"/><stop offset="0.9803" stop-color="#ff8f00"/><stop offset="1.0000" stop-color="#ff8f00"/></linearGradient><linearGradient id="g54" gradientUnits="userSpaceOnUse" x1="87.80" x2="2715.00" y1="0" y2="0"><stop offset="0.0000" stop-color="#cbf700"/><stop offset="0.2319" stop-color="#cbf700"/><stop offset="0.2486" stop-color="#d7f300"/><stop offset="0.2904" stop-color="#eaeb00"/><stop offset="0.3155" stop-color="#f9de00"/><stop offset="0.3322" stop-color="#fcd600"/><stop offset="0.3573" stop-color="#fed200"/><stop offset="0.3740" stop-color="#ffc900"/><stop offset="0.4117" stop-color="#ffc900"/><stop offset="0.4200" stop-color="#ffb900"/><stop offset="0.4430" stop-color="#ffb900"/><stop offset="0.4514" stop-color="#ffa200"/><stop offset="0.4794" stop-color="#ffa200"/><stop offset="0.4869" stop-color="#ff7f00"/><stop offset="0.4903" stop-color="#ff3400"/><stop offset="0.4945" stop-color="#ff2200"/><stop offset="0.4995" stop-color="#ff5100"/><stop offset="0.5120" stop-color="#ff5600"/><stop offset="0.5170" stop-color="#f60000"/><stop offset="0.5212" stop-color="#ff2d00"/><stop offset="0.5329" stop-color="#ff3000"/><stop offset="0.5497" stop-color="#f80000"/><stop offset="0.5601" stop-color="#ed0000"/><stop offset="0.5748" stop-color="#e90000"/><stop offset="0.5915" stop-color="#dd0000"/><stop offset="0.6584" stop-color="#dd0000"/><stop offset="0.6667" stop-color="#e70000"/><stop offset="0.7086" stop-color="#f30000"/><stop offset="0.7378" stop-color="#f30000"/><stop offset="0.7504" stop-color="#f50000"/><stop offset="0.7713" stop-color="#fa0000"/><stop offset="0.7746" stop-color="#ff8200"/><stop offset="0.7838" stop-color="#ff6400"/><stop offset="0.8005" stop-color="#ff6600"/><stop offset="0.8089" stop-color="#ff8b00"/><stop offset="0.8215" stop-color="#ff8b00"/><stop offset="0.8340" stop-color="#ff8d00"/><stop offset="0.9720" stop-color="#ff8d00"/><stop offset="0.9803" stop-color="#ff9a00"/><stop offset="1.0000" stop-color="#ff9a00"/></linearGradient><linearGradient id="g55" gradientUnits="userSpaceOnUse" x1="87.80" x2="2715.00" y1="0" y2="0"><stop offset="0.0000" stop-color="#c9f800"/><stop offset="0.2319" stop-color="#c9f800"/><stop offset="0.2486" stop-color="#d4f400"/><stop offset="0.2904" stop-color="#e7ec00"/><stop offset="0.3155" stop-color="#f7e100"/><stop offset="0.3322" stop-color="#fbd900"/><stop offset="0.3573" stop-color="#fdd500"/><stop offset="0.3740" stop-color="#ffcc00"/><stop offset="0.4117" stop-color="#ffcc00"/><stop offset="0.4200" stop-color="#ffbe00"/><stop offset="0.4430" stop-color="#ffbe00"/><stop offset="0.4514" stop-color="#ffa700"/><stop offset="0.4794" stop-color="#ffa700"/><stop offset="0.4869" stop-color="#ff9000"/><stop offset="0.4903" stop-color="#ff5500"/><stop offset="0.4945" stop-color="#ff4700"/><stop offset="0.4995" stop-color="#ff5e00"/><stop offset="0.5120" stop-color="#ff6100"/><stop offset="0.5170" stop-color="#f90000"/><stop offset="0.5212" stop-color="#ff4700"/><stop offset="0.5329" stop-color="#ff4b00"/><stop offset="0.5497" stop-color="#fe0000"/><stop offset="0.5601" stop-color="#f10000"/><stop offset="0.5748" stop-color="#ea0000"/><stop offset="0.5915" stop-color="#df0000"/><stop offset="0.6584" stop-color="#df0000"/><stop offset="0.6667" stop-color="#e90000"/><stop offset="0.7086" stop-color="#f50000"/><stop offset="0.7378" stop-color="#f50000"/><stop offset="0.7504" stop-color="#f90000"/><stop offset="0.7713" stop-color="#ff0000"/><stop offset="0.7746" stop-color="#ff8c00"/><stop offset="0.7838" stop-color="#ff6400"/><stop offset="0.8005" stop-color="#ff6900"/><stop offset="0.8089" stop-color="#ff9600"/><stop offset="0.8215" stop-color="#ff9600"/><stop offset="0.8340" stop-color="#ff9900"/><stop offset="0.9720" stop-color="#ff9900"/><stop offset="0.9803" stop-color="#ff9e00"/><stop offset="1.0000" stop-color="#ff9e00"/></linearGradient><linearGradient id="g56" gradientUnits="userSpaceOnUse" x1="87.80" x2="2715.00" y1="0" y2="0"><stop offset="0.0000" stop-color="#c7f800"/><stop offset="0.0270" stop-color="#c6f900"/><stop offset="0.0521" stop-color="#c6f900"/><stop offset="0.0688" stop-color="#c7f800"/><stop offset="0.1775" stop-color="#c7f800"/><stop offset="0.2068" stop-color="#c6f800"/><stop offset="0.2319" stop-color="#c7f800"/><stop offset="0.2486" stop-color="#d2f500"/><stop offset="0.2904" stop-color="#e4ee00"/><stop offset="0.3155" stop-color="#f5e300"/><stop offset="0.3322" stop-color="#fadc00"/><stop offset="0.3573" stop-color="#fbd800"/><stop offset="0.3740" stop-color="#ffce00"/><stop offset="0.4117" stop-color="#ffce00"/><stop offset="0.4200" stop-color="#ffc200"/><stop offset="0.4430" stop-color="#ffc200"/><stop offset="0.4514" stop-color="#ffab00"/><stop offset="0.4794" stop-color="#ffab00"/><stop offset="0.4869" stop-color="#ff9a00"/><stop offset="0.4903" stop-color="#ff6800"/><stop offset="0.4945" stop-color="#ff6200"/><stop offset="0.4995" stop-color="#ff6a00"/><stop offset="0.5120" stop-color="#ff6c00"/><stop offset="0.5170" stop-color="#fc0000"/><stop offset="0.5212" stop-color="#ff5900"/><stop offset="0.5329" stop-color="#ff5600"/><stop offset="0.5497" stop-color="#ff1700"/><stop offset="0.5601" stop-color="#f50000"/><stop offset="0.5748" stop-color="#ed0000"/><stop offset="0.5915" stop-color="#e00000"/><stop offset="0.6584" stop-color="#e00000"/><stop offset="0.6667" stop-color="#eb0000"/><stop offset="0.7086" stop-color="#f80000"/><stop offset="0.7378" stop-color="#f80000"/><stop offset="0.7504" stop-color="#fc0000"/><stop offset="0.7713" stop-color="#ff1a00"/><stop offset="0.7746" stop-color="#ff9600"/><stop offset="0.7838" stop-color="#ff6400"/><stop offset="0.8005" stop-color="#ff6c00"/><stop offset="0.8089" stop-color="#ff9b00"/><stop offset="0.8215" stop-color="#ff9b00"/><stop offset="0.8340" stop-color="#ff9d00"/><stop offset="0.9720" stop-color="#ff9d00"/><stop offset="0.9803" stop-color="#ffa200"/><stop offset="1.0000" stop-color="#ffa200"/></linearGradient><linearGradient id="g57" gradientUnits="userSpaceOnUse" x1="87.80" x2="2715.00" y1="0" y2="0"><stop offset="0.0000" stop-color="#c5f900"/><stop offset="0.0270" stop-color="#c2fa00"/><stop offset="0.0521" stop-color="#c3fa00"/><stop offset="0.0688" stop-color="#c6f900"/><stop offset="0.1566" stop-color="#c6f900"/><stop offset="0.1775" stop-color="#c6f800"/><stop offset="0.2068" stop-color="#c3f900"/><stop offset="0.2319" stop-color="#c6f800"/><stop offset="0.2486" stop-color="#cff600"/><stop offset="0.2904" stop-color="#e1ef00"/><stop offset="0.3155" stop-color="#f4e400"/><stop offset="0.3322" stop-color="#f9df00"/><stop offset="0.3573" stop-color="#fadb00"/><stop offset="0.3740" stop-color="#ffd100"/><stop offset="0.4117" stop-color="#ffd100"/><stop offset="0.4200" stop-color="#ffc600"/><stop offset="0.4430" stop-color="#ffc600"/><stop offset="0.4514" stop-color="#ffb000"/><stop offset="0.4794" stop-color="#ffb000"/><stop offset="0.4869" stop-color="#ffa000"/><stop offset="0.4903" stop-color="#ff7b00"/><stop offset="0.4945" stop-color="#ff7700"/><stop offset="0.5120" stop-color="#ff7700"/><stop offset="0.5170" stop-color="#ff0b00"/><stop offset="0.5212" stop-color="#ff6900"/><stop offset="0.5329" stop-color="#ff5f00"/><stop offset="0.5497" stop-color="#ff3000"/><stop offset="0.5601" stop-color="#f90000"/><stop offset="0.5748" stop-color="#f00000"/><stop offset="0.5915" stop-color="#e20000"/><stop offset="0.6584" stop-color="#e20000"/><stop offset="0.6667" stop-color="#ec0000"/><stop offset="0.7086" stop-color="#fa0000"/><stop offset="0.7378" stop-color="#fa0000"/><stop offset="0.7504" stop-color="#ff0b00"/><stop offset="0.7713" stop-color="#ff2f00"/><stop offset="0.7746" stop-color="#ff9b00"/><stop offset="0.7838" stop-color="#ff6400"/><stop offset="0.8005" stop-color="#ff6f00"/><stop offset="0.8089" stop-color="#ff9e00"/><stop offset="0.8215" stop-color="#ff9e00"/><stop offset="0.8340" stop-color="#ffa200"/><stop offset="0.9720" stop-color="#ffa200"/><stop offset="0.9803" stop-color="#ffa500"/><stop offset="1.0000" stop-color="#ffa500"/></linearGradient><linearGradient id="g58" gradientUnits="userSpaceOnUse" x1="87.80" x2="2715.00" y1="0" y2="0"><stop offset="0.0000" stop-color="#c3fa00"/><stop offset="0.0270" stop-color="#befb00"/><stop offset="0.0521" stop-color="#bffb00"/><stop offset="0.0688" stop-color="#c5f900"/><stop offset="0.1775" stop-color="#c5f900"/><stop offset="0.2068" stop-color="#c0fa00"/><stop offset="0.2319" stop-color="#c5f900"/><stop offset="0.2486" stop-color="#cdf600"/><stop offset="0.2904" stop-color="#def100"/><stop offset="0.3155" stop-color="#f2e600"/><stop offset="0.3322" stop-color="#f7e100"/><stop offset="0.3573" stop-color="#f9de00"/><stop offset="0.3740" stop-color="#fdd400"/><stop offset="0.4117" stop-color="#fdd400"/><stop offset="0.4200" stop-color="#ffca00"/><stop offset="0.4430" stop-color="#ffca00"/><stop offset="0.4514" stop-color="#ffb400"/><stop offset="0.4794" stop-color="#ffb400"/><stop offset="0.4869" stop-color="#ffa400"/><stop offset="0.4903" stop-color="#ff8e00"/><stop offset="0.4945" stop-color="#ff8d00"/><stop offset="0.4995" stop-color="#ff8400"/><stop offset="0.5120" stop-color="#ff8500"/><stop offset="0.5170" stop-color="#ff2c00"/><stop offset="0.5212" stop-color="#ff7700"/><stop offset="0.5329" stop-color="#ff6a00"/><stop offset="0.5497" stop-color="#ff4b00"/><stop offset="0.5601" stop-color="#fe0000"/><stop offset="0.5748" stop-color="#f30000"/><stop offset="0.5915" stop-color="#e40000"/><stop offset="0.6584" stop-color="#e40000"/><stop offset="0.6667" stop-color="#ef0000"/><stop offset="0.7086" stop-color="#fe0000"/><stop offset="0.7378" stop-color="#fe0000"/><stop offset="0.7504" stop-color="#ff2300"/><stop offset="0.7713" stop-color="#ff3c00"/><stop offset="0.7746" stop-color="#ff9e00"/><stop offset="0.7838" stop-color="#ff6e00"/><stop offset="0.8005" stop-color="#ff7900"/><stop offset="0.8089" stop-color="#ffa100"/><stop offset="0.8215" stop-color="#ffa200"/><stop offset="0.8340" stop-color="#ffa500"/><stop offset="0.9720" stop-color="#ffa500"/><stop offset="0.9803" stop-color="#ffa900"/><stop offset="1.0000" stop-color="#ffa900"/></linearGradient><linearGradient id="g59" gradientUnits="userSpaceOnUse" x1="87.80" x2="2715.00" y1="0" y2="0"><stop offset="0.0000" stop-color="#c0fa00"/><stop offset="0.0270" stop-color="#bafc00"/><stop offset="0.0521" stop-color="#bbfc00"/><stop offset="0.0688" stop-color="#c4f900"/><stop offset="0.1775" stop-color="#c4f900"/><stop offset="0.2068" stop-color="#bdfb00"/><stop offset="0.2319" stop-color="#c4f900"/><stop offset="0.2486" stop-color="#cbf700"/><stop offset="0.2904" stop-color="#dbf200"/><stop offset="0.3155" stop-color="#f0e800"/><stop offset="0.3322" stop-color="#f5e300"/><stop offset="0.3573" stop-color="#f7e100"/><stop offset="0.3740" stop-color="#fbd800"/><stop offset="0.4117" stop-color="#fbd800"/><stop offset="0.4200" stop-color="#ffce00"/><stop offset="0.4430" stop-color="#ffce00"/><stop offset="0.4514" stop-color="#ffbb00"/><stop offset="0.4794" stop-color="#ffbb00"/><stop offset="0.4869" stop-color="#ffa800"/><stop offset="0.4903" stop-color="#ff9b00"/><stop offset="0.4945" stop-color="#ff9b00"/><stop offset="0.4995" stop-color="#ff9100"/><stop offset="0.5120" stop-color="#ff9500"/><stop offset="0.5170" stop-color="#ff5400"/><stop offset="0.5212" stop-color="#ff8400"/><stop offset="0.5329" stop-color="#ff7700"/><stop offset="0.5497" stop-color="#ff5b00"/><stop offset="0.5601" stop-color="#ff1300"/><stop offset="0.5748" stop-color="#f60000"/><stop offset="0.5915" stop-color="#e70000"/><stop offset="0.6584" stop-color="#e70000"/><stop offset="0.6667" stop-color="#f40000"/><stop offset="0.7086" stop-color="#ff1700"/><stop offset="0.7378" stop-color="#ff1700"/><stop offset="0.7504" stop-color="#ff3800"/><stop offset="0.7713" stop-color="#ff4900"/><stop offset="0.7746" stop-color="#ffa000"/><stop offset="0.7838" stop-color="#ff8400"/><stop offset="0.8005" stop-color="#ff8c00"/><stop offset="0.8089" stop-color="#ffa400"/><stop offset="0.8215" stop-color="#ffa500"/><stop offset="0.8340" stop-color="#ffa800"/><stop offset="0.9720" stop-color="#ffa800"/><stop offset="0.9803" stop-color="#ffac00"/><stop offset="1.0000" stop-color="#ffac00"/></linearGradient><linearGradient id="g60" gradientUnits="userSpaceOnUse" x1="87.80" x2="2715.00" y1="0" y2="0"><stop offset="0.0000" stop-color="#befb00"/><stop offset="0.0270" stop-color="#b6fd00"/><stop offset="0.0521" stop-color="#b8fd00"/><stop offset="0.0688" stop-color="#c3fa00"/><stop offset="0.1566" stop-color="#c3fa00"/><stop offset="0.1775" stop-color="#c3f900"/><stop offset="0.2068" stop-color="#b9fc00"/><stop offset="0.2319" stop-color="#c3f900"/><stop offset="0.2486" stop-color="#c9f800"/><stop offset="0.2904" stop-color="#d8f300"/><stop offset="0.3155" stop-color="#ecea00"/><stop offset="0.3322" stop-color="#f4e400"/><stop offset="0.3573" stop-color="#f5e300"/><stop offset="0.3740" stop-color="#fadc00"/><stop offset="0.4117" stop-color="#fadc00"/><stop offset="0.4200" stop-color="#fed200"/><stop offset="0.4430" stop-color="#fed200"/><stop offset="0.4514" stop-color="#ffc200"/><stop offset="0.4794" stop-color="#ffc200"/><stop offset="0.4869" stop-color="#ffad00"/><stop offset="0.4903" stop-color="#ffa100"/><stop offset="0.4945" stop-color="#ffa100"/><stop offset="0.4995" stop-color="#ff9a00"/><stop offset="0.5120" stop-color="#ff9c00"/><stop offset="0.5170" stop-color="#ff6f00"/><stop offset="0.5212" stop-color="#ff9100"/><stop offset="0.5329" stop-color="#ff8400"/><stop offset="0.5497" stop-color="#ff6900"/><stop offset="0.5601" stop-color="#ff2e00"/><stop offset="0.5748" stop-color="#fa0000"/><stop offset="0.5915" stop-color="#eb0000"/><stop offset="0.6584" stop-color="#eb0000"/><stop offset="0.6667" stop-color="#f90000"/><stop offset="0.7086" stop-color="#ff2e00"/><stop offset="0.7378" stop-color="#ff2e00"/><stop offset="0.7504" stop-color="#ff4b00"/><stop offset="0.7713" stop-color="#ff5600"/><stop offset="0.7746" stop-color="#ffa300"/><stop offset="0.7838" stop-color="#ff9900"/><stop offset="0.8005" stop-color="#ff9a00"/><stop offset="0.8089" stop-color="#ffa700"/><stop offset="0.8215" stop-color="#ffa900"/><stop offset="0.8340" stop-color="#ffab00"/><stop offset="0.9720" stop-color="#ffab00"/><stop offset="0.9803" stop-color="#ffaf00"/><stop offset="1.0000" stop-color="#ffaf00"/></linearGradient><linearGradient id="g61" gradientUnits="userSpaceOnUse" x1="87.80" x2="2715.00" y1="0" y2="0"><stop offset="0.0000" stop-color="#bcfb00"/><stop offset="0.0270" stop-color="#b2ff00"/><stop offset="0.0521" stop-color="#b4fe00"/><stop offset="0.0688" stop-color="#c2fa00"/><stop offset="0.1775" stop-color="#c2fa00"/><stop offset="0.2068" stop-color="#b6fd00"/><stop offset="0.2319" stop-color="#c2fa00"/><stop offset="0.2486" stop-color="#c7f800"/><stop offset="0.2904" stop-color="#d5f400"/><stop offset="0.3155" stop-color="#e8ec00"/><stop offset="0.3322" stop-color="#f2e600"/><stop offset="0.3573" stop-color="#f4e400"/><stop offset="0.3740" stop-color="#f8e000"/><stop offset="0.4117" stop-color="#f8e000"/><stop offset="0.4200" stop-color="#fcd600"/><stop offset="0.4430" stop-color="#fcd600"/><stop offset="0.4514" stop-color="#ffc700"/><stop offset="0.4794" stop-color="#ffc700"/><stop offset="0.4869" stop-color="#ffb100"/><stop offset="0.4903" stop-color="#ffa700"/><stop offset="0.4945" stop-color="#ffa700"/><stop offset="0.4995" stop-color="#ff9f00"/><stop offset="0.5120" stop-color="#ffa100"/><stop offset="0.5170" stop-color="#ff8600"/><stop offset="0.5212" stop-color="#ff9b00"/><stop offset="0.5329" stop-color="#ff9100"/><stop offset="0.5497" stop-color="#ff7700"/><stop offset="0.5601" stop-color="#ff4d00"/><stop offset="0.5748" stop-color="#ff0200"/><stop offset="0.5915" stop-color="#ee0000"/><stop offset="0.6584" stop-color="#ee0000"/><stop offset="0.6667" stop-color="#ff0300"/><stop offset="0.7086" stop-color="#ff4700"/><stop offset="0.7378" stop-color="#ff4700"/><stop offset="0.7504" stop-color="#ff5900"/><stop offset="0.7713" stop-color="#ff6300"/><stop offset="0.7746" stop-color="#ffa600"/><stop offset="0.7838" stop-color="#ffa300"/><stop offset="0.8005" stop-color="#ffa300"/><stop offset="0.8089" stop-color="#ffa900"/><stop offset="0.8215" stop-color="#ffac00"/><stop offset="0.8340" stop-color="#ffae00"/><stop offset="0.9720" stop-color="#ffae00"/><stop offset="0.9803" stop-color="#ffb200"/><stop offset="1.0000" stop-color="#ffb200"/></linearGradient><linearGradient id="g62" gradientUnits="userSpaceOnUse" x1="87.80" x2="2715.00" y1="0" y2="0"><stop offset="0.0000" stop-color="#bafc00"/><stop offset="0.0270" stop-color="#a7ff00"/><stop offset="0.0521" stop-color="#b0ff00"/><stop offset="0.0688" stop-color="#c0fa00"/><stop offset="0.1566" stop-color="#c0fa00"/><stop offset="0.1775" stop-color="#c1fa00"/><stop offset="0.2068" stop-color="#b3fe00"/><stop offset="0.2319" stop-color="#c1fa00"/><stop offset="0.2486" stop-color="#c5f900"/><stop offset="0.2904" stop-color="#d2f500"/><stop offset="0.3155" stop-color="#e4ee00"/><stop offset="0.3322" stop-color="#f0e800"/><stop offset="0.3573" stop-color="#f2e600"/><stop offset="0.3740" stop-color="#f6e200"/><stop offset="0.4117" stop-color="#f6e200"/><stop offset="0.4200" stop-color="#fbda00"/><stop offset="0.4430" stop-color="#fbda00"/><stop offset="0.4514" stop-color="#ffcb00"/><stop offset="0.4794" stop-color="#ffcb00"/><stop offset="0.4869" stop-color="#ffb700"/><stop offset="0.4903" stop-color="#ffad00"/><stop offset="0.4945" stop-color="#ffad00"/><stop offset="0.4995" stop-color="#ffa500"/><stop offset="0.5120" stop-color="#ffa600"/><stop offset="0.5170" stop-color="#ff9a00"/><stop offset="0.5212" stop-color="#ffa000"/><stop offset="0.5329" stop-color="#ff9a00"/><stop offset="0.5497" stop-color="#ff8400"/><stop offset="0.5601" stop-color="#ff6200"/><stop offset="0.5748" stop-color="#ff2700"/><stop offset="0.5915" stop-color="#f30000"/><stop offset="0.6584" stop-color="#f30000"/><stop offset="0.6667" stop-color="#ff2c00"/><stop offset="0.7086" stop-color="#ff5600"/><stop offset="0.7378" stop-color="#ff5600"/><stop offset="0.7504" stop-color="#ff6700"/><stop offset="0.7713" stop-color="#ff7100"/><stop offset="0.7746" stop-color="#ffab00"/><stop offset="0.8005" stop-color="#ffab00"/><stop offset="0.8089" stop-color="#ffae00"/><stop offset="0.8215" stop-color="#ffb100"/><stop offset="0.9720" stop-color="#ffb100"/><stop offset="0.9803" stop-color="#ffb500"/><stop offset="1.0000" stop-color="#ffb500"/></linearGradient><linearGradient id="g63" gradientUnits="userSpaceOnUse" x1="87.80" x2="2715.00" y1="0" y2="0"><stop offset="0.0000" stop-color="#b7fd00"/><stop offset="0.0270" stop-color="#98ff00"/><stop offset="0.0521" stop-color="#a3ff00"/><stop offset="0.0688" stop-color="#befb00"/><stop offset="0.1566" stop-color="#befb00"/><stop offset="0.1775" stop-color="#c0fa00"/><stop offset="0.2068" stop-color="#aeff00"/><stop offset="0.2319" stop-color="#c0fa00"/><stop offset="0.2486" stop-color="#c4f900"/><stop offset="0.2904" stop-color="#cff600"/><stop offset="0.3155" stop-color="#e0f000"/><stop offset="0.3322" stop-color="#ecea00"/><stop offset="0.3573" stop-color="#f0e800"/><stop offset="0.3740" stop-color="#f4e400"/><stop offset="0.4117" stop-color="#f4e400"/><stop offset="0.4200" stop-color="#f9de00"/><stop offset="0.4430" stop-color="#f9de00"/><stop offset="0.4514" stop-color="#ffd000"/><stop offset="0.4794" stop-color="#ffd000"/><stop offset="0.4869" stop-color="#ffbd00"/><stop offset="0.4903" stop-color="#ffb300"/><stop offset="0.4945" stop-color="#ffb300"/><stop offset="0.4995" stop-color="#ffab00"/><stop offset="0.5120" stop-color="#ffac00"/><stop offset="0.5170" stop-color="#ffa000"/><stop offset="0.5212" stop-color="#ffa500"/><stop offset="0.5329" stop-color="#ff9e00"/><stop offset="0.5497" stop-color="#ff9100"/><stop offset="0.5601" stop-color="#ff7700"/><stop offset="0.5748" stop-color="#ff5400"/><stop offset="0.5915" stop-color="#fb0000"/><stop offset="0.6584" stop-color="#fb0000"/><stop offset="0.6667" stop-color="#ff5400"/><stop offset="0.7086" stop-color="#ff6300"/><stop offset="0.7378" stop-color="#ff6300"/><stop offset="0.7504" stop-color="#ff7500"/><stop offset="0.7713" stop-color="#ff8200"/><stop offset="0.7746" stop-color="#ffb200"/><stop offset="0.8005" stop-color="#ffb200"/><stop offset="0.8089" stop-color="#ffb400"/><stop offset="0.8215" stop-color="#ffb900"/><stop offset="0.8340" stop-color="#ffb400"/><stop offset="0.9720" stop-color="#ffb400"/><stop offset="0.9803" stop-color="#ffb900"/><stop offset="1.0000" stop-color="#ffb900"/></linearGradient><linearGradient id="g64" gradientUnits="userSpaceOnUse" x1="87.80" x2="2715.00" y1="0" y2="0"><stop offset="0.0000" stop-color="#b1ff00"/><stop offset="0.0270" stop-color="#85ff00"/><stop offset="0.0521" stop-color="#92ff00"/><stop offset="0.0688" stop-color="#b9fc00"/><stop offset="0.1566" stop-color="#b9fc00"/><stop offset="0.1775" stop-color="#bdfb00"/><stop offset="0.2068" stop-color="#a6ff00"/><stop offset="0.2319" stop-color="#bdfb00"/><stop offset="0.2486" stop-color="#c1fa00"/><stop offset="0.2904" stop-color="#cbf700"/><stop offset="0.3155" stop-color="#daf200"/><stop offset="0.3322" stop-color="#e7ec00"/><stop offset="0.3573" stop-color="#ebea00"/><stop offset="0.3740" stop-color="#f1e700"/><stop offset="0.4117" stop-color="#f1e700"/><stop offset="0.4200" stop-color="#f7e100"/><stop offset="0.4430" stop-color="#f7e100"/><stop offset="0.4514" stop-color="#fdd400"/><stop offset="0.4794" stop-color="#fdd400"/><stop offset="0.4869" stop-color="#ffc500"/><stop offset="0.4903" stop-color="#ffbb00"/><stop offset="0.4945" stop-color="#ffbb00"/><stop offset="0.4995" stop-color="#ffb100"/><stop offset="0.5120" stop-color="#ffb100"/><stop offset="0.5170" stop-color="#ffa800"/><stop offset="0.5212" stop-color="#ffab00"/><stop offset="0.5329" stop-color="#ffa300"/><stop offset="0.5497" stop-color="#ff9a00"/><stop offset="0.5601" stop-color="#ff8d00"/><stop offset="0.5748" stop-color="#ff6f00"/><stop offset="0.5915" stop-color="#ff2100"/><stop offset="0.6584" stop-color="#ff2100"/><stop offset="0.6667" stop-color="#ff7600"/><stop offset="0.7086" stop-color="#ff9500"/><stop offset="0.7378" stop-color="#ff9500"/><stop offset="0.7504" stop-color="#ff8b00"/><stop offset="0.7713" stop-color="#ff9500"/><stop offset="0.7746" stop-color="#ffbb00"/><stop offset="0.8005" stop-color="#ffbb00"/><stop offset="0.8089" stop-color="#ffbc00"/><stop offset="0.8215" stop-color="#ffc100"/><stop offset="0.8340" stop-color="#ffbe00"/><stop offset="0.9720" stop-color="#ffbe00"/><stop offset="0.9803" stop-color="#ffc100"/><stop offset="1.0000" stop-color="#ffc100"/></linearGradient><linearGradient id="g65" gradientUnits="userSpaceOnUse" x1="87.80" x2="2715.00" y1="0" y2="0"><stop offset="0.0000" stop-color="#a0ff00"/><stop offset="0.0270" stop-color="#72ff00"/><stop offset="0.0521" stop-color="#80ff00"/><stop offset="0.0688" stop-color="#b5fe00"/><stop offset="0.1566" stop-color="#b5fe00"/><stop offset="0.1775" stop-color="#b7fd00"/><stop offset="0.2068" stop-color="#a1ff00"/><stop offset="0.2319" stop-color="#b7fd00"/><stop offset="0.2486" stop-color="#bcfb00"/><stop offset="0.2904" stop-color="#c5f900"/><stop offset="0.3155" stop-color="#d4f400"/><stop offset="0.3322" stop-color="#e1ef00"/><stop offset="0.3573" stop-color="#e5ed00"/><stop offset="0.3740" stop-color="#ede900"/><stop offset="0.4117" stop-color="#ede900"/><stop offset="0.4200" stop-color="#f5e300"/><stop offset="0.4430" stop-color="#f5e300"/><stop offset="0.4514" stop-color="#fbd900"/><stop offset="0.4794" stop-color="#fbd900"/><stop offset="0.4869" stop-color="#ffcb00"/><stop offset="0.4903" stop-color="#ffc500"/><stop offset="0.4945" stop-color="#ffc500"/><stop offset="0.4995" stop-color="#ffb900"/><stop offset="0.5120" stop-color="#ffb900"/><stop offset="0.5170" stop-color="#ffb100"/><stop offset="0.5212" stop-color="#ffb300"/><stop offset="0.5329" stop-color="#ffa800"/><stop offset="0.5497" stop-color="#ffa100"/><stop offset="0.5601" stop-color="#ff9b00"/><stop offset="0.5748" stop-color="#ff8a00"/><stop offset="0.5915" stop-color="#ff6800"/><stop offset="0.6584" stop-color="#ff6800"/><stop offset="0.6667" stop-color="#ff9d00"/><stop offset="0.7086" stop-color="#ffa000"/><stop offset="0.7378" stop-color="#ffa000"/><stop offset="0.7504" stop-color="#ff9c00"/><stop offset="0.7713" stop-color="#ff9d00"/><stop offset="0.7746" stop-color="#ffc200"/><stop offset="0.8005" stop-color="#ffc200"/><stop offset="0.8089" stop-color="#ffc300"/><stop offset="0.8215" stop-color="#ffc700"/><stop offset="0.8340" stop-color="#ffca00"/><stop offset="1.0000" stop-color="#ffca00"/></linearGradient><linearGradient id="g66" gradientUnits="userSpaceOnUse" x1="87.80" x2="2715.00" y1="0" y2="0"><stop offset="0.0000" stop-color="#8eff00"/><stop offset="0.0270" stop-color="#63ff00"/><stop offset="0.0521" stop-color="#71ff00"/><stop offset="0.0688" stop-color="#b0ff00"/><stop offset="0.1566" stop-color="#b0ff00"/><stop offset="0.1775" stop-color="#b1ff00"/><stop offset="0.2068" stop-color="#9dff00"/><stop offset="0.2319" stop-color="#b1ff00"/><stop offset="0.2486" stop-color="#b8fd00"/><stop offset="0.2904" stop-color="#c0fa00"/><stop offset="0.3155" stop-color="#cdf600"/><stop offset="0.3322" stop-color="#daf200"/><stop offset="0.3573" stop-color="#dff000"/><stop offset="0.3740" stop-color="#e7ec00"/><stop offset="0.4117" stop-color="#e7ec00"/><stop offset="0.4200" stop-color="#f3e500"/><stop offset="0.4430" stop-color="#f3e500"/><stop offset="0.4514" stop-color="#f9dd00"/><stop offset="0.4794" stop-color="#f9dd00"/><stop offset="0.4869" stop-color="#fed200"/><stop offset="0.4903" stop-color="#ffcb00"/><stop offset="0.4945" stop-color="#ffcb00"/><stop offset="0.4995" stop-color="#ffc200"/><stop offset="0.5120" stop-color="#ffc200"/><stop offset="0.5170" stop-color="#ffbc00"/><stop offset="0.5212" stop-color="#ffbe00"/><stop offset="0.5329" stop-color="#ffad00"/><stop offset="0.5497" stop-color="#ffa900"/><stop offset="0.5601" stop-color="#ffa100"/><stop offset="0.5748" stop-color="#ff9e00"/><stop offset="0.5915" stop-color="#ff9000"/><stop offset="0.6584" stop-color="#ff9000"/><stop offset="0.6667" stop-color="#ffa400"/><stop offset="0.7086" stop-color="#ffa500"/><stop offset="0.7378" stop-color="#ffa500"/><stop offset="0.7504" stop-color="#ffa400"/><stop offset="0.7713" stop-color="#ffa400"/><stop offset="0.7746" stop-color="#ffc600"/><stop offset="0.8005" stop-color="#ffc600"/><stop offset="0.8089" stop-color="#ffc800"/><stop offset="0.8215" stop-color="#ffcb00"/><stop offset="0.8340" stop-color="#fed200"/><stop offset="1.0000" stop-color="#fed200"/></linearGradient><linearGradient id="g67" gradientUnits="userSpaceOnUse" x1="87.80" x2="2715.00" y1="0" y2="0"><stop offset="0.0000" stop-color="#7fff00"/><stop offset="0.0270" stop-color="#56ff00"/><stop offset="0.0521" stop-color="#66ff00"/><stop offset="0.0688" stop-color="#9eff00"/><stop offset="0.1566" stop-color="#9eff00"/><stop offset="0.1775" stop-color="#a0ff00"/><stop offset="0.2068" stop-color="#98ff00"/><stop offset="0.2319" stop-color="#a0ff00"/><stop offset="0.2486" stop-color="#b3fe00"/><stop offset="0.2904" stop-color="#bbfc00"/><stop offset="0.3155" stop-color="#c6f900"/><stop offset="0.3322" stop-color="#d2f500"/><stop offset="0.3573" stop-color="#d7f300"/><stop offset="0.3740" stop-color="#e1ef00"/><stop offset="0.4117" stop-color="#e1ef00"/><stop offset="0.4200" stop-color="#f0e800"/><stop offset="0.4430" stop-color="#f0e800"/><stop offset="0.4514" stop-color="#f7e100"/><stop offset="0.4794" stop-color="#f7e100"/><stop offset="0.4869" stop-color="#fbd900"/><stop offset="0.4903" stop-color="#fed200"/><stop offset="0.4945" stop-color="#fed200"/><stop offset="0.4995" stop-color="#ffc800"/><stop offset="0.5120" stop-color="#ffc800"/><stop offset="0.5170" stop-color="#ffc700"/><stop offset="0.5212" stop-color="#ffc800"/><stop offset="0.5329" stop-color="#ffb300"/><stop offset="0.5497" stop-color="#ffb100"/><stop offset="0.5601" stop-color="#ffaa00"/><stop offset="0.5748" stop-color="#ffa900"/><stop offset="0.5915" stop-color="#ffa300"/><stop offset="0.6584" stop-color="#ffa300"/><stop offset="0.6667" stop-color="#ffad00"/><stop offset="0.7713" stop-color="#ffad00"/><stop offset="0.7746" stop-color="#ffca00"/><stop offset="0.8005" stop-color="#ffca00"/><stop offset="0.8089" stop-color="#ffcc00"/><stop offset="0.8215" stop-color="#ffd000"/><stop offset="0.8340" stop-color="#fbd900"/><stop offset="1.0000" stop-color="#fbd900"/></linearGradient><linearGradient id="g68" gradientUnits="userSpaceOnUse" x1="87.80" x2="2715.00" y1="0" y2="0"><stop offset="0.0000" stop-color="#76ff00"/><stop offset="0.0270" stop-color="#50ff00"/><stop offset="0.0521" stop-color="#60ff00"/><stop offset="0.0688" stop-color="#96ff00"/><stop offset="0.2319" stop-color="#96ff00"/><stop offset="0.2486" stop-color="#aeff00"/><stop offset="0.2904" stop-color="#b5fe00"/><stop offset="0.3155" stop-color="#bffb00"/><stop offset="0.3322" stop-color="#c9f800"/><stop offset="0.3573" stop-color="#cef600"/><stop offset="0.3740" stop-color="#d8f300"/><stop offset="0.4117" stop-color="#d8f300"/><stop offset="0.4200" stop-color="#eaeb00"/><stop offset="0.4430" stop-color="#eaeb00"/><stop offset="0.4514" stop-color="#f4e400"/><stop offset="0.4794" stop-color="#f4e400"/><stop offset="0.4869" stop-color="#f7e100"/><stop offset="0.4903" stop-color="#fadb00"/><stop offset="0.4945" stop-color="#fadb00"/><stop offset="0.4995" stop-color="#fdd400"/><stop offset="0.5212" stop-color="#fdd400"/><stop offset="0.5329" stop-color="#ffc600"/><stop offset="0.5497" stop-color="#ffc600"/><stop offset="0.5601" stop-color="#ffbe00"/><stop offset="0.5748" stop-color="#ffbb00"/><stop offset="0.5915" stop-color="#ffb600"/><stop offset="0.6584" stop-color="#ffb600"/><stop offset="0.6667" stop-color="#ffc000"/><stop offset="0.7378" stop-color="#ffc000"/><stop offset="0.7504" stop-color="#ffbd00"/><stop offset="0.7713" stop-color="#ffbd00"/><stop offset="0.7746" stop-color="#ffd000"/><stop offset="0.8005" stop-color="#ffd000"/><stop offset="0.8089" stop-color="#fdd500"/><stop offset="0.8215" stop-color="#fbd800"/><stop offset="0.8340" stop-color="#f6e200"/><stop offset="1.0000" stop-color="#f6e200"/></linearGradient><linearGradient id="g69" gradientUnits="userSpaceOnUse" x1="87.80" x2="2715.00" y1="0" y2="0"><stop offset="0.0000" stop-color="#72ff00"/><stop offset="0.0270" stop-color="#50ff00"/><stop offset="0.0521" stop-color="#60ff00"/><stop offset="0.0688" stop-color="#96ff00"/><stop offset="0.2319" stop-color="#96ff00"/><stop offset="0.2486" stop-color="#a3ff00"/><stop offset="0.2904" stop-color="#a9ff00"/><stop offset="0.3155" stop-color="#b8fd00"/><stop offset="0.3322" stop-color="#c0fa00"/><stop offset="0.3573" stop-color="#c4f900"/><stop offset="0.3740" stop-color="#cdf600"/><stop offset="0.4117" stop-color="#cdf600"/><stop offset="0.4200" stop-color="#e0f000"/><stop offset="0.4430" stop-color="#e0f000"/><stop offset="0.4514" stop-color="#eee900"/><stop offset="0.4794" stop-color="#eee900"/><stop offset="0.4869" stop-color="#f3e500"/><stop offset="0.4903" stop-color="#f5e300"/><stop offset="0.4945" stop-color="#f5e300"/><stop offset="0.4995" stop-color="#f7e100"/><stop offset="0.5212" stop-color="#f7e100"/><stop offset="0.5329" stop-color="#fcd700"/><stop offset="0.5497" stop-color="#fcd700"/><stop offset="0.5601" stop-color="#ffd000"/><stop offset="0.5748" stop-color="#ffcd00"/><stop offset="0.5915" stop-color="#ffcb00"/><stop offset="0.6584" stop-color="#ffcb00"/><stop offset="0.6667" stop-color="#ffcf00"/><stop offset="0.7086" stop-color="#fed200"/><stop offset="0.7378" stop-color="#fed200"/><stop offset="0.7504" stop-color="#ffcd00"/><stop offset="0.7713" stop-color="#ffcd00"/><stop offset="0.7746" stop-color="#fadb00"/><stop offset="0.8005" stop-color="#fadb00"/><stop offset="0.8089" stop-color="#f8e000"/><stop offset="0.8215" stop-color="#f6e200"/><stop offset="0.8340" stop-color="#f1e700"/><stop offset="1.0000" stop-color="#f1e700"/></linearGradient><linearGradient id="g70" gradientUnits="userSpaceOnUse" x1="87.80" x2="2715.00" y1="0" y2="0"><stop offset="0.0000" stop-color="#6bff00"/><stop offset="0.0270" stop-color="#52ff00"/><stop offset="0.0521" stop-color="#5fff00"/><stop offset="0.0688" stop-color="#89ff00"/><stop offset="0.1566" stop-color="#89ff00"/><stop offset="0.1775" stop-color="#8bff00"/><stop offset="0.2319" stop-color="#8bff00"/><stop offset="0.2486" stop-color="#93ff00"/><stop offset="0.2904" stop-color="#92ff00"/><stop offset="0.3155" stop-color="#b1ff00"/><stop offset="0.3322" stop-color="#b7fd00"/><stop offset="0.3573" stop-color="#bafc00"/><stop offset="0.3740" stop-color="#c3fa00"/><stop offset="0.4117" stop-color="#c3fa00"/><stop offset="0.4200" stop-color="#d4f400"/><stop offset="0.4430" stop-color="#d4f400"/><stop offset="0.4514" stop-color="#e4ee00"/><stop offset="0.4794" stop-color="#e4ee00"/><stop offset="0.4869" stop-color="#ecea00"/><stop offset="0.4903" stop-color="#f0e800"/><stop offset="0.4945" stop-color="#f0e800"/><stop offset="0.4995" stop-color="#f2e600"/><stop offset="0.5212" stop-color="#f2e600"/><stop offset="0.5329" stop-color="#f7e100"/><stop offset="0.5497" stop-color="#f7e100"/><stop offset="0.5601" stop-color="#fadb00"/><stop offset="0.5748" stop-color="#fcd700"/><stop offset="0.5915" stop-color="#fdd400"/><stop offset="0.6584" stop-color="#fdd400"/><stop offset="0.6667" stop-color="#fcd700"/><stop offset="0.7086" stop-color="#fbd900"/><stop offset="0.7378" stop-color="#fbd900"/><stop offset="0.7504" stop-color="#fcd700"/><stop offset="0.7713" stop-color="#fcd700"/><stop offset="0.7746" stop-color="#f7e100"/><stop offset="0.8005" stop-color="#f7e100"/><stop offset="0.8089" stop-color="#f3e500"/><stop offset="0.8215" stop-color="#f1e700"/><stop offset="0.8340" stop-color="#e7ec00"/><stop offset="1.0000" stop-color="#e7ec00"/></linearGradient><linearGradient id="g71" gradientUnits="userSpaceOnUse" x1="87.80" x2="2715.00" y1="0" y2="0"><stop offset="0.0000" stop-color="#61ff00"/><stop offset="0.0270" stop-color="#56ff00"/><stop offset="0.0521" stop-color="#5cff00"/><stop offset="0.0688" stop-color="#71ff00"/><stop offset="0.1566" stop-color="#71ff00"/><stop offset="0.1775" stop-color="#76ff00"/><stop offset="0.2319" stop-color="#76ff00"/><stop offset="0.2486" stop-color="#80ff00"/><stop offset="0.2904" stop-color="#7bff00"/><stop offset="0.3155" stop-color="#98ff00"/><stop offset="0.3322" stop-color="#abff00"/><stop offset="0.3573" stop-color="#b3fe00"/><stop offset="0.3740" stop-color="#bcfb00"/><stop offset="0.4117" stop-color="#bcfb00"/><stop offset="0.4200" stop-color="#cbf700"/><stop offset="0.4430" stop-color="#cbf700"/><stop offset="0.4514" stop-color="#daf200"/><stop offset="0.4794" stop-color="#daf200"/><stop offset="0.4869" stop-color="#e3ee00"/><stop offset="0.4903" stop-color="#e7ec00"/><stop offset="0.4945" stop-color="#e7ec00"/><stop offset="0.4995" stop-color="#ebea00"/><stop offset="0.5212" stop-color="#ebea00"/><stop offset="0.5329" stop-color="#f3e500"/><stop offset="0.5497" stop-color="#f3e500"/><stop offset="0.5601" stop-color="#f6e200"/><stop offset="0.5748" stop-color="#f8e000"/><stop offset="0.5915" stop-color="#fadc00"/><stop offset="0.6584" stop-color="#fadc00"/><stop offset="0.6667" stop-color="#f9de00"/><stop offset="0.7086" stop-color="#f8df00"/><stop offset="0.7378" stop-color="#f8df00"/><stop offset="0.7504" stop-color="#f8e000"/><stop offset="0.7713" stop-color="#f8e000"/><stop offset="0.7746" stop-color="#f4e400"/><stop offset="0.8005" stop-color="#f4e400"/><stop offset="0.8089" stop-color="#f0e800"/><stop offset="0.8215" stop-color="#eaeb00"/><stop offset="0.8340" stop-color="#def100"/><stop offset="1.0000" stop-color="#def100"/></linearGradient><linearGradient id="g72" gradientUnits="userSpaceOnUse" x1="87.80" x2="2715.00" y1="0" y2="0"><stop offset="0.0000" stop-color="#60ff00"/><stop offset="0.0521" stop-color="#60ff00"/><stop offset="0.0688" stop-color="#66ff00"/><stop offset="0.1566" stop-color="#66ff00"/><stop offset="0.1775" stop-color="#6cff00"/><stop offset="0.2319" stop-color="#6cff00"/><stop offset="0.2486" stop-color="#76ff00"/><stop offset="0.2904" stop-color="#6fff00"/><stop offset="0.3155" stop-color="#78ff00"/><stop offset="0.3322" stop-color="#8aff00"/><stop offset="0.3573" stop-color="#a8ff00"/><stop offset="0.3740" stop-color="#bafc00"/><stop offset="0.4117" stop-color="#bafc00"/><stop offset="0.4200" stop-color="#c5f900"/><stop offset="0.4430" stop-color="#c5f900"/><stop offset="0.4514" stop-color="#d2f500"/><stop offset="0.4794" stop-color="#d2f500"/><stop offset="0.4869" stop-color="#dcf100"/><stop offset="0.4903" stop-color="#e0f000"/><stop offset="0.4945" stop-color="#e0f000"/><stop offset="0.4995" stop-color="#e5ed00"/><stop offset="0.5212" stop-color="#e5ed00"/><stop offset="0.5329" stop-color="#f0e800"/><stop offset="0.5497" stop-color="#f0e800"/><stop offset="0.5601" stop-color="#f3e500"/><stop offset="0.5748" stop-color="#f5e300"/><stop offset="0.5915" stop-color="#f8e000"/><stop offset="0.6584" stop-color="#f8e000"/><stop offset="0.6667" stop-color="#f7e100"/><stop offset="0.7086" stop-color="#f6e200"/><stop offset="0.7378" stop-color="#f6e200"/><stop offset="0.7504" stop-color="#f5e300"/><stop offset="0.7713" stop-color="#f5e300"/><stop offset="0.7746" stop-color="#f1e700"/><stop offset="0.8005" stop-color="#f1e700"/><stop offset="0.8089" stop-color="#eaeb00"/><stop offset="0.8215" stop-color="#e2ef00"/><stop offset="0.8340" stop-color="#d3f400"/><stop offset="1.0000" stop-color="#d3f400"/></linearGradient><linearGradient id="g73" gradientUnits="userSpaceOnUse" x1="87.80" x2="2715.00" y1="0" y2="0"><stop offset="0.0000" stop-color="#83ff00"/><stop offset="0.0521" stop-color="#83ff00"/><stop offset="0.0688" stop-color="#8aff00"/><stop offset="0.1566" stop-color="#8aff00"/><stop offset="0.1775" stop-color="#8dff00"/><stop offset="0.2319" stop-color="#8dff00"/><stop offset="0.2486" stop-color="#95ff00"/><stop offset="0.2904" stop-color="#8eff00"/><stop offset="0.3155" stop-color="#8bff00"/><stop offset="0.3322" stop-color="#9eff00"/><stop offset="0.3573" stop-color="#b1ff00"/><stop offset="0.3740" stop-color="#b9fc00"/><stop offset="0.4117" stop-color="#b9fc00"/><stop offset="0.4200" stop-color="#c3fa00"/><stop offset="0.4430" stop-color="#c3fa00"/><stop offset="0.4514" stop-color="#cdf600"/><stop offset="0.4794" stop-color="#cdf600"/><stop offset="0.4869" stop-color="#d7f300"/><stop offset="0.4903" stop-color="#daf200"/><stop offset="0.4945" stop-color="#daf200"/><stop offset="0.4995" stop-color="#e1ef00"/><stop offset="0.5212" stop-color="#e1ef00"/><stop offset="0.5329" stop-color="#ebea00"/><stop offset="0.5497" stop-color="#ebea00"/><stop offset="0.5601" stop-color="#f0e800"/><stop offset="0.5748" stop-color="#f2e600"/><stop offset="0.5915" stop-color="#f5e300"/><stop offset="0.6667" stop-color="#f5e300"/><stop offset="0.7086" stop-color="#f4e400"/><stop offset="0.7378" stop-color="#f4e400"/><stop offset="0.7504" stop-color="#f2e600"/><stop offset="0.7713" stop-color="#f2e600"/><stop offset="0.7746" stop-color="#ecea00"/><stop offset="0.8005" stop-color="#ecea00"/><stop offset="0.8089" stop-color="#e5ee00"/><stop offset="0.8215" stop-color="#dcf100"/><stop offset="0.8340" stop-color="#cdf600"/><stop offset="1.0000" stop-color="#cdf600"/></linearGradient><linearGradient id="g74" gradientUnits="userSpaceOnUse" x1="87.80" x2="2715.00" y1="0" y2="0"><stop offset="0.0000" stop-color="#96ff00"/><stop offset="0.0521" stop-color="#96ff00"/><stop offset="0.0688" stop-color="#9dff00"/><stop offset="0.2319" stop-color="#9dff00"/><stop offset="0.2486" stop-color="#a5ff00"/><stop offset="0.2904" stop-color="#9cff00"/><stop offset="0.3155" stop-color="#9fff00"/><stop offset="0.3322" stop-color="#b0ff00"/><stop offset="0.3573" stop-color="#b4fe00"/><stop offset="0.3740" stop-color="#b9fc00"/><stop offset="0.4117" stop-color="#b9fc00"/><stop offset="0.4200" stop-color="#c3fa00"/><stop offset="0.4430" stop-color="#c3fa00"/><stop offset="0.4514" stop-color="#ccf700"/><stop offset="0.4794" stop-color="#ccf700"/><stop offset="0.4869" stop-color="#d5f400"/><stop offset="0.4903" stop-color="#d7f300"/><stop offset="0.4945" stop-color="#d7f300"/><stop offset="0.4995" stop-color="#def100"/><stop offset="0.5212" stop-color="#def100"/><stop offset="0.5329" stop-color="#e8ec00"/><stop offset="0.5497" stop-color="#e8ec00"/><stop offset="0.5601" stop-color="#edea00"/><stop offset="0.5748" stop-color="#f0e800"/><stop offset="0.5915" stop-color="#f4e400"/><stop offset="0.6584" stop-color="#f4e400"/><stop offset="0.6667" stop-color="#f3e500"/><stop offset="0.7086" stop-color="#f2e600"/><stop offset="0.7378" stop-color="#f2e600"/><stop offset="0.7504" stop-color="#f0e800"/><stop offset="0.7713" stop-color="#f0e800"/><stop offset="0.7746" stop-color="#e8ec00"/><stop offset="0.8005" stop-color="#e8ec00"/><stop offset="0.8089" stop-color="#e2ef00"/><stop offset="0.8215" stop-color="#d9f200"/><stop offset="0.8340" stop-color="#cbf700"/><stop offset="1.0000" stop-color="#cbf700"/></linearGradient><linearGradient id="g75" gradientUnits="userSpaceOnUse" x1="87.80" x2="2715.00" y1="0" y2="0"><stop offset="0.0000" stop-color="#96ff00"/><stop offset="0.0521" stop-color="#96ff00"/><stop offset="0.0688" stop-color="#9dff00"/><stop offset="0.2319" stop-color="#9dff00"/><stop offset="0.2486" stop-color="#a5ff00"/><stop offset="0.2904" stop-color="#99ff00"/><stop offset="0.3155" stop-color="#a7ff00"/><stop offset="0.3322" stop-color="#b2fe00"/><stop offset="0.3573" stop-color="#b5fe00"/><stop offset="0.3740" stop-color="#bafc00"/><stop offset="0.4117" stop-color="#bafc00"/><stop offset="0.4200" stop-color="#c3fa00"/><stop offset="0.4430" stop-color="#c3fa00"/><stop offset="0.4514" stop-color="#cbf700"/><stop offset="0.4794" stop-color="#cbf700"/><stop offset="0.4869" stop-color="#d3f400"/><stop offset="0.4903" stop-color="#d5f400"/><stop offset="0.4945" stop-color="#d5f400"/><stop offset="0.4995" stop-color="#dbf200"/><stop offset="0.5212" stop-color="#dbf200"/><stop offset="0.5329" stop-color="#e6ed00"/><stop offset="0.5497" stop-color="#e6ed00"/><stop offset="0.5601" stop-color="#e9eb00"/><stop offset="0.5748" stop-color="#ecea00"/><stop offset="0.5915" stop-color="#f2e600"/><stop offset="0.6584" stop-color="#f2e600"/><stop offset="0.6667" stop-color="#f1e700"/><stop offset="0.7086" stop-color="#f0e800"/><stop offset="0.7378" stop-color="#f0e800"/><stop offset="0.7504" stop-color="#ecea00"/><stop offset="0.7713" stop-color="#ecea00"/><stop offset="0.7746" stop-color="#e4ee00"/><stop offset="0.8005" stop-color="#e4ee00"/><stop offset="0.8089" stop-color="#def100"/><stop offset="0.8215" stop-color="#d6f300"/><stop offset="0.8340" stop-color="#caf700"/><stop offset="1.0000" stop-color="#caf700"/></linearGradient><linearGradient id="g76" gradientUnits="userSpaceOnUse" x1="87.80" x2="2715.00" y1="0" y2="0"><stop offset="0.0000" stop-color="#96ff00"/><stop offset="0.0521" stop-color="#96ff00"/><stop offset="0.0688" stop-color="#9dff00"/><stop offset="0.2319" stop-color="#9dff00"/><stop offset="0.2486" stop-color="#a5ff00"/><stop offset="0.2904" stop-color="#97ff00"/><stop offset="0.3155" stop-color="#a3ff00"/><stop offset="0.3322" stop-color="#b1ff00"/><stop offset="0.3573" stop-color="#b4fe00"/><stop offset="0.3740" stop-color="#bbfc00"/><stop offset="0.4117" stop-color="#bbfc00"/><stop offset="0.4200" stop-color="#c3fa00"/><stop offset="0.4430" stop-color="#c3fa00"/><stop offset="0.4514" stop-color="#caf700"/><stop offset="0.4794" stop-color="#caf700"/><stop offset="0.4869" stop-color="#d1f500"/><stop offset="0.4903" stop-color="#d2f500"/><stop offset="0.4945" stop-color="#d2f500"/><stop offset="0.4995" stop-color="#d8f300"/><stop offset="0.5212" stop-color="#d8f300"/><stop offset="0.5329" stop-color="#e3ef00"/><stop offset="0.5497" stop-color="#e3ef00"/><stop offset="0.5601" stop-color="#e6ed00"/><stop offset="0.5748" stop-color="#e8ec00"/><stop offset="0.5915" stop-color="#f0e800"/><stop offset="0.6584" stop-color="#f0e800"/><stop offset="0.6667" stop-color="#eee900"/><stop offset="0.7086" stop-color="#ecea00"/><stop offset="0.7378" stop-color="#ecea00"/><stop offset="0.7504" stop-color="#e8ec00"/><stop offset="0.7713" stop-color="#e8ec00"/><stop offset="0.7746" stop-color="#e0f000"/><stop offset="0.8005" stop-color="#e0f000"/><stop offset="0.8089" stop-color="#d9f200"/><stop offset="0.8215" stop-color="#d2f500"/><stop offset="0.8340" stop-color="#c8f800"/><stop offset="1.0000" stop-color="#c8f800"/></linearGradient><linearGradient id="g77" gradientUnits="userSpaceOnUse" x1="87.80" x2="2715.00" y1="0" y2="0"><stop offset="0.0000" stop-color="#91ff00"/><stop offset="0.0521" stop-color="#91ff00"/><stop offset="0.0688" stop-color="#97ff00"/><stop offset="0.1566" stop-color="#97ff00"/><stop offset="0.1775" stop-color="#98ff00"/><stop offset="0.2319" stop-color="#98ff00"/><stop offset="0.2486" stop-color="#9dff00"/><stop offset="0.2904" stop-color="#8fff00"/><stop offset="0.3155" stop-color="#9fff00"/><stop offset="0.3322" stop-color="#acff00"/><stop offset="0.3573" stop-color="#b3fe00"/><stop offset="0.3740" stop-color="#bbfc00"/><stop offset="0.4117" stop-color="#bbfc00"/><stop offset="0.4200" stop-color="#c3fa00"/><stop offset="0.4430" stop-color="#c3fa00"/><stop offset="0.4514" stop-color="#c9f800"/><stop offset="0.4794" stop-color="#c9f800"/><stop offset="0.4869" stop-color="#cff600"/><stop offset="0.4945" stop-color="#cff600"/><stop offset="0.4995" stop-color="#d5f400"/><stop offset="0.5212" stop-color="#d5f400"/><stop offset="0.5329" stop-color="#e0f000"/><stop offset="0.5497" stop-color="#e0f000"/><stop offset="0.5601" stop-color="#e2ef00"/><stop offset="0.5748" stop-color="#e4ee00"/><stop offset="0.5915" stop-color="#ecea00"/><stop offset="0.6584" stop-color="#ecea00"/><stop offset="0.6667" stop-color="#eaeb00"/><stop offset="0.7086" stop-color="#e8ec00"/><stop offset="0.7378" stop-color="#e8ec00"/><stop offset="0.7504" stop-color="#e4ee00"/><stop offset="0.7713" stop-color="#e4ee00"/><stop offset="0.7746" stop-color="#dbf200"/><stop offset="0.8005" stop-color="#dbf200"/><stop offset="0.8089" stop-color="#d5f400"/><stop offset="0.8215" stop-color="#cff600"/><stop offset="0.8340" stop-color="#c7f800"/><stop offset="1.0000" stop-color="#c7f800"/></linearGradient><linearGradient id="g78" gradientUnits="userSpaceOnUse" x1="87.80" x2="2715.00" y1="0" y2="0"><stop offset="0.0000" stop-color="#87ff00"/><stop offset="0.0521" stop-color="#87ff00"/><stop offset="0.0688" stop-color="#8aff00"/><stop offset="0.1566" stop-color="#8aff00"/><stop offset="0.1775" stop-color="#8cff00"/><stop offset="0.2319" stop-color="#8cff00"/><stop offset="0.2486" stop-color="#8eff00"/><stop offset="0.2904" stop-color="#83ff00"/><stop offset="0.3155" stop-color="#94ff00"/><stop offset="0.3322" stop-color="#9eff00"/><stop offset="0.3573" stop-color="#b1ff00"/><stop offset="0.3740" stop-color="#b9fc00"/><stop offset="0.4117" stop-color="#b9fc00"/><stop offset="0.4200" stop-color="#c0fa00"/><stop offset="0.4430" stop-color="#c0fa00"/><stop offset="0.4514" stop-color="#c5f900"/><stop offset="0.4794" stop-color="#c5f900"/><stop offset="0.4869" stop-color="#cdf600"/><stop offset="0.4945" stop-color="#cdf600"/><stop offset="0.4995" stop-color="#d2f500"/><stop offset="0.5212" stop-color="#d2f500"/><stop offset="0.5329" stop-color="#ddf100"/><stop offset="0.5497" stop-color="#ddf100"/><stop offset="0.5601" stop-color="#dff000"/><stop offset="0.5748" stop-color="#e2ef00"/><stop offset="0.5915" stop-color="#e9eb00"/><stop offset="0.6584" stop-color="#e9eb00"/><stop offset="0.6667" stop-color="#e5ed00"/><stop offset="0.7086" stop-color="#e3ee00"/><stop offset="0.7378" stop-color="#e3ee00"/><stop offset="0.7504" stop-color="#e0f000"/><stop offset="0.7713" stop-color="#e0f000"/><stop offset="0.7746" stop-color="#d5f400"/><stop offset="0.8005" stop-color="#d5f400"/><stop offset="0.8089" stop-color="#d0f500"/><stop offset="0.8215" stop-color="#cbf700"/><stop offset="0.8340" stop-color="#c4f900"/><stop offset="1.0000" stop-color="#c4f900"/></linearGradient><linearGradient id="g79" gradientUnits="userSpaceOnUse" x1="87.80" x2="2715.00" y1="0" y2="0"><stop offset="0.0000" stop-color="#7dff00"/><stop offset="0.0521" stop-color="#7dff00"/><stop offset="0.0688" stop-color="#7eff00"/><stop offset="0.1566" stop-color="#7eff00"/><stop offset="0.1775" stop-color="#81ff00"/><stop offset="0.2319" stop-color="#81ff00"/><stop offset="0.2486" stop-color="#7fff00"/><stop offset="0.2904" stop-color="#76ff00"/><stop offset="0.3155" stop-color="#81ff00"/><stop offset="0.3322" stop-color="#89ff00"/><stop offset="0.3573" stop-color="#9fff00"/><stop offset="0.3740" stop-color="#b4fe00"/><stop offset="0.4117" stop-color="#b4fe00"/><stop offset="0.4200" stop-color="#bbfc00"/><stop offset="0.4430" stop-color="#bbfc00"/><stop offset="0.4514" stop-color="#c0fa00"/><stop offset="0.4794" stop-color="#c0fa00"/><stop offset="0.4869" stop-color="#ccf700"/><stop offset="0.4945" stop-color="#ccf700"/><stop offset="0.4995" stop-color="#d1f500"/><stop offset="0.5212" stop-color="#d1f500"/><stop offset="0.5329" stop-color="#dbf200"/><stop offset="0.5497" stop-color="#dbf200"/><stop offset="0.5601" stop-color="#ddf100"/><stop offset="0.5748" stop-color="#e0f000"/><stop offset="0.5915" stop-color="#e7ed00"/><stop offset="0.6584" stop-color="#e7ed00"/><stop offset="0.6667" stop-color="#dff000"/><stop offset="0.7086" stop-color="#dbf200"/><stop offset="0.7378" stop-color="#dbf200"/><stop offset="0.7504" stop-color="#d8f300"/><stop offset="0.7713" stop-color="#d8f300"/><stop offset="0.7746" stop-color="#cdf600"/><stop offset="0.8005" stop-color="#cdf600"/><stop offset="0.8089" stop-color="#c9f800"/><stop offset="0.8215" stop-color="#c5f900"/><stop offset="0.8340" stop-color="#c1fa00"/><stop offset="1.0000" stop-color="#c1fa00"/></linearGradient><linearGradient id="g80" gradientUnits="userSpaceOnUse" x1="87.80" x2="2715.00" y1="0" y2="0"><stop offset="0.0000" stop-color="#80ff00"/><stop offset="0.1566" stop-color="#80ff00"/><stop offset="0.1775" stop-color="#83ff00"/><stop offset="0.2319" stop-color="#83ff00"/><stop offset="0.2486" stop-color="#82ff00"/><stop offset="0.2904" stop-color="#7bff00"/><stop offset="0.3155" stop-color="#83ff00"/><stop offset="0.3322" stop-color="#89ff00"/><stop offset="0.3573" stop-color="#9dff00"/><stop offset="0.3740" stop-color="#b3fe00"/><stop offset="0.4117" stop-color="#b3fe00"/><stop offset="0.4200" stop-color="#b9fc00"/><stop offset="0.4430" stop-color="#b9fc00"/><stop offset="0.4514" stop-color="#befb00"/><stop offset="0.4794" stop-color="#befb00"/><stop offset="0.4869" stop-color="#cbf700"/><stop offset="0.4945" stop-color="#cbf700"/><stop offset="0.4995" stop-color="#d0f500"/><stop offset="0.5212" stop-color="#d0f500"/><stop offset="0.5329" stop-color="#d8f300"/><stop offset="0.5497" stop-color="#d8f300"/><stop offset="0.5601" stop-color="#dbf200"/><stop offset="0.5748" stop-color="#def100"/><stop offset="0.5915" stop-color="#e4ee00"/><stop offset="0.6584" stop-color="#e4ee00"/><stop offset="0.6667" stop-color="#d7f300"/><stop offset="0.7086" stop-color="#d2f500"/><stop offset="0.7378" stop-color="#d2f500"/><stop offset="0.7504" stop-color="#d1f500"/><stop offset="0.7713" stop-color="#d1f500"/><stop offset="0.7746" stop-color="#c6f900"/><stop offset="0.8005" stop-color="#c6f900"/><stop offset="0.8089" stop-color="#c3fa00"/><stop offset="0.8215" stop-color="#c0fa00"/><stop offset="0.8340" stop-color="#bdfb00"/><stop offset="1.0000" stop-color="#bdfb00"/></linearGradient><linearGradient id="g81" gradientUnits="userSpaceOnUse" x1="87.80" x2="2715.00" y1="0" y2="0"><stop offset="0.0000" stop-color="#90ff00"/><stop offset="0.1566" stop-color="#90ff00"/><stop offset="0.1775" stop-color="#92ff00"/><stop offset="0.2319" stop-color="#92ff00"/><stop offset="0.2486" stop-color="#96ff00"/><stop offset="0.2904" stop-color="#92ff00"/><stop offset="0.3155" stop-color="#99ff00"/><stop offset="0.3322" stop-color="#9dff00"/><stop offset="0.3573" stop-color="#acff00"/><stop offset="0.3740" stop-color="#b6fd00"/><stop offset="0.4117" stop-color="#b6fd00"/><stop offset="0.4200" stop-color="#bbfc00"/><stop offset="0.4430" stop-color="#bbfc00"/><stop offset="0.4514" stop-color="#c0fa00"/><stop offset="0.4794" stop-color="#c0fa00"/><stop offset="0.4869" stop-color="#caf700"/><stop offset="0.4945" stop-color="#caf700"/><stop offset="0.4995" stop-color="#cff600"/><stop offset="0.5212" stop-color="#cff600"/><stop offset="0.5329" stop-color="#d6f300"/><stop offset="0.5497" stop-color="#d6f300"/><stop offset="0.5601" stop-color="#d8f300"/><stop offset="0.5748" stop-color="#dcf100"/><stop offset="0.5915" stop-color="#e2ef00"/><stop offset="0.6584" stop-color="#e2ef00"/><stop offset="0.6667" stop-color="#d4f400"/><stop offset="0.7086" stop-color="#cff600"/><stop offset="0.7378" stop-color="#cff600"/><stop offset="0.7504" stop-color="#cef600"/><stop offset="0.7713" stop-color="#cef600"/><stop offset="0.7746" stop-color="#c5f900"/><stop offset="0.8005" stop-color="#c5f900"/><stop offset="0.8089" stop-color="#c1fa00"/><stop offset="0.8215" stop-color="#bffb00"/><stop offset="0.8340" stop-color="#bdfb00"/><stop offset="1.0000" stop-color="#bdfb00"/></linearGradient><linearGradient id="g82" gradientUnits="userSpaceOnUse" x1="87.80" x2="2715.00" y1="0" y2="0"><stop offset="0.0000" stop-color="#a0ff00"/><stop offset="0.1566" stop-color="#a0ff00"/><stop offset="0.1775" stop-color="#a1ff00"/><stop offset="0.2319" stop-color="#a1ff00"/><stop offset="0.2486" stop-color="#aaff00"/><stop offset="0.2904" stop-color="#a8ff00"/><stop offset="0.3155" stop-color="#b0ff00"/><stop offset="0.3322" stop-color="#b0ff00"/><stop offset="0.3573" stop-color="#b3fe00"/><stop offset="0.3740" stop-color="#bafc00"/><stop offset="0.4117" stop-color="#bafc00"/><stop offset="0.4200" stop-color="#bdfb00"/><stop offset="0.4430" stop-color="#bdfb00"/><stop offset="0.4514" stop-color="#c2fa00"/><stop offset="0.4794" stop-color="#c2fa00"/><stop offset="0.4869" stop-color="#c9f800"/><stop offset="0.4945" stop-color="#c9f800"/><stop offset="0.4995" stop-color="#cef600"/><stop offset="0.5212" stop-color="#cef600"/><stop offset="0.5329" stop-color="#d4f400"/><stop offset="0.5497" stop-color="#d4f400"/><stop offset="0.5601" stop-color="#d6f300"/><stop offset="0.5748" stop-color="#d9f200"/><stop offset="0.5915" stop-color="#dff000"/><stop offset="0.6584" stop-color="#dff000"/><stop offset="0.6667" stop-color="#d7f300"/><stop offset="0.7086" stop-color="#d3f400"/><stop offset="0.7378" stop-color="#d3f400"/><stop offset="0.7504" stop-color="#d0f500"/><stop offset="0.7713" stop-color="#d0f500"/><stop offset="0.7746" stop-color="#c8f800"/><stop offset="0.8005" stop-color="#c8f800"/><stop offset="0.8089" stop-color="#c5f900"/><stop offset="0.8215" stop-color="#c3fa00"/><stop offset="0.8340" stop-color="#bffb00"/><stop offset="1.0000" stop-color="#bffb00"/></linearGradient><linearGradient id="g83" gradientUnits="userSpaceOnUse" x1="87.80" x2="2715.00" y1="0" y2="0"><stop offset="0.0000" stop-color="#b0ff00"/><stop offset="0.2319" stop-color="#b0ff00"/><stop offset="0.2486" stop-color="#b3fe00"/><stop offset="0.2904" stop-color="#b3fe00"/><stop offset="0.3155" stop-color="#b5fe00"/><stop offset="0.3322" stop-color="#b5fe00"/><stop offset="0.3573" stop-color="#b7fd00"/><stop offset="0.3740" stop-color="#bcfb00"/><stop offset="0.4117" stop-color="#bcfb00"/><stop offset="0.4200" stop-color="#befb00"/><stop offset="0.4430" stop-color="#befb00"/><stop offset="0.4514" stop-color="#c3f900"/><stop offset="0.4794" stop-color="#c3f900"/><stop offset="0.4869" stop-color="#c9f800"/><stop offset="0.4945" stop-color="#c9f800"/><stop offset="0.4995" stop-color="#cef600"/><stop offset="0.5212" stop-color="#cef600"/><stop offset="0.5329" stop-color="#d3f400"/><stop offset="0.5497" stop-color="#d3f400"/><stop offset="0.5601" stop-color="#d6f300"/><stop offset="0.5748" stop-color="#d9f200"/><stop offset="0.5915" stop-color="#def100"/><stop offset="0.6584" stop-color="#def100"/><stop offset="0.6667" stop-color="#daf200"/><stop offset="0.7086" stop-color="#d7f300"/><stop offset="0.7378" stop-color="#d7f300"/><stop offset="0.7504" stop-color="#d2f500"/><stop offset="0.7713" stop-color="#d2f500"/><stop offset="0.7746" stop-color="#ccf700"/><stop offset="0.8005" stop-color="#ccf700"/><stop offset="0.8089" stop-color="#c8f800"/><stop offset="0.8215" stop-color="#c6f900"/><stop offset="0.8340" stop-color="#c2fa00"/><stop offset="1.0000" stop-color="#c2fa00"/></linearGradient><linearGradient id="g84" gradientUnits="userSpaceOnUse" x1="87.80" x2="2715.00" y1="0" y2="0"><stop offset="0.0000" stop-color="#b5fe00"/><stop offset="0.2319" stop-color="#b5fe00"/><stop offset="0.2486" stop-color="#b7fd00"/><stop offset="0.2904" stop-color="#b7fd00"/><stop offset="0.3155" stop-color="#b8fd00"/><stop offset="0.3322" stop-color="#b8fd00"/><stop offset="0.3573" stop-color="#bafc00"/><stop offset="0.3740" stop-color="#befb00"/><stop offset="0.4117" stop-color="#befb00"/><stop offset="0.4200" stop-color="#bffb00"/><stop offset="0.4430" stop-color="#bffb00"/><stop offset="0.4514" stop-color="#c4f900"/><stop offset="0.4794" stop-color="#c4f900"/><stop offset="0.4869" stop-color="#caf700"/><stop offset="0.4945" stop-color="#caf700"/><stop offset="0.4995" stop-color="#cef600"/><stop offset="0.5212" stop-color="#cef600"/><stop offset="0.5329" stop-color="#d4f400"/><stop offset="0.5497" stop-color="#d4f400"/><stop offset="0.5601" stop-color="#d7f300"/><stop offset="0.5748" stop-color="#daf200"/><stop offset="0.5915" stop-color="#dff000"/><stop offset="0.6584" stop-color="#dff000"/><stop offset="0.6667" stop-color="#ddf100"/><stop offset="0.7086" stop-color="#daf200"/><stop offset="0.7378" stop-color="#daf200"/><stop offset="0.7504" stop-color="#d4f400"/><stop offset="0.7713" stop-color="#d4f400"/><stop offset="0.7746" stop-color="#cff600"/><stop offset="0.8005" stop-color="#cff600"/><stop offset="0.8089" stop-color="#ccf700"/><stop offset="0.8215" stop-color="#c9f800"/><stop offset="0.8340" stop-color="#c5f900"/><stop offset="1.0000" stop-color="#c5f900"/></linearGradient><linearGradient id="g85" gradientUnits="userSpaceOnUse" x1="87.80" x2="2715.00" y1="0" y2="0"><stop offset="0.0000" stop-color="#b9fc00"/><stop offset="0.2319" stop-color="#b9fc00"/><stop offset="0.2486" stop-color="#bbfc00"/><stop offset="0.2904" stop-color="#bbfc00"/><stop offset="0.3155" stop-color="#bcfc00"/><stop offset="0.3322" stop-color="#bcfc00"/><stop offset="0.3573" stop-color="#bdfb00"/><stop offset="0.3740" stop-color="#bffb00"/><stop offset="0.4117" stop-color="#bffb00"/><stop offset="0.4200" stop-color="#c0fa00"/><stop offset="0.4430" stop-color="#c0fa00"/><stop offset="0.4514" stop-color="#c5f900"/><stop offset="0.4794" stop-color="#c5f900"/><stop offset="0.4869" stop-color="#cbf700"/><stop offset="0.4945" stop-color="#cbf700"/><stop offset="0.4995" stop-color="#cff600"/><stop offset="0.5212" stop-color="#cff600"/><stop offset="0.5329" stop-color="#d5f400"/><stop offset="0.5497" stop-color="#d5f400"/><stop offset="0.5601" stop-color="#d8f300"/><stop offset="0.5748" stop-color="#dbf200"/><stop offset="0.5915" stop-color="#e0f000"/><stop offset="0.6584" stop-color="#e0f000"/><stop offset="0.6667" stop-color="#def000"/><stop offset="0.7086" stop-color="#dcf100"/><stop offset="0.7378" stop-color="#dcf100"/><stop offset="0.7504" stop-color="#d7f300"/><stop offset="0.7713" stop-color="#d7f300"/><stop offset="0.7746" stop-color="#d2f500"/><stop offset="0.8005" stop-color="#d2f500"/><stop offset="0.8089" stop-color="#cef600"/><stop offset="0.8215" stop-color="#ccf700"/><stop offset="0.8340" stop-color="#c9f800"/><stop offset="1.0000" stop-color="#c9f800"/></linearGradient><linearGradient id="g86" gradientUnits="userSpaceOnUse" x1="87.80" x2="2715.00" y1="0" y2="0"><stop offset="0.0000" stop-color="#befb00"/><stop offset="0.2319" stop-color="#befb00"/><stop offset="0.2486" stop-color="#bffb00"/><stop offset="0.2904" stop-color="#bffb00"/><stop offset="0.3155" stop-color="#c0fa00"/><stop offset="0.3573" stop-color="#c0fa00"/><stop offset="0.3740" stop-color="#c1fa00"/><stop offset="0.4430" stop-color="#c1fa00"/><stop offset="0.4514" stop-color="#c6f800"/><stop offset="0.4794" stop-color="#c6f800"/><stop offset="0.4869" stop-color="#ccf700"/><stop offset="0.4945" stop-color="#ccf700"/><stop offset="0.4995" stop-color="#d0f500"/><stop offset="0.5212" stop-color="#d0f500"/><stop offset="0.5329" stop-color="#d6f300"/><stop offset="0.5497" stop-color="#d6f300"/><stop offset="0.5601" stop-color="#daf200"/><stop offset="0.5748" stop-color="#dcf100"/><stop offset="0.5915" stop-color="#e1ef00"/><stop offset="0.6584" stop-color="#e1ef00"/><stop offset="0.6667" stop-color="#e0f000"/><stop offset="0.7086" stop-color="#dff000"/><stop offset="0.7378" stop-color="#dff000"/><stop offset="0.7504" stop-color="#daf200"/><stop offset="0.7713" stop-color="#daf200"/><stop offset="0.7746" stop-color="#d4f400"/><stop offset="0.8005" stop-color="#d4f400"/><stop offset="0.8089" stop-color="#d1f500"/><stop offset="0.8215" stop-color="#cff600"/><stop offset="0.8340" stop-color="#cdf600"/><stop offset="1.0000" stop-color="#cdf600"/></linearGradient><linearGradient id="g87" gradientUnits="userSpaceOnUse" x1="87.80" x2="2715.00" y1="0" y2="0"><stop offset="0.0000" stop-color="#c3fa00"/><stop offset="0.2319" stop-color="#c3fa00"/><stop offset="0.2486" stop-color="#c3f900"/><stop offset="0.3573" stop-color="#c3f900"/><stop offset="0.3740" stop-color="#c2fa00"/><stop offset="0.4430" stop-color="#c2fa00"/><stop offset="0.4514" stop-color="#c7f800"/><stop offset="0.4794" stop-color="#c7f800"/><stop offset="0.4869" stop-color="#cdf600"/><stop offset="0.4945" stop-color="#cdf600"/><stop offset="0.4995" stop-color="#d0f500"/><stop offset="0.5212" stop-color="#d0f500"/><stop offset="0.5329" stop-color="#d7f300"/><stop offset="0.5497" stop-color="#d7f300"/><stop offset="0.5601" stop-color="#dbf200"/><stop offset="0.5748" stop-color="#ddf100"/><stop offset="0.5915" stop-color="#e2ef00"/><stop offset="0.6667" stop-color="#e2ef00"/><stop offset="0.7086" stop-color="#e1ef00"/><stop offset="0.7378" stop-color="#e1ef00"/><stop offset="0.7504" stop-color="#dcf100"/><stop offset="0.7713" stop-color="#dcf100"/><stop offset="0.7746" stop-color="#d7f300"/><stop offset="0.8005" stop-color="#d7f300"/><stop offset="0.8089" stop-color="#d4f400"/><stop offset="0.8215" stop-color="#d2f500"/><stop offset="0.8340" stop-color="#d1f500"/><stop offset="1.0000" stop-color="#d1f500"/></linearGradient><linearGradient id="g88" gradientUnits="userSpaceOnUse" x1="87.80" x2="2715.00" y1="0" y2="0"><stop offset="0.0000" stop-color="#cdf600"/><stop offset="0.3322" stop-color="#cdf600"/><stop offset="0.4159" stop-color="#cff600"/><stop offset="0.4995" stop-color="#d8f300"/><stop offset="0.5831" stop-color="#e4ee00"/><stop offset="0.6249" stop-color="#e5ee00"/><stop offset="0.6667" stop-color="#e6ed00"/><stop offset="0.7504" stop-color="#e3ee00"/><stop offset="0.8340" stop-color="#daf200"/><stop offset="0.9176" stop-color="#d9f200"/><stop offset="1.0000" stop-color="#d8f300"/></linearGradient><linearGradient id="g89" gradientUnits="userSpaceOnUse" x1="87.80" x2="2715.00" y1="0" y2="0"><stop offset="0.0000" stop-color="#d6f300"/><stop offset="0.3322" stop-color="#d6f300"/><stop offset="0.4159" stop-color="#d8f300"/><stop offset="0.4995" stop-color="#e0f000"/><stop offset="0.5831" stop-color="#eaeb00"/><stop offset="0.6249" stop-color="#ebeb00"/><stop offset="0.6667" stop-color="#ebea00"/><stop offset="0.7504" stop-color="#e9ec00"/><stop offset="0.8340" stop-color="#e1ef00"/><stop offset="0.9176" stop-color="#e0f000"/><stop offset="1.0000" stop-color="#e0f000"/></linearGradient><linearGradient id="g90" gradientUnits="userSpaceOnUse" x1="87.80" x2="2715.00" y1="0" y2="0"><stop offset="0.0000" stop-color="#def100"/><stop offset="0.3322" stop-color="#def100"/><stop offset="0.4159" stop-color="#dff000"/><stop offset="0.4995" stop-color="#e5ed00"/><stop offset="0.5831" stop-color="#efe800"/><stop offset="0.6249" stop-color="#f0e800"/><stop offset="0.6667" stop-color="#f0e800"/><stop offset="0.7504" stop-color="#eee900"/><stop offset="0.8340" stop-color="#e6ed00"/><stop offset="0.9176" stop-color="#e6ed00"/><stop offset="1.0000" stop-color="#e5ed00"/></linearGradient><linearGradient id="g91" gradientUnits="userSpaceOnUse" x1="87.80" x2="2715.00" y1="0" y2="0"><stop offset="0.0000" stop-color="#e4ee00"/><stop offset="0.3322" stop-color="#e4ee00"/><stop offset="0.4159" stop-color="#e5ed00"/><stop offset="0.4995" stop-color="#ebeb00"/><stop offset="0.5831" stop-color="#f2e600"/><stop offset="0.6249" stop-color="#f3e500"/><stop offset="0.6667" stop-color="#f2e600"/><stop offset="0.7504" stop-color="#f1e700"/><stop offset="0.8340" stop-color="#ecea00"/><stop offset="0.9176" stop-color="#ebea00"/><stop offset="1.0000" stop-color="#ebeb00"/></linearGradient><linearGradient id="g92" gradientUnits="userSpaceOnUse" x1="87.80" x2="2715.00" y1="0" y2="0"><stop offset="0.0000" stop-color="#eaeb00"/><stop offset="0.3322" stop-color="#eaeb00"/><stop offset="0.4159" stop-color="#ebeb00"/><stop offset="0.4995" stop-color="#f0e800"/><stop offset="0.5831" stop-color="#f4e400"/><stop offset="0.6249" stop-color="#f5e300"/><stop offset="0.6667" stop-color="#f4e400"/><stop offset="0.7504" stop-color="#f3e500"/><stop offset="0.8340" stop-color="#f0e800"/><stop offset="1.0000" stop-color="#f0e800"/></linearGradient><linearGradient id="g93" gradientUnits="userSpaceOnUse" x1="87.80" x2="2715.00" y1="0" y2="0"><stop offset="0.0000" stop-color="#efe800"/><stop offset="0.3322" stop-color="#efe800"/><stop offset="0.4159" stop-color="#f0e800"/><stop offset="0.4995" stop-color="#f2e600"/><stop offset="0.5831" stop-color="#f6e200"/><stop offset="0.6249" stop-color="#f7e100"/><stop offset="0.6667" stop-color="#f6e200"/><stop offset="0.7504" stop-color="#f5e300"/><stop offset="0.8340" stop-color="#f2e600"/><stop offset="1.0000" stop-color="#f2e600"/></linearGradient><linearGradient id="g94" gradientUnits="userSpaceOnUse" x1="87.80" x2="2715.00" y1="0" y2="0"><stop offset="0.0000" stop-color="#f2e600"/><stop offset="0.4159" stop-color="#f2e600"/><stop offset="0.4995" stop-color="#f4e400"/><stop offset="0.5831" stop-color="#f9df00"/><stop offset="0.6249" stop-color="#f9dd00"/><stop offset="0.6667" stop-color="#f8e000"/><stop offset="0.7504" stop-color="#f7e100"/><stop offset="0.8340" stop-color="#f4e400"/><stop offset="1.0000" stop-color="#f4e400"/></linearGradient><linearGradient id="g95" gradientUnits="userSpaceOnUse" x1="87.80" x2="2715.00" y1="0" y2="0"><stop offset="0.0000" stop-color="#f4e400"/><stop offset="0.4159" stop-color="#f4e400"/><stop offset="0.4995" stop-color="#f6e200"/><stop offset="0.5831" stop-color="#fada00"/><stop offset="0.6249" stop-color="#fbd900"/><stop offset="0.6667" stop-color="#fadc00"/><stop offset="0.7504" stop-color="#f9de00"/><stop offset="0.8340" stop-color="#f6e200"/><stop offset="1.0000" stop-color="#f6e200"/></linearGradient><linearGradient id="g96" gradientUnits="userSpaceOnUse" x1="87.80" x2="2715.00" y1="0" y2="0"><stop offset="0.0000" stop-color="#f6e200"/><stop offset="0.3322" stop-color="#f6e200"/><stop offset="0.4159" stop-color="#f7e100"/><stop offset="0.4995" stop-color="#f8df00"/><stop offset="0.5831" stop-color="#fcd600"/><stop offset="0.6249" stop-color="#fdd500"/><stop offset="0.6667" stop-color="#fcd800"/><stop offset="0.7504" stop-color="#fbda00"/><stop offset="0.8340" stop-color="#f8df00"/><stop offset="1.0000" stop-color="#f8df00"/></linearGradient><linearGradient id="g97" gradientUnits="userSpaceOnUse" x1="87.80" x2="2715.00" y1="0" y2="0"><stop offset="0.0000" stop-color="#f9df00"/><stop offset="0.4159" stop-color="#f9df00"/><stop offset="0.4995" stop-color="#fadb00"/><stop offset="0.5831" stop-color="#fed200"/><stop offset="0.6249" stop-color="#ffd100"/><stop offset="0.6667" stop-color="#fdd400"/><stop offset="0.7504" stop-color="#fcd600"/><stop offset="0.8340" stop-color="#fadb00"/><stop offset="1.0000" stop-color="#fadb00"/></linearGradient><linearGradient id="g98" gradientUnits="userSpaceOnUse" x1="87.80" x2="2715.00" y1="0" y2="0"><stop offset="0.0000" stop-color="#fbd900"/><stop offset="0.3322" stop-color="#fcd700"/><stop offset="0.4995" stop-color="#fdd600"/><stop offset="0.6667" stop-color="#fed200"/><stop offset="0.7086" stop-color="#ffd000"/><stop offset="1.0000" stop-color="#ffd000"/></linearGradient><linearGradient id="g99" gradientUnits="userSpaceOnUse" x1="87.80" x2="2715.00" y1="0" y2="0"><stop offset="0.0000" stop-color="#ffd000"/><stop offset="0.3322" stop-color="#ffcf00"/><stop offset="0.4995" stop-color="#ffcd00"/><stop offset="0.6667" stop-color="#ffc900"/><stop offset="0.7086" stop-color="#ffc800"/><stop offset="1.0000" stop-color="#ffc800"/></linearGradient><linearGradient id="g100" gradientUnits="userSpaceOnUse" x1="87.80" x2="2715.00" y1="0" y2="0"><stop offset="0.0000" stop-color="#ffc200"/><stop offset="0.3322" stop-color="#ffc400"/><stop offset="0.6667" stop-color="#ffc000"/><stop offset="0.7086" stop-color="#ffbc00"/><stop offset="1.0000" stop-color="#ffbc00"/></linearGradient><linearGradient id="g101" gradientUnits="userSpaceOnUse" x1="87.80" x2="2715.00" y1="0" y2="0"><stop offset="0.0000" stop-color="#ffb600"/><stop offset="0.6667" stop-color="#ffb600"/><stop offset="0.7086" stop-color="#ffb200"/><stop offset="1.0000" stop-color="#ffb200"/></linearGradient><linearGradient id="g102" gradientUnits="userSpaceOnUse" x1="87.80" x2="2715.00" y1="0" y2="0"><stop offset="0.0000" stop-color="#ffab00"/><stop offset="0.6667" stop-color="#ffab00"/><stop offset="0.7086" stop-color="#ffa700"/><stop offset="1.0000" stop-color="#ffa700"/></linearGradient><linearGradient id="g103" gradientUnits="userSpaceOnUse" x1="87.80" x2="2715.00" y1="0" y2="0"><stop offset="0.0000" stop-color="#ffa400"/><stop offset="0.4577" stop-color="#ffa400"/><stop offset="0.5413" stop-color="#ff9d00"/><stop offset="1.0000" stop-color="#ff9b00"/></linearGradient><linearGradient id="g104" gradientUnits="userSpaceOnUse" x1="87.80" x2="2715.00" y1="0" y2="0"><stop offset="0.0000" stop-color="#ff8000"/><stop offset="0.3322" stop-color="#ff8000"/><stop offset="0.3950" stop-color="#ff7600"/><stop offset="0.4995" stop-color="#ff7100"/><stop offset="0.5413" stop-color="#ff6600"/><stop offset="0.6040" stop-color="#ff5f00"/><stop offset="0.6375" stop-color="#ff6600"/><stop offset="0.6667" stop-color="#ff5f00"/><stop offset="1.0000" stop-color="#ff5f00"/></linearGradient><linearGradient id="g105" gradientUnits="userSpaceOnUse" x1="87.80" x2="2715.00" y1="0" y2="0"><stop offset="0.0000" stop-color="#ffa100"/><stop offset="0.5413" stop-color="#ffa100"/><stop offset="0.5831" stop-color="#ff9800"/><stop offset="0.6667" stop-color="#ff8800"/><stop offset="0.7721" stop-color="#ff8500"/><stop offset="0.7746" stop-color="#ff7800"/><stop offset="0.9176" stop-color="#ff7800"/><stop offset="0.9385" stop-color="#ff8000"/><stop offset="1.0000" stop-color="#ff8000"/></linearGradient><linearGradient id="g106" gradientUnits="userSpaceOnUse" x1="87.80" x2="2715.00" y1="0" y2="0"><stop offset="0.0000" stop-color="#ffa100"/><stop offset="0.5413" stop-color="#ffa100"/><stop offset="0.5706" stop-color="#ff9a00"/><stop offset="0.6667" stop-color="#ff9a00"/><stop offset="1.0000" stop-color="#ff9800"/></linearGradient><linearGradient id="g107" gradientUnits="userSpaceOnUse" x1="87.80" x2="2715.00" y1="0" y2="0"><stop offset="0.0000" stop-color="#ff9e00"/><stop offset="0.4995" stop-color="#ff9d00"/><stop offset="0.5580" stop-color="#ff9a00"/><stop offset="0.5706" stop-color="#ff8800"/><stop offset="0.6249" stop-color="#ff8300"/><stop offset="0.6667" stop-color="#ff7300"/><stop offset="0.7721" stop-color="#ff7300"/><stop offset="0.7746" stop-color="#ff6200"/><stop offset="0.9176" stop-color="#ff5f00"/><stop offset="1.0000" stop-color="#ff5c00"/></linearGradient><linearGradient id="g108" gradientUnits="userSpaceOnUse" x1="87.80" x2="2715.00" y1="0" y2="0"><stop offset="0.0000" stop-color="#ff9d00"/><stop offset="0.0395" stop-color="#ff9a00"/><stop offset="0.0563" stop-color="#ff9e00"/><stop offset="0.4159" stop-color="#ff9e00"/><stop offset="0.4995" stop-color="#ff9a00"/><stop offset="0.5831" stop-color="#ff8d00"/><stop offset="0.6667" stop-color="#ff8000"/><stop offset="0.7086" stop-color="#ff7600"/><stop offset="0.7721" stop-color="#ff7600"/><stop offset="0.7746" stop-color="#ff6400"/><stop offset="0.8340" stop-color="#ff5500"/><stop offset="0.9176" stop-color="#ff5200"/><stop offset="0.9594" stop-color="#ff5700"/><stop offset="1.0000" stop-color="#ff5700"/></linearGradient><linearGradient id="g109" gradientUnits="userSpaceOnUse" x1="87.80" x2="2715.00" y1="0" y2="0"><stop offset="0.0000" stop-color="#ffa200"/><stop offset="0.4159" stop-color="#ffa200"/><stop offset="0.4995" stop-color="#ff9e00"/><stop offset="0.5831" stop-color="#ff9a00"/><stop offset="0.6667" stop-color="#ff8d00"/><stop offset="0.7086" stop-color="#ff7800"/><stop offset="0.7721" stop-color="#ff7800"/><stop offset="0.7746" stop-color="#ff6600"/><stop offset="0.8340" stop-color="#ff5700"/><stop offset="0.9176" stop-color="#ff5500"/><stop offset="0.9594" stop-color="#ff5c00"/><stop offset="1.0000" stop-color="#ff5c00"/></linearGradient><linearGradient id="g110" gradientUnits="userSpaceOnUse" x1="87.80" x2="2715.00" y1="0" y2="0"><stop offset="0.0000" stop-color="#ffc500"/><stop offset="0.4995" stop-color="#ffc500"/><stop offset="0.5831" stop-color="#ffbc00"/><stop offset="0.6667" stop-color="#ffae00"/><stop offset="0.7086" stop-color="#ffa000"/><stop offset="0.7721" stop-color="#ffa000"/><stop offset="0.7746" stop-color="#ff9800"/><stop offset="0.8340" stop-color="#ff8300"/><stop offset="0.9176" stop-color="#ff8000"/><stop offset="0.9594" stop-color="#ff8800"/><stop offset="1.0000" stop-color="#ff8800"/></linearGradient><linearGradient id="g111" gradientUnits="userSpaceOnUse" x1="87.80" x2="2715.00" y1="0" y2="0"><stop offset="0.0000" stop-color="#f6e200"/><stop offset="0.4995" stop-color="#f6e200"/><stop offset="0.5831" stop-color="#fadd00"/><stop offset="0.6667" stop-color="#ffcd00"/><stop offset="0.7086" stop-color="#ffc000"/><stop offset="0.7721" stop-color="#ffc000"/><stop offset="0.7746" stop-color="#ffb200"/><stop offset="0.8340" stop-color="#ffa100"/><stop offset="0.9176" stop-color="#ffa000"/><stop offset="0.9594" stop-color="#ffa700"/><stop offset="1.0000" stop-color="#ffa700"/></linearGradient><linearGradient id="g112" gradientUnits="userSpaceOnUse" x1="87.80" x2="2715.00" y1="0" y2="0"><stop offset="0.0000" stop-color="#d3f400"/><stop offset="0.4159" stop-color="#d3f400"/><stop offset="0.4995" stop-color="#d8f300"/><stop offset="0.5831" stop-color="#eaeb00"/><stop offset="0.6249" stop-color="#f3e500"/><stop offset="0.6667" stop-color="#fbd900"/><stop offset="0.7086" stop-color="#fed200"/><stop offset="0.7922" stop-color="#fed200"/><stop offset="0.8340" stop-color="#ffc900"/><stop offset="0.9176" stop-color="#ffc800"/><stop offset="0.9594" stop-color="#ffcb00"/><stop offset="1.0000" stop-color="#ffcb00"/></linearGradient><linearGradient id="g113" gradientUnits="userSpaceOnUse" x1="87.80" x2="2715.00" y1="0" y2="0"><stop offset="0.0000" stop-color="#23fd00"/><stop offset="0.3322" stop-color="#1afc00"/><stop offset="0.4995" stop-color="#1ffc00"/><stop offset="0.5831" stop-color="#2cfe00"/><stop offset="0.6249" stop-color="#6aff00"/><stop offset="0.6667" stop-color="#a8ff00"/><stop offset="0.7086" stop-color="#b8fd00"/><stop offset="0.7721" stop-color="#befb00"/><stop offset="0.7746" stop-color="#d8f300"/><stop offset="0.8340" stop-color="#eee900"/><stop offset="1.0000" stop-color="#f1e700"/></linearGradient><linearGradient id="g114" gradientUnits="userSpaceOnUse" x1="87.80" x2="2715.00" y1="0" y2="0"><stop offset="0.0000" stop-color="#00b200"/><stop offset="0.4577" stop-color="#00b200"/><stop offset="0.4995" stop-color="#00b600"/><stop offset="0.5831" stop-color="#00c500"/><stop offset="0.6667" stop-color="#00cc00"/><stop offset="0.7721" stop-color="#00d100"/><stop offset="0.7746" stop-color="#00eb00"/><stop offset="0.8131" stop-color="#00f200"/><stop offset="0.8340" stop-color="#30ff00"/><stop offset="0.9176" stop-color="#40ff00"/><stop offset="0.9385" stop-color="#1afc00"/><stop offset="0.9594" stop-color="#04f900"/><stop offset="1.0000" stop-color="#00ee00"/></linearGradient><linearGradient id="g115" gradientUnits="userSpaceOnUse" x1="87.80" x2="2715.00" y1="0" y2="0"><stop offset="0.0000" stop-color="#00a09b"/><stop offset="0.4577" stop-color="#00a09b"/><stop offset="0.4995" stop-color="#019f88"/><stop offset="0.5413" stop-color="#039d6f"/><stop offset="0.5831" stop-color="#059b59"/><stop offset="0.6124" stop-color="#079939"/><stop offset="0.6375" stop-color="#02980a"/><stop offset="0.7721" stop-color="#009900"/><stop offset="0.7746" stop-color="#00af00"/><stop offset="0.8340" stop-color="#00b900"/><stop offset="1.0000" stop-color="#00be00"/></linearGradient><linearGradient id="g116" gradientUnits="userSpaceOnUse" x1="87.80" x2="2715.00" y1="0" y2="0"><stop offset="0.0000" stop-color="#0086dc"/><stop offset="0.4995" stop-color="#0086dc"/><stop offset="0.5413" stop-color="#008adc"/><stop offset="0.6040" stop-color="#0092da"/><stop offset="0.6249" stop-color="#0296d8"/><stop offset="0.6375" stop-color="#0399c1"/><stop offset="0.6667" stop-color="#00a0ab"/><stop offset="0.7721" stop-color="#00a0a6"/><stop offset="0.7746" stop-color="#00a09b"/><stop offset="0.8131" stop-color="#049c69"/><stop offset="0.8424" stop-color="#079943"/><stop offset="0.8967" stop-color="#079939"/><stop offset="0.9176" stop-color="#049c69"/><stop offset="1.0000" stop-color="#029e82"/></linearGradient>
<linearGradient id="cb" x1="0" x2="0" y1="0" y2="1"><stop offset="0.0000" stop-color="#000000"/><stop offset="0.0083" stop-color="#000000"/><stop offset="0.0083" stop-color="#00001c"/><stop offset="0.0167" stop-color="#00001c"/><stop offset="0.0167" stop-color="#22221a"/><stop offset="0.0250" stop-color="#22221a"/><stop offset="0.0250" stop-color="#1a0080"/><stop offset="0.0283" stop-color="#1a0080"/><stop offset="0.0283" stop-color="#4b0078"/><stop offset="0.0475" stop-color="#4b0078"/><stop offset="0.0475" stop-color="#800080"/><stop offset="0.1175" stop-color="#800080"/><stop offset="0.1175" stop-color="#4b0078"/><stop offset="0.1342" stop-color="#4b0078"/><stop offset="0.1342" stop-color="#0000c8"/><stop offset="0.2192" stop-color="#0000c8"/><stop offset="0.2192" stop-color="#1020b0"/><stop offset="0.2233" stop-color="#1020b0"/><stop offset="0.2233" stop-color="#1060c0"/><stop offset="0.2350" stop-color="#1060c0"/><stop offset="0.2350" stop-color="#0078e0"/><stop offset="0.3150" stop-color="#0098d8"/><stop offset="0.3233" stop-color="#0890d8"/><stop offset="0.3292" stop-color="#00a0b0"/><stop offset="0.3333" stop-color="#00a0a8"/><stop offset="0.4042" stop-color="#00a098"/><stop offset="0.4317" stop-color="#089830"/><stop offset="0.4525" stop-color="#009800"/><stop offset="0.5000" stop-color="#00b400"/><stop offset="0.5208" stop-color="#00c000"/><stop offset="0.5625" stop-color="#00d800"/><stop offset="0.5983" stop-color="#00f800"/><stop offset="0.6167" stop-color="#30ff00"/><stop offset="0.6333" stop-color="#70ff00"/><stop offset="0.6475" stop-color="#b0ff00"/><stop offset="0.6667" stop-color="#c8f800"/><stop offset="0.6850" stop-color="#e0f000"/><stop offset="0.7017" stop-color="#f0e800"/><stop offset="0.7208" stop-color="#f8e000"/><stop offset="0.7400" stop-color="#ffd000"/><stop offset="0.7550" stop-color="#ffc400"/><stop offset="0.7683" stop-color="#ffb400"/><stop offset="0.7917" stop-color="#ffa000"/><stop offset="0.8000" stop-color="#ff9800"/><stop offset="0.8100" stop-color="#ff7800"/><stop offset="0.8233" stop-color="#ff5000"/><stop offset="0.8333" stop-color="#ff2800"/><stop offset="0.8450" stop-color="#ff0000"/><stop offset="0.9200" stop-color="#d80000"/><stop offset="0.9333" stop-color="#d80000"/><stop offset="0.9333" stop-color="#c80000"/><stop offset="0.9525" stop-color="#c80000"/><stop offset="0.9525" stop-color="#c83808"/><stop offset="0.9650" stop-color="#c83808"/><stop offset="0.9650" stop-color="#c06010"/><stop offset="0.9692" stop-color="#c06010"/><stop offset="0.9692" stop-color="#908058"/><stop offset="0.9733" stop-color="#908058"/><stop offset="0.9733" stop-color="#a89880"/><stop offset="0.9842" stop-color="#a89880"/><stop offset="0.9842" stop-color="#c0b4b4"/><stop offset="0.9967" stop-color="#c0b4b4"/><stop offset="0.9967" stop-color="#c8c8c8"/><stop offset="1.0000" stop-color="#c8c8c8"/></linearGradient>
<clipPath id="cl"><rect x="87.80" y="30.50" width="2616.22" height="727.90"/><rect x="2706.22" y="30.50" width="8.79" height="727.90"/></clipPath>
</defs>
<rect width="3015" height="824" fill="#fff"/>
<g clip-path="url(#cl)" shape-rendering="crispEdges"><rect x="87.80" y="757.19" width="2627.21" height="1.21" fill="url(#g0)"/><rect x="87.80" y="756.28" width="2627.21" height="1.21" fill="url(#g1)"/><rect x="87.80" y="755.37" width="2627.21" height="1.21" fill="url(#g2)"/><rect x="87.80" y="754.46" width="2627.21" height="1.21" fill="url(#g3)"/><rect x="87.80" y="753.55" width="2627.21" height="1.21" fill="url(#g4)"/><rect x="87.80" y="752.64" width="2627.21" height="1.21" fill="url(#g5)"/><rect x="87.80" y="751.73" width="2627.21" height="1.21" fill="url(#g6)"/><rect x="87.80" y="750.82" width="2627.21" height="1.21" fill="url(#g7)"/><rect x="87.80" y="749.91" width="2627.21" height="1.21" fill="url(#g8)"/><rect x="87.80" y="749.00" width="2627.21" height="1.21" fill="url(#g9)"/><rect x="87.80" y="748.09" width="2627.21" height="1.21" fill="url(#g10)"/><rect x="87.80" y="747.18" width="2627.21" height="1.21" fill="url(#g11)"/><rect x="87.80" y="746.27" width="2627.21" height="1.21" fill="url(#g12)"/><rect x="87.80" y="745.36" width="2627.21" height="1.21" fill="url(#g13)"/><rect x="87.80" y="744.45" width="2627.21" height="1.21" fill="url(#g14)"/><rect x="87.80" y="743.54" width="2627.21" height="1.21" fill="url(#g15)"/><rect x="87.80" y="741.72" width="2627.21" height="2.12" fill="url(#g16)"/><rect x="87.80" y="739.90" width="2627.21" height="2.12" fill="url(#g17)"/><rect x="87.80" y="738.08" width="2627.21" height="2.12" fill="url(#g18)"/><rect x="87.80" y="736.26" width="2627.21" height="2.12" fill="url(#g19)"/><rect x="87.80" y="734.44" width="2627.21" height="2.12" fill="url(#g20)"/><rect x="87.80" y="732.62" width="2627.21" height="2.12" fill="url(#g21)"/><rect x="87.80" y="730.80" width="2627.21" height="2.12" fill="url(#g22)"/><rect x="87.80" y="728.98" width="2627.21" height="2.12" fill="url(#g23)"/><rect x="87.80" y="727.16" width="2627.21" height="2.12" fill="url(#g24)"/><rect x="87.80" y="725.34" width="2627.21" height="2.12" fill="url(#g25)"/><rect x="87.80" y="723.52" width="2627.21" height="2.12" fill="url(#g26)"/><rect x="87.80" y="721.71" width="2627.21" height="2.12" fill="url(#g27)"/><rect x="87.80" y="719.89" width="2627.21" height="2.12" fill="url(#g28)"/><rect x="87.80" y="718.07" width="2627.21" height="2.12" fill="url(#g29)"/><rect x="87.80" y="716.25" width="2627.21" height="2.12" fill="url(#g30)"/><rect x="87.80" y="714.43" width="2627.21" height="2.12" fill="url(#g31)"/><rect x="87.80" y="712.61" width="2627.21" height="2.12" fill="url(#g32)"/><rect x="87.80" y="710.79" width="2627.21" height="2.12" fill="url(#g33)"/><rect x="87.80" y="708.97" width="2627.21" height="2.12" fill="url(#g34)"/><rect x="87.80" y="707.15" width="2627.21" height="2.12" fill="url(#g35)"/><rect x="87.80" y="705.33" width="2627.21" height="2.12" fill="url(#g36)"/><rect x="87.80" y="703.51" width="2627.21" height="2.12" fill="url(#g37)"/><rect x="87.80" y="701.69" width="2627.21" height="2.12" fill="url(#g38)"/><rect x="87.80" y="699.87" width="2627.21" height="2.12" fill="url(#g39)"/><rect x="87.80" y="698.05" width="2627.21" height="2.12" fill="url(#g40)"/><rect x="87.80" y="696.23" width="2627.21" height="2.12" fill="url(#g41)"/><rect x="87.80" y="694.41" width="2627.21" height="2.12" fill="url(#g42)"/><rect x="87.80" y="692.59" width="2627.21" height="2.12" fill="url(#g43)"/><rect x="87.80" y="690.77" width="2627.21" height="2.12" fill="url(#g44)"/><rect x="87.80" y="688.95" width="2627.21" height="2.12" fill="url(#g45)"/><rect x="87.80" y="687.13" width="2627.21" height="2.12" fill="url(#g46)"/><rect x="87.80" y="685.31" width="2627.21" height="2.12" fill="url(#g47)"/><rect x="87.80" y="681.67" width="2627.21" height="3.94" fill="url(#g48)"/><rect x="87.80" y="678.03" width="2627.21" height="3.94" fill="url(#g49)"/><rect x="87.80" y="674.39" width="2627.21" height="3.94" fill="url(#g50)"/><rect x="87.80" y="670.75" width="2627.21" height="3.94" fill="url(#g51)"/><rect x="87.80" y="667.11" width="2627.21" height="3.94" fill="url(#g52)"/><rect x="87.80" y="663.47" width="2627.21" height="3.94" fill="url(#g53)"/><rect x="87.80" y="659.83" width="2627.21" height="3.94" fill="url(#g54)"/><rect x="87.80" y="656.19" width="2627.21" height="3.94" fill="url(#g55)"/><rect x="87.80" y="652.55" width="2627.21" height="3.94" fill="url(#g56)"/><rect x="87.80" y="648.92" width="2627.21" height="3.94" fill="url(#g57)"/><rect x="87.80" y="645.28" width="2627.21" height="3.94" fill="url(#g58)"/><rect x="87.80" y="641.64" width="2627.21" height="3.94" fill="url(#g59)"/><rect x="87.80" y="638.00" width="2627.21" height="3.94" fill="url(#g60)"/><rect x="87.80" y="634.36" width="2627.21" height="3.94" fill="url(#g61)"/><rect x="87.80" y="630.72" width="2627.21" height="3.94" fill="url(#g62)"/><rect x="87.80" y="627.08" width="2627.21" height="3.94" fill="url(#g63)"/><rect x="87.80" y="623.44" width="2627.21" height="3.94" fill="url(#g64)"/><rect x="87.80" y="619.80" width="2627.21" height="3.94" fill="url(#g65)"/><rect x="87.80" y="616.16" width="2627.21" height="3.94" fill="url(#g66)"/><rect x="87.80" y="612.52" width="2627.21" height="3.94" fill="url(#g67)"/><rect x="87.80" y="605.24" width="2627.21" height="7.58" fill="url(#g68)"/><rect x="87.80" y="597.96" width="2627.21" height="7.58" fill="url(#g69)"/><rect x="87.80" y="590.68" width="2627.21" height="7.58" fill="url(#g70)"/><rect x="87.80" y="583.40" width="2627.21" height="7.58" fill="url(#g71)"/><rect x="87.80" y="576.12" width="2627.21" height="7.58" fill="url(#g72)"/><rect x="87.80" y="568.85" width="2627.21" height="7.58" fill="url(#g73)"/><rect x="87.80" y="561.57" width="2627.21" height="7.58" fill="url(#g74)"/><rect x="87.80" y="554.29" width="2627.21" height="7.58" fill="url(#g75)"/><rect x="87.80" y="547.01" width="2627.21" height="7.58" fill="url(#g76)"/><rect x="87.80" y="539.73" width="2627.21" height="7.58" fill="url(#g77)"/><rect x="87.80" y="532.45" width="2627.21" height="7.58" fill="url(#g78)"/><rect x="87.80" y="525.17" width="2627.21" height="7.58" fill="url(#g79)"/><rect x="87.80" y="517.89" width="2627.21" height="7.58" fill="url(#g80)"/><rect x="87.80" y="510.61" width="2627.21" height="7.58" fill="url(#g81)"/><rect x="87.80" y="503.33" width="2627.21" height="7.58" fill="url(#g82)"/><rect x="87.80" y="496.06" width="2627.21" height="7.58" fill="url(#g83)"/><rect x="87.80" y="488.78" width="2627.21" height="7.58" fill="url(#g84)"/><rect x="87.80" y="481.50" width="2627.21" height="7.58" fill="url(#g85)"/><rect x="87.80" y="474.22" width="2627.21" height="7.58" fill="url(#g86)"/><rect x="87.80" y="466.94" width="2627.21" height="7.58" fill="url(#g87)"/><rect x="87.80" y="459.66" width="2627.21" height="7.58" fill="url(#g88)"/><rect x="87.80" y="452.38" width="2627.21" height="7.58" fill="url(#g89)"/><rect x="87.80" y="445.10" width="2627.21" height="7.58" fill="url(#g90)"/><rect x="87.80" y="437.82" width="2627.21" height="7.58" fill="url(#g91)"/><rect x="87.80" y="430.55" width="2627.21" height="7.58" fill="url(#g92)"/><rect x="87.80" y="423.27" width="2627.21" height="7.58" fill="url(#g93)"/><rect x="87.80" y="415.99" width="2627.21" height="7.58" fill="url(#g94)"/><rect x="87.80" y="408.71" width="2627.21" height="7.58" fill="url(#g95)"/><rect x="87.80" y="401.43" width="2627.21" height="7.58" fill="url(#g96)"/><rect x="87.80" y="394.15" width="2627.21" height="7.58" fill="url(#g97)"/><rect x="87.80" y="379.59" width="2627.21" height="14.86" fill="url(#g98)"/><rect x="87.80" y="365.03" width="2627.21" height="14.86" fill="url(#g99)"/><rect x="87.80" y="350.48" width="2627.21" height="14.86" fill="url(#g100)"/><rect x="87.80" y="335.92" width="2627.21" height="14.86" fill="url(#g101)"/><rect x="87.80" y="321.36" width="2627.21" height="14.86" fill="url(#g102)"/><rect x="87.80" y="299.52" width="2627.21" height="22.14" fill="url(#g103)"/><rect x="87.80" y="277.69" width="2627.21" height="22.14" fill="url(#g104)"/><rect x="87.80" y="255.85" width="2627.21" height="22.14" fill="url(#g105)"/><rect x="87.80" y="234.01" width="2627.21" height="22.14" fill="url(#g106)"/><rect x="87.80" y="212.18" width="2627.21" height="22.14" fill="url(#g107)"/><rect x="87.80" y="190.34" width="2627.21" height="22.14" fill="url(#g108)"/><rect x="87.80" y="168.50" width="2627.21" height="22.14" fill="url(#g109)"/><rect x="87.80" y="146.66" width="2627.21" height="22.14" fill="url(#g110)"/><rect x="87.80" y="124.83" width="2627.21" height="22.14" fill="url(#g111)"/><rect x="87.80" y="102.99" width="2627.21" height="22.14" fill="url(#g112)"/><rect x="87.80" y="81.88" width="2627.21" height="21.41" fill="url(#g113)"/><rect x="87.80" y="59.32" width="2627.21" height="22.86" fill="url(#g114)"/><rect x="87.80" y="44.76" width="2627.21" height="14.86" fill="url(#g115)"/><rect x="87.80" y="30.20" width="2627.21" height="14.86" fill="url(#g116)"/><rect x="87.8" y="30.5" width="5.7" height="138.3" fill="#fff" fill-opacity="0.010"/><rect x="93.3" y="30.5" width="11.2" height="138.3" fill="#fff" fill-opacity="0.010"/><rect x="104.3" y="30.5" width="5.7" height="138.3" fill="#fff" fill-opacity="0.013"/><rect x="115.3" y="30.5" width="5.7" height="138.3" fill="#fff" fill-opacity="0.012"/><rect x="137.3" y="30.5" width="5.7" height="138.3" fill="#000" fill-opacity="0.012"/><rect x="142.8" y="30.5" width="11.2" height="138.3" fill="#000" fill-opacity="0.016"/><rect x="153.8" y="30.5" width="16.7" height="138.3" fill="#000" fill-opacity="0.016"/><rect x="170.3" y="30.5" width="5.7" height="138.3" fill="#000" fill-opacity="0.007"/><rect x="175.8" y="30.5" width="16.7" height="138.3" fill="#fff" fill-opacity="0.006"/><rect x="208.8" y="30.5" width="5.7" height="138.3" fill="#fff" fill-opacity="0.014"/><rect x="214.3" y="30.5" width="5.7" height="138.3" fill="#fff" fill-opacity="0.010"/><rect x="247.3" y="30.5" width="5.7" height="138.3" fill="#000" fill-opacity="0.011"/><rect x="269.3" y="30.5" width="5.7" height="138.3" fill="#000" fill-opacity="0.011"/><rect x="280.3" y="30.5" width="16.7" height="138.3" fill="#000" fill-opacity="0.010"/><rect x="296.8" y="30.5" width="16.7" height="138.3" fill="#000" fill-opacity="0.008"/><rect x="318.8" y="30.5" width="11.2" height="138.3" fill="#000" fill-opacity="0.006"/><rect x="335.3" y="30.5" width="5.7" height="138.3" fill="#000" fill-opacity="0.008"/><rect x="357.3" y="30.5" width="5.7" height="138.3" fill="#000" fill-opacity="0.006"/><rect x="362.8" y="30.5" width="11.2" height="138.3" fill="#000" fill-opacity="0.011"/><rect x="373.8" y="30.5" width="5.7" height="138.3" fill="#000" fill-opacity="0.015"/><rect x="379.3" y="30.5" width="11.2" height="138.3" fill="#000" fill-opacity="0.011"/><rect x="395.8" y="30.5" width="16.7" height="138.3" fill="#fff" fill-opacity="0.006"/><rect x="423.3" y="30.5" width="16.7" height="138.3" fill="#fff" fill-opacity="0.008"/><rect x="439.8" y="30.5" width="5.7" height="138.3" fill="#fff" fill-opacity="0.013"/><rect x="445.3" y="30.5" width="5.7" height="138.3" fill="#fff" fill-opacity="0.007"/><rect x="483.8" y="30.5" width="5.7" height="138.3" fill="#000" fill-opacity="0.007"/><rect x="489.3" y="30.5" width="11.2" height="138.3" fill="#000" fill-opacity="0.008"/><rect x="500.3" y="30.5" width="16.7" height="138.3" fill="#000" fill-opacity="0.014"/><rect x="516.8" y="30.5" width="5.7" height="138.3" fill="#000" fill-opacity="0.015"/><rect x="522.3" y="30.5" width="5.7" height="138.3" fill="#000" fill-opacity="0.016"/><rect x="527.8" y="30.5" width="5.7" height="138.3" fill="#000" fill-opacity="0.012"/><rect x="533.3" y="30.5" width="11.2" height="138.3" fill="#000" fill-opacity="0.016"/><rect x="544.3" y="30.5" width="11.2" height="138.3" fill="#000" fill-opacity="0.012"/><rect x="560.8" y="30.5" width="11.2" height="138.3" fill="#fff" fill-opacity="0.009"/><rect x="571.8" y="30.5" width="5.7" height="138.3" fill="#fff" fill-opacity="0.010"/><rect x="577.3" y="30.5" width="5.7" height="138.3" fill="#fff" fill-opacity="0.010"/><rect x="582.8" y="30.5" width="11.2" height="138.3" fill="#fff" fill-opacity="0.016"/><rect x="599.3" y="30.5" width="5.7" height="138.3" fill="#000" fill-opacity="0.006"/><rect x="604.8" y="30.5" width="5.7" height="138.3" fill="#000" fill-opacity="0.015"/><rect x="610.3" y="30.5" width="16.7" height="138.3" fill="#000" fill-opacity="0.016"/><rect x="626.8" y="30.5" width="5.7" height="138.3" fill="#000" fill-opacity="0.016"/><rect x="632.3" y="30.5" width="11.2" height="138.3" fill="#000" fill-opacity="0.009"/><rect x="665.3" y="30.5" width="16.7" height="138.3" fill="#fff" fill-opacity="0.012"/><rect x="736.8" y="30.5" width="5.7" height="138.3" fill="#000" fill-opacity="0.007"/><rect x="742.3" y="30.5" width="5.7" height="138.3" fill="#000" fill-opacity="0.013"/><rect x="747.8" y="30.5" width="16.7" height="138.3" fill="#000" fill-opacity="0.016"/><rect x="769.8" y="30.5" width="16.7" height="138.3" fill="#000" fill-opacity="0.010"/><rect x="802.8" y="30.5" width="11.2" height="138.3" fill="#000" fill-opacity="0.007"/><rect x="813.8" y="30.5" width="11.2" height="138.3" fill="#fff" fill-opacity="0.007"/><rect x="835.8" y="30.5" width="5.7" height="138.3" fill="#000" fill-opacity="0.007"/><rect x="857.8" y="30.5" width="5.7" height="138.3" fill="#fff" fill-opacity="0.011"/><rect x="879.8" y="30.5" width="16.7" height="138.3" fill="#fff" fill-opacity="0.011"/><rect x="956.8" y="30.5" width="5.7" height="138.3" fill="#fff" fill-opacity="0.007"/><rect x="962.3" y="30.5" width="11.2" height="138.3" fill="#fff" fill-opacity="0.010"/><rect x="989.8" y="30.5" width="5.7" height="138.3" fill="#fff" fill-opacity="0.009"/><rect x="1000.8" y="30.5" width="5.7" height="138.3" fill="#fff" fill-opacity="0.007"/><rect x="1011.8" y="30.5" width="5.7" height="138.3" fill="#fff" fill-opacity="0.012"/><rect x="1022.8" y="30.5" width="5.7" height="138.3" fill="#000" fill-opacity="0.008"/><rect x="1028.3" y="30.5" width="5.7" height="138.3" fill="#000" fill-opacity="0.008"/><rect x="1044.8" y="30.5" width="16.7" height="138.3" fill="#fff" fill-opacity="0.007"/><rect x="1061.3" y="30.5" width="11.2" height="138.3" fill="#fff" fill-opacity="0.013"/><rect x="1072.3" y="30.5" width="5.7" height="138.3" fill="#fff" fill-opacity="0.015"/><rect x="1077.8" y="30.5" width="5.7" height="138.3" fill="#fff" fill-opacity="0.016"/><rect x="1083.3" y="30.5" width="5.7" height="138.3" fill="#fff" fill-opacity="0.016"/><rect x="1088.8" y="30.5" width="5.7" height="138.3" fill="#fff" fill-opacity="0.009"/><rect x="1099.8" y="30.5" width="5.7" height="138.3" fill="#000" fill-opacity="0.007"/><rect x="1121.8" y="30.5" width="5.7" height="138.3" fill="#fff" fill-opacity="0.013"/><rect x="1132.8" y="30.5" width="11.2" height="138.3" fill="#fff" fill-opacity="0.007"/><rect x="1143.8" y="30.5" width="5.7" height="138.3" fill="#fff" fill-opacity="0.007"/><rect x="1149.3" y="30.5" width="16.7" height="138.3" fill="#fff" fill-opacity="0.015"/><rect x="1171.3" y="30.5" width="16.7" height="138.3" fill="#000" fill-opacity="0.008"/><rect x="1204.3" y="30.5" width="5.7" height="138.3" fill="#fff" fill-opacity="0.007"/><rect x="1209.8" y="30.5" width="5.7" height="138.3" fill="#000" fill-opacity="0.006"/><rect x="1215.3" y="30.5" width="5.7" height="138.3" fill="#000" fill-opacity="0.009"/><rect x="1242.8" y="30.5" width="5.7" height="138.3" fill="#fff" fill-opacity="0.012"/><rect x="1248.3" y="30.5" width="5.7" height="138.3" fill="#fff" fill-opacity="0.016"/><rect x="1253.8" y="30.5" width="16.7" height="138.3" fill="#fff" fill-opacity="0.016"/><rect x="1270.3" y="30.5" width="16.7" height="138.3" fill="#fff" fill-opacity="0.008"/><rect x="1308.8" y="30.5" width="5.7" height="138.3" fill="#fff" fill-opacity="0.008"/><rect x="1314.3" y="30.5" width="5.7" height="138.3" fill="#fff" fill-opacity="0.007"/><rect x="1363.8" y="30.5" width="5.7" height="138.3" fill="#fff" fill-opacity="0.011"/><rect x="1374.8" y="30.5" width="5.7" height="138.3" fill="#000" fill-opacity="0.010"/><rect x="1385.8" y="30.5" width="16.7" height="138.3" fill="#000" fill-opacity="0.014"/><rect x="1402.3" y="30.5" width="5.7" height="138.3" fill="#000" fill-opacity="0.010"/><rect x="1446.3" y="30.5" width="16.7" height="138.3" fill="#fff" fill-opacity="0.008"/><rect x="1462.8" y="30.5" width="16.7" height="138.3" fill="#fff" fill-opacity="0.015"/><rect x="1479.3" y="30.5" width="16.7" height="138.3" fill="#fff" fill-opacity="0.016"/><rect x="1495.8" y="30.5" width="5.7" height="138.3" fill="#fff" fill-opacity="0.016"/><rect x="1501.3" y="30.5" width="5.7" height="138.3" fill="#fff" fill-opacity="0.016"/><rect x="1506.8" y="30.5" width="5.7" height="138.3" fill="#fff" fill-opacity="0.008"/><rect x="1528.8" y="30.5" width="11.2" height="138.3" fill="#000" fill-opacity="0.006"/><rect x="1545.3" y="30.5" width="5.7" height="138.3" fill="#fff" fill-opacity="0.012"/><rect x="1556.3" y="30.5" width="5.7" height="138.3" fill="#fff" fill-opacity="0.010"/><rect x="1561.8" y="30.5" width="5.7" height="138.3" fill="#fff" fill-opacity="0.012"/><rect x="1583.8" y="30.5" width="5.7" height="138.3" fill="#000" fill-opacity="0.011"/><rect x="1660.8" y="30.5" width="16.7" height="138.3" fill="#fff" fill-opacity="0.011"/><rect x="1677.3" y="30.5" width="5.7" height="138.3" fill="#fff" fill-opacity="0.016"/><rect x="1682.8" y="30.5" width="5.7" height="138.3" fill="#fff" fill-opacity="0.016"/><rect x="1693.8" y="30.5" width="5.7" height="138.3" fill="#000" fill-opacity="0.011"/><rect x="1699.3" y="30.5" width="5.7" height="138.3" fill="#000" fill-opacity="0.012"/><rect x="1715.8" y="30.5" width="16.7" height="138.3" fill="#fff" fill-opacity="0.008"/><rect x="1748.8" y="30.5" width="5.7" height="138.3" fill="#000" fill-opacity="0.006"/><rect x="1776.3" y="30.5" width="5.7" height="138.3" fill="#000" fill-opacity="0.010"/><rect x="1781.8" y="30.5" width="5.7" height="138.3" fill="#000" fill-opacity="0.016"/><rect x="1787.3" y="30.5" width="5.7" height="138.3" fill="#000" fill-opacity="0.011"/><rect x="1798.3" y="30.5" width="11.2" height="138.3" fill="#fff" fill-opacity="0.013"/><rect x="1809.3" y="30.5" width="5.7" height="138.3" fill="#fff" fill-opacity="0.011"/><rect x="1814.8" y="30.5" width="5.7" height="138.3" fill="#fff" fill-opacity="0.007"/><rect x="1820.3" y="30.5" width="5.7" height="138.3" fill="#fff" fill-opacity="0.014"/><rect x="1869.8" y="30.5" width="5.7" height="138.3" fill="#fff" fill-opacity="0.009"/><rect x="1902.8" y="30.5" width="5.7" height="138.3" fill="#fff" fill-opacity="0.009"/><rect x="1908.3" y="30.5" width="5.7" height="138.3" fill="#fff" fill-opacity="0.009"/><rect x="1913.8" y="30.5" width="11.2" height="138.3" fill="#fff" fill-opacity="0.009"/><rect x="1924.8" y="30.5" width="16.7" height="138.3" fill="#fff" fill-opacity="0.013"/><rect x="1941.3" y="30.5" width="11.2" height="138.3" fill="#fff" fill-opacity="0.016"/><rect x="1952.3" y="30.5" width="5.7" height="138.3" fill="#fff" fill-opacity="0.014"/><rect x="1968.8" y="30.5" width="5.7" height="138.3" fill="#fff" fill-opacity="0.011"/><rect x="1985.3" y="30.5" width="5.7" height="138.3" fill="#000" fill-opacity="0.012"/><rect x="2007.3" y="30.5" width="5.7" height="138.3" fill="#000" fill-opacity="0.009"/><rect x="2012.8" y="30.5" width="5.7" height="138.3" fill="#000" fill-opacity="0.013"/><rect x="2018.3" y="30.5" width="11.2" height="138.3" fill="#000" fill-opacity="0.016"/><rect x="2051.3" y="30.5" width="5.7" height="138.3" fill="#fff" fill-opacity="0.009"/><rect x="2062.3" y="30.5" width="5.7" height="138.3" fill="#000" fill-opacity="0.012"/><rect x="2067.8" y="30.5" width="11.2" height="138.3" fill="#000" fill-opacity="0.016"/><rect x="2078.8" y="30.5" width="5.7" height="138.3" fill="#000" fill-opacity="0.010"/><rect x="2084.3" y="30.5" width="5.7" height="138.3" fill="#000" fill-opacity="0.012"/><rect x="2089.8" y="30.5" width="5.7" height="138.3" fill="#000" fill-opacity="0.016"/><rect x="2095.3" y="30.5" width="5.7" height="138.3" fill="#000" fill-opacity="0.016"/><rect x="2100.8" y="30.5" width="16.7" height="138.3" fill="#000" fill-opacity="0.016"/><rect x="2117.3" y="30.5" width="5.7" height="138.3" fill="#000" fill-opacity="0.014"/><rect x="2122.8" y="30.5" width="5.7" height="138.3" fill="#000" fill-opacity="0.016"/><rect x="2199.8" y="30.5" width="5.7" height="138.3" fill="#fff" fill-opacity="0.008"/><rect x="2205.3" y="30.5" width="16.7" height="138.3" fill="#fff" fill-opacity="0.007"/><rect x="2254.8" y="30.5" width="16.7" height="138.3" fill="#fff" fill-opacity="0.010"/><rect x="2271.3" y="30.5" width="5.7" height="138.3" fill="#fff" fill-opacity="0.013"/><rect x="2276.8" y="30.5" width="16.7" height="138.3" fill="#fff" fill-opacity="0.015"/><rect x="2298.8" y="30.5" width="5.7" height="138.3" fill="#000" fill-opacity="0.009"/><rect x="2309.8" y="30.5" width="11.2" height="138.3" fill="#fff" fill-opacity="0.011"/><rect x="2359.3" y="30.5" width="16.7" height="138.3" fill="#fff" fill-opacity="0.012"/><rect x="2375.8" y="30.5" width="5.7" height="138.3" fill="#fff" fill-opacity="0.011"/><rect x="2381.3" y="30.5" width="5.7" height="138.3" fill="#fff" fill-opacity="0.012"/><rect x="2397.8" y="30.5" width="5.7" height="138.3" fill="#fff" fill-opacity="0.009"/><rect x="2403.3" y="30.5" width="5.7" height="138.3" fill="#fff" fill-opacity="0.011"/><rect x="2425.3" y="30.5" width="11.2" height="138.3" fill="#000" fill-opacity="0.010"/><rect x="2458.3" y="30.5" width="5.7" height="138.3" fill="#000" fill-opacity="0.008"/><rect x="2463.8" y="30.5" width="5.7" height="138.3" fill="#000" fill-opacity="0.009"/><rect x="2474.8" y="30.5" width="5.7" height="138.3" fill="#000" fill-opacity="0.013"/><rect x="2480.3" y="30.5" width="5.7" height="138.3" fill="#000" fill-opacity="0.008"/><rect x="2502.3" y="30.5" width="16.7" height="138.3" fill="#000" fill-opacity="0.008"/><rect x="2529.8" y="30.5" width="5.7" height="138.3" fill="#fff" fill-opacity="0.008"/><rect x="2551.8" y="30.5" width="5.7" height="138.3" fill="#fff" fill-opacity="0.009"/><rect x="2562.8" y="30.5" width="5.7" height="138.3" fill="#fff" fill-opacity="0.008"/><rect x="2568.3" y="30.5" width="11.2" height="138.3" fill="#fff" fill-opacity="0.016"/><rect x="2590.3" y="30.5" width="5.7" height="138.3" fill="#000" fill-opacity="0.008"/><rect x="2595.8" y="30.5" width="5.7" height="138.3" fill="#000" fill-opacity="0.013"/><rect x="2601.3" y="30.5" width="16.7" height="138.3" fill="#000" fill-opacity="0.013"/><rect x="2617.8" y="30.5" width="5.7" height="138.3" fill="#000" fill-opacity="0.016"/><rect x="2623.3" y="30.5" width="16.7" height="138.3" fill="#000" fill-opacity="0.015"/><rect x="2661.8" y="30.5" width="5.7" height="138.3" fill="#000" fill-opacity="0.014"/><rect x="2678.3" y="30.5" width="11.2" height="138.3" fill="#000" fill-opacity="0.007"/><rect x="2689.3" y="30.5" width="5.7" height="138.3" fill="#000" fill-opacity="0.006"/><rect x="2694.8" y="30.5" width="11.2" height="138.3" fill="#000" fill-opacity="0.008"/><rect x="2705.8" y="30.5" width="5.7" height="138.3" fill="#000" fill-opacity="0.016"/><rect x="87.8" y="168.8" width="5.7" height="152.9" fill="#fff" fill-opacity="0.010"/><rect x="93.3" y="168.8" width="5.7" height="152.9" fill="#fff" fill-opacity="0.011"/><rect x="109.8" y="168.8" width="16.7" height="152.9" fill="#000" fill-opacity="0.011"/><rect x="164.8" y="168.8" width="5.7" height="152.9" fill="#000" fill-opacity="0.009"/><rect x="175.8" y="168.8" width="11.2" height="152.9" fill="#fff" fill-opacity="0.010"/><rect x="186.8" y="168.8" width="11.2" height="152.9" fill="#fff" fill-opacity="0.015"/><rect x="197.8" y="168.8" width="16.7" height="152.9" fill="#fff" fill-opacity="0.010"/><rect x="241.8" y="168.8" width="16.7" height="152.9" fill="#000" fill-opacity="0.008"/><rect x="258.3" y="168.8" width="11.2" height="152.9" fill="#000" fill-opacity="0.007"/><rect x="269.3" y="168.8" width="5.7" height="152.9" fill="#000" fill-opacity="0.009"/><rect x="274.8" y="168.8" width="5.7" height="152.9" fill="#000" fill-opacity="0.007"/><rect x="280.3" y="168.8" width="5.7" height="152.9" fill="#000" fill-opacity="0.009"/><rect x="302.3" y="168.8" width="5.7" height="152.9" fill="#000" fill-opacity="0.009"/><rect x="307.8" y="168.8" width="5.7" height="152.9" fill="#000" fill-opacity="0.015"/><rect x="340.8" y="168.8" width="11.2" height="152.9" fill="#fff" fill-opacity="0.010"/><rect x="379.3" y="168.8" width="5.7" height="152.9" fill="#000" fill-opacity="0.010"/><rect x="384.8" y="168.8" width="16.7" height="152.9" fill="#000" fill-opacity="0.016"/><rect x="401.3" y="168.8" width="5.7" height="152.9" fill="#000" fill-opacity="0.012"/><rect x="406.8" y="168.8" width="16.7" height="152.9" fill="#000" fill-opacity="0.014"/><rect x="439.8" y="168.8" width="16.7" height="152.9" fill="#000" fill-opacity="0.009"/><rect x="456.3" y="168.8" width="5.7" height="152.9" fill="#000" fill-opacity="0.009"/><rect x="467.3" y="168.8" width="16.7" height="152.9" fill="#fff" fill-opacity="0.007"/><rect x="483.8" y="168.8" width="5.7" height="152.9" fill="#fff" fill-opacity="0.009"/><rect x="489.3" y="168.8" width="16.7" height="152.9" fill="#fff" fill-opacity="0.008"/><rect x="549.8" y="168.8" width="11.2" height="152.9" fill="#fff" fill-opacity="0.012"/><rect x="571.8" y="168.8" width="11.2" height="152.9" fill="#fff" fill-opacity="0.007"/><rect x="582.8" y="168.8" width="16.7" height="152.9" fill="#fff" fill-opacity="0.013"/><rect x="621.3" y="168.8" width="5.7" height="152.9" fill="#fff" fill-opacity="0.009"/><rect x="637.8" y="168.8" width="5.7" height="152.9" fill="#000" fill-opacity="0.014"/><rect x="643.3" y="168.8" width="5.7" height="152.9" fill="#000" fill-opacity="0.015"/><rect x="654.3" y="168.8" width="5.7" height="152.9" fill="#fff" fill-opacity="0.007"/><rect x="665.3" y="168.8" width="11.2" height="152.9" fill="#fff" fill-opacity="0.008"/><rect x="687.3" y="168.8" width="16.7" height="152.9" fill="#000" fill-opacity="0.008"/><rect x="703.8" y="168.8" width="5.7" height="152.9" fill="#000" fill-opacity="0.011"/><rect x="709.3" y="168.8" width="16.7" height="152.9" fill="#000" fill-opacity="0.016"/><rect x="725.8" y="168.8" width="16.7" height="152.9" fill="#000" fill-opacity="0.014"/><rect x="742.3" y="168.8" width="11.2" height="152.9" fill="#000" fill-opacity="0.014"/><rect x="769.8" y="168.8" width="5.7" height="152.9" fill="#fff" fill-opacity="0.010"/><rect x="786.3" y="168.8" width="11.2" height="152.9" fill="#000" fill-opacity="0.011"/><rect x="802.8" y="168.8" width="5.7" height="152.9" fill="#000" fill-opacity="0.008"/><rect x="824.8" y="168.8" width="11.2" height="152.9" fill="#000" fill-opacity="0.009"/><rect x="841.3" y="168.8" width="16.7" height="152.9" fill="#000" fill-opacity="0.010"/><rect x="868.8" y="168.8" width="5.7" height="152.9" fill="#fff" fill-opacity="0.009"/><rect x="885.3" y="168.8" width="5.7" height="152.9" fill="#000" fill-opacity="0.013"/><rect x="890.8" y="168.8" width="16.7" height="152.9" fill="#000" fill-opacity="0.008"/><rect x="923.8" y="168.8" width="5.7" height="152.9" fill="#fff" fill-opacity="0.011"/><rect x="929.3" y="168.8" width="5.7" height="152.9" fill="#fff" fill-opacity="0.016"/><rect x="940.3" y="168.8" width="16.7" height="152.9" fill="#000" fill-opacity="0.006"/><rect x="973.3" y="168.8" width="5.7" height="152.9" fill="#fff" fill-opacity="0.012"/><rect x="1006.3" y="168.8" width="11.2" height="152.9" fill="#fff" fill-opacity="0.007"/><rect x="1022.8" y="168.8" width="5.7" height="152.9" fill="#000" fill-opacity="0.010"/><rect x="1028.3" y="168.8" width="5.7" height="152.9" fill="#000" fill-opacity="0.015"/><rect x="1055.8" y="168.8" width="5.7" height="152.9" fill="#fff" fill-opacity="0.007"/><rect x="1072.3" y="168.8" width="11.2" height="152.9" fill="#000" fill-opacity="0.010"/><rect x="1105.3" y="168.8" width="11.2" height="152.9" fill="#000" fill-opacity="0.012"/><rect x="1116.3" y="168.8" width="11.2" height="152.9" fill="#000" fill-opacity="0.013"/><rect x="1127.3" y="168.8" width="11.2" height="152.9" fill="#000" fill-opacity="0.016"/><rect x="1138.3" y="168.8" width="5.7" height="152.9" fill="#000" fill-opacity="0.010"/><rect x="1143.8" y="168.8" width="5.7" height="152.9" fill="#000" fill-opacity="0.012"/><rect x="1160.3" y="168.8" width="5.7" height="152.9" fill="#fff" fill-opacity="0.009"/><rect x="1182.3" y="168.8" width="5.7" height="152.9" fill="#fff" fill-opacity="0.007"/><rect x="1187.8" y="168.8" width="5.7" height="152.9" fill="#000" fill-opacity="0.007"/><rect x="1209.8" y="168.8" width="5.7" height="152.9" fill="#000" fill-opacity="0.008"/><rect x="1215.3" y="168.8" width="5.7" height="152.9" fill="#000" fill-opacity="0.014"/><rect x="1231.8" y="168.8" width="11.2" height="152.9" fill="#fff" fill-opacity="0.008"/><rect x="1242.8" y="168.8" width="11.2" height="152.9" fill="#fff" fill-opacity="0.012"/><rect x="1253.8" y="168.8" width="5.7" height="152.9" fill="#fff" fill-opacity="0.016"/><rect x="1264.8" y="168.8" width="5.7" height="152.9" fill="#fff" fill-opacity="0.006"/><rect x="1270.3" y="168.8" width="5.7" height="152.9" fill="#fff" fill-opacity="0.006"/><rect x="1275.8" y="168.8" width="5.7" height="152.9" fill="#fff" fill-opacity="0.012"/><rect x="1292.3" y="168.8" width="16.7" height="152.9" fill="#000" fill-opacity="0.007"/><rect x="1308.8" y="168.8" width="5.7" height="152.9" fill="#000" fill-opacity="0.007"/><rect x="1314.3" y="168.8" width="5.7" height="152.9" fill="#000" fill-opacity="0.010"/><rect x="1336.3" y="168.8" width="5.7" height="152.9" fill="#000" fill-opacity="0.008"/><rect x="1358.3" y="168.8" width="5.7" height="152.9" fill="#000" fill-opacity="0.009"/><rect x="1374.8" y="168.8" width="11.2" height="152.9" fill="#000" fill-opacity="0.011"/><rect x="1385.8" y="168.8" width="5.7" height="152.9" fill="#000" fill-opacity="0.008"/><rect x="1407.8" y="168.8" width="5.7" height="152.9" fill="#fff" fill-opacity="0.008"/><rect x="1413.3" y="168.8" width="5.7" height="152.9" fill="#fff" fill-opacity="0.011"/><rect x="1457.3" y="168.8" width="5.7" height="152.9" fill="#000" fill-opacity="0.008"/><rect x="1462.8" y="168.8" width="16.7" height="152.9" fill="#000" fill-opacity="0.012"/><rect x="1479.3" y="168.8" width="5.7" height="152.9" fill="#000" fill-opacity="0.010"/><rect x="1501.3" y="168.8" width="5.7" height="152.9" fill="#000" fill-opacity="0.007"/><rect x="1517.8" y="168.8" width="5.7" height="152.9" fill="#fff" fill-opacity="0.011"/><rect x="1528.8" y="168.8" width="5.7" height="152.9" fill="#000" fill-opacity="0.009"/><rect x="1534.3" y="168.8" width="5.7" height="152.9" fill="#000" fill-opacity="0.012"/><rect x="1539.8" y="168.8" width="16.7" height="152.9" fill="#000" fill-opacity="0.014"/><rect x="1556.3" y="168.8" width="5.7" height="152.9" fill="#000" fill-opacity="0.012"/><rect x="1561.8" y="168.8" width="5.7" height="152.9" fill="#000" fill-opacity="0.008"/><rect x="1572.8" y="168.8" width="5.7" height="152.9" fill="#000" fill-opacity="0.008"/><rect x="1594.8" y="168.8" width="5.7" height="152.9" fill="#000" fill-opacity="0.007"/><rect x="1600.3" y="168.8" width="5.7" height="152.9" fill="#000" fill-opacity="0.008"/><rect x="1605.8" y="168.8" width="5.7" height="152.9" fill="#000" fill-opacity="0.011"/><rect x="1611.3" y="168.8" width="5.7" height="152.9" fill="#000" fill-opacity="0.016"/><rect x="1627.8" y="168.8" width="5.7" height="152.9" fill="#000" fill-opacity="0.009"/><rect x="1633.3" y="168.8" width="5.7" height="152.9" fill="#000" fill-opacity="0.015"/><rect x="1660.8" y="168.8" width="11.2" height="152.9" fill="#000" fill-opacity="0.010"/><rect x="1693.8" y="168.8" width="11.2" height="152.9" fill="#fff" fill-opacity="0.007"/><rect x="1704.8" y="168.8" width="11.2" height="152.9" fill="#fff" fill-opacity="0.016"/><rect x="1715.8" y="168.8" width="5.7" height="152.9" fill="#fff" fill-opacity="0.007"/><rect x="1726.8" y="168.8" width="16.7" height="152.9" fill="#fff" fill-opacity="0.009"/><rect x="1759.8" y="168.8" width="11.2" height="152.9" fill="#fff" fill-opacity="0.008"/><rect x="1770.8" y="168.8" width="5.7" height="152.9" fill="#fff" fill-opacity="0.015"/><rect x="1776.3" y="168.8" width="11.2" height="152.9" fill="#fff" fill-opacity="0.016"/><rect x="1809.3" y="168.8" width="5.7" height="152.9" fill="#000" fill-opacity="0.010"/><rect x="1820.3" y="168.8" width="11.2" height="152.9" fill="#000" fill-opacity="0.012"/><rect x="1847.8" y="168.8" width="16.7" height="152.9" fill="#000" fill-opacity="0.006"/><rect x="1864.3" y="168.8" width="5.7" height="152.9" fill="#000" fill-opacity="0.009"/><rect x="1869.8" y="168.8" width="16.7" height="152.9" fill="#000" fill-opacity="0.013"/><rect x="1886.3" y="168.8" width="5.7" height="152.9" fill="#000" fill-opacity="0.016"/><rect x="1902.8" y="168.8" width="5.7" height="152.9" fill="#000" fill-opacity="0.007"/><rect x="1908.3" y="168.8" width="5.7" height="152.9" fill="#fff" fill-opacity="0.007"/><rect x="1924.8" y="168.8" width="16.7" height="152.9" fill="#fff" fill-opacity="0.010"/><rect x="1979.8" y="168.8" width="16.7" height="152.9" fill="#fff" fill-opacity="0.011"/><rect x="2007.3" y="168.8" width="5.7" height="152.9" fill="#000" fill-opacity="0.011"/><rect x="2012.8" y="168.8" width="16.7" height="152.9" fill="#000" fill-opacity="0.014"/><rect x="2029.3" y="168.8" width="5.7" height="152.9" fill="#000" fill-opacity="0.016"/><rect x="2040.3" y="168.8" width="5.7" height="152.9" fill="#000" fill-opacity="0.010"/><rect x="2117.3" y="168.8" width="11.2" height="152.9" fill="#000" fill-opacity="0.009"/><rect x="2155.8" y="168.8" width="11.2" height="152.9" fill="#fff" fill-opacity="0.011"/><rect x="2177.8" y="168.8" width="5.7" height="152.9" fill="#000" fill-opacity="0.006"/><rect x="2183.3" y="168.8" width="11.2" height="152.9" fill="#000" fill-opacity="0.007"/><rect x="2205.3" y="168.8" width="5.7" height="152.9" fill="#000" fill-opacity="0.013"/><rect x="2210.8" y="168.8" width="5.7" height="152.9" fill="#000" fill-opacity="0.016"/><rect x="2221.8" y="168.8" width="16.7" height="152.9" fill="#000" fill-opacity="0.012"/><rect x="2254.8" y="168.8" width="5.7" height="152.9" fill="#000" fill-opacity="0.010"/><rect x="2271.3" y="168.8" width="11.2" height="152.9" fill="#000" fill-opacity="0.007"/><rect x="2287.8" y="168.8" width="5.7" height="152.9" fill="#000" fill-opacity="0.010"/><rect x="2298.8" y="168.8" width="5.7" height="152.9" fill="#000" fill-opacity="0.010"/><rect x="2304.3" y="168.8" width="16.7" height="152.9" fill="#000" fill-opacity="0.011"/><rect x="2320.8" y="168.8" width="11.2" height="152.9" fill="#000" fill-opacity="0.015"/><rect x="2370.3" y="168.8" width="5.7" height="152.9" fill="#000" fill-opacity="0.010"/><rect x="2375.8" y="168.8" width="11.2" height="152.9" fill="#000" fill-opacity="0.014"/><rect x="2392.3" y="168.8" width="11.2" height="152.9" fill="#000" fill-opacity="0.010"/><rect x="2403.3" y="168.8" width="5.7" height="152.9" fill="#000" fill-opacity="0.015"/><rect x="2408.8" y="168.8" width="16.7" height="152.9" fill="#000" fill-opacity="0.016"/><rect x="2480.3" y="168.8" width="11.2" height="152.9" fill="#fff" fill-opacity="0.006"/><rect x="2524.3" y="168.8" width="16.7" height="152.9" fill="#000" fill-opacity="0.008"/><rect x="2557.3" y="168.8" width="5.7" height="152.9" fill="#fff" fill-opacity="0.008"/><rect x="2584.8" y="168.8" width="5.7" height="152.9" fill="#fff" fill-opacity="0.009"/><rect x="2595.8" y="168.8" width="16.7" height="152.9" fill="#fff" fill-opacity="0.006"/><rect x="2612.3" y="168.8" width="5.7" height="152.9" fill="#000" fill-opacity="0.006"/><rect x="2617.8" y="168.8" width="16.7" height="152.9" fill="#000" fill-opacity="0.007"/><rect x="2639.8" y="168.8" width="16.7" height="152.9" fill="#000" fill-opacity="0.009"/><rect x="2656.3" y="168.8" width="16.7" height="152.9" fill="#000" fill-opacity="0.010"/><rect x="2672.8" y="168.8" width="5.7" height="152.9" fill="#000" fill-opacity="0.013"/><rect x="2694.8" y="168.8" width="5.7" height="152.9" fill="#000" fill-opacity="0.008"/><rect x="2705.8" y="168.8" width="11.2" height="152.9" fill="#000" fill-opacity="0.009"/><rect x="87.8" y="321.7" width="5.7" height="291.2" fill="#fff" fill-opacity="0.007"/><rect x="98.8" y="321.7" width="5.7" height="291.2" fill="#fff" fill-opacity="0.011"/><rect x="104.3" y="321.7" width="5.7" height="291.2" fill="#fff" fill-opacity="0.009"/><rect x="109.8" y="321.7" width="16.7" height="291.2" fill="#fff" fill-opacity="0.014"/><rect x="126.3" y="321.7" width="16.7" height="291.2" fill="#fff" fill-opacity="0.011"/><rect x="142.8" y="321.7" width="11.2" height="291.2" fill="#fff" fill-opacity="0.009"/><rect x="153.8" y="321.7" width="16.7" height="291.2" fill="#fff" fill-opacity="0.010"/><rect x="175.8" y="321.7" width="5.7" height="291.2" fill="#000" fill-opacity="0.010"/><rect x="181.3" y="321.7" width="16.7" height="291.2" fill="#000" fill-opacity="0.014"/><rect x="197.8" y="321.7" width="5.7" height="291.2" fill="#000" fill-opacity="0.014"/><rect x="208.8" y="321.7" width="5.7" height="291.2" fill="#000" fill-opacity="0.010"/><rect x="230.8" y="321.7" width="5.7" height="291.2" fill="#000" fill-opacity="0.009"/><rect x="258.3" y="321.7" width="11.2" height="291.2" fill="#fff" fill-opacity="0.006"/><rect x="280.3" y="321.7" width="5.7" height="291.2" fill="#fff" fill-opacity="0.009"/><rect x="285.8" y="321.7" width="11.2" height="291.2" fill="#fff" fill-opacity="0.010"/><rect x="302.3" y="321.7" width="11.2" height="291.2" fill="#fff" fill-opacity="0.007"/><rect x="324.3" y="321.7" width="11.2" height="291.2" fill="#000" fill-opacity="0.009"/><rect x="335.3" y="321.7" width="5.7" height="291.2" fill="#000" fill-opacity="0.010"/><rect x="340.8" y="321.7" width="5.7" height="291.2" fill="#000" fill-opacity="0.014"/><rect x="368.3" y="321.7" width="16.7" height="291.2" fill="#fff" fill-opacity="0.012"/><rect x="384.8" y="321.7" width="5.7" height="291.2" fill="#fff" fill-opacity="0.010"/><rect x="395.8" y="321.7" width="16.7" height="291.2" fill="#000" fill-opacity="0.011"/><rect x="417.8" y="321.7" width="5.7" height="291.2" fill="#fff" fill-opacity="0.010"/><rect x="489.3" y="321.7" width="5.7" height="291.2" fill="#fff" fill-opacity="0.007"/><rect x="494.8" y="321.7" width="11.2" height="291.2" fill="#fff" fill-opacity="0.006"/><rect x="516.8" y="321.7" width="5.7" height="291.2" fill="#000" fill-opacity="0.010"/><rect x="538.8" y="321.7" width="5.7" height="291.2" fill="#fff" fill-opacity="0.011"/><rect x="582.8" y="321.7" width="5.7" height="291.2" fill="#fff" fill-opacity="0.008"/><rect x="588.3" y="321.7" width="16.7" height="291.2" fill="#fff" fill-opacity="0.012"/><rect x="604.8" y="321.7" width="5.7" height="291.2" fill="#fff" fill-opacity="0.014"/><rect x="626.8" y="321.7" width="5.7" height="291.2" fill="#000" fill-opacity="0.013"/><rect x="643.3" y="321.7" width="5.7" height="291.2" fill="#000" fill-opacity="0.009"/><rect x="648.8" y="321.7" width="5.7" height="291.2" fill="#000" fill-opacity="0.009"/><rect x="654.3" y="321.7" width="5.7" height="291.2" fill="#000" fill-opacity="0.007"/><rect x="659.8" y="321.7" width="5.7" height="291.2" fill="#000" fill-opacity="0.007"/><rect x="665.3" y="321.7" width="5.7" height="291.2" fill="#000" fill-opacity="0.013"/><rect x="698.3" y="321.7" width="5.7" height="291.2" fill="#fff" fill-opacity="0.007"/><rect x="747.8" y="321.7" width="5.7" height="291.2" fill="#000" fill-opacity="0.008"/><rect x="753.3" y="321.7" width="11.2" height="291.2" fill="#000" fill-opacity="0.013"/><rect x="786.3" y="321.7" width="16.7" height="291.2" fill="#000" fill-opacity="0.006"/><rect x="802.8" y="321.7" width="5.7" height="291.2" fill="#000" fill-opacity="0.008"/><rect x="819.3" y="321.7" width="5.7" height="291.2" fill="#fff" fill-opacity="0.010"/><rect x="830.3" y="321.7" width="16.7" height="291.2" fill="#fff" fill-opacity="0.009"/><rect x="852.3" y="321.7" width="11.2" height="291.2" fill="#fff" fill-opacity="0.010"/><rect x="896.3" y="321.7" width="11.2" height="291.2" fill="#fff" fill-opacity="0.008"/><rect x="907.3" y="321.7" width="5.7" height="291.2" fill="#fff" fill-opacity="0.014"/><rect x="912.8" y="321.7" width="5.7" height="291.2" fill="#fff" fill-opacity="0.009"/><rect x="918.3" y="321.7" width="16.7" height="291.2" fill="#fff" fill-opacity="0.008"/><rect x="934.8" y="321.7" width="5.7" height="291.2" fill="#fff" fill-opacity="0.007"/><rect x="1006.3" y="321.7" width="16.7" height="291.2" fill="#000" fill-opacity="0.010"/><rect x="1039.3" y="321.7" width="5.7" height="291.2" fill="#fff" fill-opacity="0.007"/><rect x="1044.8" y="321.7" width="5.7" height="291.2" fill="#fff" fill-opacity="0.014"/><rect x="1061.3" y="321.7" width="5.7" height="291.2" fill="#fff" fill-opacity="0.007"/><rect x="1066.8" y="321.7" width="5.7" height="291.2" fill="#fff" fill-opacity="0.009"/><rect x="1121.8" y="321.7" width="16.7" height="291.2" fill="#fff" fill-opacity="0.011"/><rect x="1149.3" y="321.7" width="11.2" height="291.2" fill="#000" fill-opacity="0.011"/><rect x="1176.8" y="321.7" width="16.7" height="291.2" fill="#fff" fill-opacity="0.008"/><rect x="1193.3" y="321.7" width="11.2" height="291.2" fill="#fff" fill-opacity="0.012"/><rect x="1204.3" y="321.7" width="16.7" height="291.2" fill="#fff" fill-opacity="0.014"/><rect x="1220.8" y="321.7" width="5.7" height="291.2" fill="#fff" fill-opacity="0.011"/><rect x="1242.8" y="321.7" width="5.7" height="291.2" fill="#fff" fill-opacity="0.011"/><rect x="1248.3" y="321.7" width="5.7" height="291.2" fill="#fff" fill-opacity="0.013"/><rect x="1286.8" y="321.7" width="5.7" height="291.2" fill="#fff" fill-opacity="0.009"/><rect x="1292.3" y="321.7" width="5.7" height="291.2" fill="#fff" fill-opacity="0.011"/><rect x="1297.8" y="321.7" width="11.2" height="291.2" fill="#fff" fill-opacity="0.013"/><rect x="1314.3" y="321.7" width="16.7" height="291.2" fill="#000" fill-opacity="0.006"/><rect x="1369.3" y="321.7" width="11.2" height="291.2" fill="#fff" fill-opacity="0.006"/><rect x="1435.3" y="321.7" width="5.7" height="291.2" fill="#000" fill-opacity="0.012"/><rect x="1457.3" y="321.7" width="5.7" height="291.2" fill="#000" fill-opacity="0.006"/><rect x="1473.8" y="321.7" width="16.7" height="291.2" fill="#fff" fill-opacity="0.013"/><rect x="1490.3" y="321.7" width="11.2" height="291.2" fill="#fff" fill-opacity="0.007"/><rect x="1556.3" y="321.7" width="5.7" height="291.2" fill="#fff" fill-opacity="0.009"/><rect x="1600.3" y="321.7" width="11.2" height="291.2" fill="#000" fill-opacity="0.007"/><rect x="1611.3" y="321.7" width="5.7" height="291.2" fill="#000" fill-opacity="0.007"/><rect x="1616.8" y="321.7" width="5.7" height="291.2" fill="#000" fill-opacity="0.008"/><rect x="1622.3" y="321.7" width="11.2" height="291.2" fill="#000" fill-opacity="0.006"/><rect x="1638.8" y="321.7" width="5.7" height="291.2" fill="#000" fill-opacity="0.007"/><rect x="1649.8" y="321.7" width="5.7" height="291.2" fill="#000" fill-opacity="0.007"/><rect x="1688.3" y="321.7" width="5.7" height="291.2" fill="#fff" fill-opacity="0.013"/><rect x="1721.3" y="321.7" width="5.7" height="291.2" fill="#000" fill-opacity="0.009"/><rect x="1743.3" y="321.7" width="16.7" height="291.2" fill="#fff" fill-opacity="0.011"/><rect x="1759.8" y="321.7" width="5.7" height="291.2" fill="#fff" fill-opacity="0.010"/><rect x="1765.3" y="321.7" width="16.7" height="291.2" fill="#fff" fill-opacity="0.012"/><rect x="1820.3" y="321.7" width="16.7" height="291.2" fill="#000" fill-opacity="0.009"/><rect x="1864.3" y="321.7" width="5.7" height="291.2" fill="#000" fill-opacity="0.008"/><rect x="1913.8" y="321.7" width="5.7" height="291.2" fill="#000" fill-opacity="0.010"/><rect x="1935.8" y="321.7" width="11.2" height="291.2" fill="#fff" fill-opacity="0.007"/><rect x="1963.3" y="321.7" width="5.7" height="291.2" fill="#000" fill-opacity="0.009"/><rect x="1968.8" y="321.7" width="5.7" height="291.2" fill="#000" fill-opacity="0.008"/><rect x="1990.8" y="321.7" width="5.7" height="291.2" fill="#000" fill-opacity="0.007"/><rect x="2001.8" y="321.7" width="16.7" height="291.2" fill="#000" fill-opacity="0.012"/><rect x="2018.3" y="321.7" width="5.7" height="291.2" fill="#000" fill-opacity="0.012"/><rect x="2023.8" y="321.7" width="11.2" height="291.2" fill="#000" fill-opacity="0.009"/><rect x="2089.8" y="321.7" width="5.7" height="291.2" fill="#fff" fill-opacity="0.008"/><rect x="2100.8" y="321.7" width="16.7" height="291.2" fill="#fff" fill-opacity="0.009"/><rect x="2117.3" y="321.7" width="16.7" height="291.2" fill="#fff" fill-opacity="0.007"/><rect x="2144.8" y="321.7" width="5.7" height="291.2" fill="#000" fill-opacity="0.009"/><rect x="2232.8" y="321.7" width="5.7" height="291.2" fill="#000" fill-opacity="0.008"/><rect x="2243.8" y="321.7" width="11.2" height="291.2" fill="#fff" fill-opacity="0.007"/><rect x="2260.3" y="321.7" width="5.7" height="291.2" fill="#fff" fill-opacity="0.007"/><rect x="2265.8" y="321.7" width="16.7" height="291.2" fill="#fff" fill-opacity="0.008"/><rect x="2304.3" y="321.7" width="16.7" height="291.2" fill="#fff" fill-opacity="0.008"/><rect x="2326.3" y="321.7" width="16.7" height="291.2" fill="#000" fill-opacity="0.006"/><rect x="2414.3" y="321.7" width="5.7" height="291.2" fill="#fff" fill-opacity="0.011"/><rect x="2425.3" y="321.7" width="5.7" height="291.2" fill="#fff" fill-opacity="0.007"/><rect x="2430.8" y="321.7" width="5.7" height="291.2" fill="#fff" fill-opacity="0.014"/><rect x="2447.3" y="321.7" width="5.7" height="291.2" fill="#000" fill-opacity="0.008"/><rect x="2452.8" y="321.7" width="16.7" height="291.2" fill="#000" fill-opacity="0.010"/><rect x="2474.8" y="321.7" width="5.7" height="291.2" fill="#fff" fill-opacity="0.007"/><rect x="2480.3" y="321.7" width="5.7" height="291.2" fill="#fff" fill-opacity="0.009"/><rect x="2507.8" y="321.7" width="11.2" height="291.2" fill="#fff" fill-opacity="0.006"/><rect x="2518.8" y="321.7" width="5.7" height="291.2" fill="#fff" fill-opacity="0.012"/><rect x="2524.3" y="321.7" width="5.7" height="291.2" fill="#fff" fill-opacity="0.012"/><rect x="2535.3" y="321.7" width="16.7" height="291.2" fill="#000" fill-opacity="0.010"/><rect x="2551.8" y="321.7" width="5.7" height="291.2" fill="#000" fill-opacity="0.010"/><rect x="2557.3" y="321.7" width="16.7" height="291.2" fill="#000" fill-opacity="0.012"/><rect x="2617.8" y="321.7" width="5.7" height="291.2" fill="#fff" fill-opacity="0.012"/><rect x="2645.3" y="321.7" width="11.2" height="291.2" fill="#fff" fill-opacity="0.011"/><rect x="2672.8" y="321.7" width="5.7" height="291.2" fill="#000" fill-opacity="0.007"/><rect x="2678.3" y="321.7" width="16.7" height="291.2" fill="#000" fill-opacity="0.008"/><rect x="2711.3" y="321.7" width="5.7" height="291.2" fill="#fff" fill-opacity="0.007"/><rect x="87.8" y="612.8" width="16.7" height="145.6" fill="#fff" fill-opacity="0.014"/><rect x="137.3" y="612.8" width="5.7" height="145.6" fill="#fff" fill-opacity="0.015"/><rect x="142.8" y="612.8" width="5.7" height="145.6" fill="#fff" fill-opacity="0.017"/><rect x="153.8" y="612.8" width="11.2" height="145.6" fill="#000" fill-opacity="0.015"/><rect x="164.8" y="612.8" width="5.7" height="145.6" fill="#000" fill-opacity="0.018"/><rect x="175.8" y="612.8" width="16.7" height="145.6" fill="#000" fill-opacity="0.014"/><rect x="208.8" y="612.8" width="11.2" height="145.6" fill="#000" fill-opacity="0.007"/><rect x="225.3" y="612.8" width="11.2" height="145.6" fill="#fff" fill-opacity="0.011"/><rect x="236.3" y="612.8" width="5.7" height="145.6" fill="#fff" fill-opacity="0.019"/><rect x="247.3" y="612.8" width="5.7" height="145.6" fill="#fff" fill-opacity="0.010"/><rect x="252.8" y="612.8" width="11.2" height="145.6" fill="#fff" fill-opacity="0.015"/><rect x="263.8" y="612.8" width="5.7" height="145.6" fill="#fff" fill-opacity="0.013"/><rect x="269.3" y="612.8" width="5.7" height="145.6" fill="#fff" fill-opacity="0.020"/><rect x="274.8" y="612.8" width="11.2" height="145.6" fill="#fff" fill-opacity="0.014"/><rect x="285.8" y="612.8" width="16.7" height="145.6" fill="#fff" fill-opacity="0.022"/><rect x="324.3" y="612.8" width="5.7" height="145.6" fill="#fff" fill-opacity="0.018"/><rect x="362.8" y="612.8" width="5.7" height="145.6" fill="#000" fill-opacity="0.009"/><rect x="368.3" y="612.8" width="5.7" height="145.6" fill="#000" fill-opacity="0.019"/><rect x="373.8" y="612.8" width="5.7" height="145.6" fill="#000" fill-opacity="0.017"/><rect x="379.3" y="612.8" width="16.7" height="145.6" fill="#000" fill-opacity="0.017"/><rect x="412.3" y="612.8" width="5.7" height="145.6" fill="#000" fill-opacity="0.016"/><rect x="417.8" y="612.8" width="11.2" height="145.6" fill="#000" fill-opacity="0.015"/><rect x="428.8" y="612.8" width="5.7" height="145.6" fill="#000" fill-opacity="0.015"/><rect x="450.8" y="612.8" width="5.7" height="145.6" fill="#000" fill-opacity="0.010"/><rect x="472.8" y="612.8" width="5.7" height="145.6" fill="#000" fill-opacity="0.021"/><rect x="478.3" y="612.8" width="16.7" height="145.6" fill="#000" fill-opacity="0.013"/><rect x="494.8" y="612.8" width="16.7" height="145.6" fill="#000" fill-opacity="0.020"/><rect x="511.3" y="612.8" width="5.7" height="145.6" fill="#000" fill-opacity="0.015"/><rect x="527.8" y="612.8" width="16.7" height="145.6" fill="#fff" fill-opacity="0.021"/><rect x="544.3" y="612.8" width="5.7" height="145.6" fill="#fff" fill-opacity="0.028"/><rect x="560.8" y="612.8" width="5.7" height="145.6" fill="#000" fill-opacity="0.021"/><rect x="566.3" y="612.8" width="16.7" height="145.6" fill="#000" fill-opacity="0.018"/><rect x="582.8" y="612.8" width="11.2" height="145.6" fill="#000" fill-opacity="0.012"/><rect x="593.8" y="612.8" width="5.7" height="145.6" fill="#fff" fill-opacity="0.009"/><rect x="599.3" y="612.8" width="11.2" height="145.6" fill="#fff" fill-opacity="0.023"/><rect x="615.8" y="612.8" width="16.7" height="145.6" fill="#000" fill-opacity="0.009"/><rect x="632.3" y="612.8" width="5.7" height="145.6" fill="#fff" fill-opacity="0.014"/><rect x="654.3" y="612.8" width="11.2" height="145.6" fill="#fff" fill-opacity="0.017"/><rect x="665.3" y="612.8" width="5.7" height="145.6" fill="#fff" fill-opacity="0.030"/><rect x="676.3" y="612.8" width="5.7" height="145.6" fill="#fff" fill-opacity="0.021"/><rect x="681.8" y="612.8" width="5.7" height="145.6" fill="#fff" fill-opacity="0.030"/><rect x="687.3" y="612.8" width="5.7" height="145.6" fill="#fff" fill-opacity="0.030"/><rect x="692.8" y="612.8" width="5.7" height="145.6" fill="#fff" fill-opacity="0.008"/><rect x="698.3" y="612.8" width="16.7" height="145.6" fill="#fff" fill-opacity="0.014"/><rect x="714.8" y="612.8" width="11.2" height="145.6" fill="#000" fill-opacity="0.011"/><rect x="725.8" y="612.8" width="5.7" height="145.6" fill="#000" fill-opacity="0.015"/><rect x="731.3" y="612.8" width="5.7" height="145.6" fill="#fff" fill-opacity="0.010"/><rect x="736.8" y="612.8" width="5.7" height="145.6" fill="#fff" fill-opacity="0.010"/><rect x="742.3" y="612.8" width="11.2" height="145.6" fill="#fff" fill-opacity="0.017"/><rect x="753.3" y="612.8" width="5.7" height="145.6" fill="#fff" fill-opacity="0.009"/><rect x="764.3" y="612.8" width="5.7" height="145.6" fill="#000" fill-opacity="0.008"/><rect x="769.8" y="612.8" width="11.2" height="145.6" fill="#000" fill-opacity="0.019"/><rect x="791.8" y="612.8" width="5.7" height="145.6" fill="#fff" fill-opacity="0.013"/><rect x="797.3" y="612.8" width="5.7" height="145.6" fill="#fff" fill-opacity="0.026"/><rect x="808.3" y="612.8" width="16.7" height="145.6" fill="#fff" fill-opacity="0.014"/><rect x="824.8" y="612.8" width="5.7" height="145.6" fill="#fff" fill-opacity="0.021"/><rect x="830.3" y="612.8" width="5.7" height="145.6" fill="#fff" fill-opacity="0.030"/><rect x="835.8" y="612.8" width="11.2" height="145.6" fill="#fff" fill-opacity="0.030"/><rect x="846.8" y="612.8" width="5.7" height="145.6" fill="#fff" fill-opacity="0.016"/><rect x="863.3" y="612.8" width="5.7" height="145.6" fill="#000" fill-opacity="0.015"/><rect x="874.3" y="612.8" width="5.7" height="145.6" fill="#fff" fill-opacity="0.010"/><rect x="879.8" y="612.8" width="16.7" height="145.6" fill="#fff" fill-opacity="0.023"/><rect x="896.3" y="612.8" width="11.2" height="145.6" fill="#fff" fill-opacity="0.030"/><rect x="907.3" y="612.8" width="5.7" height="145.6" fill="#fff" fill-opacity="0.014"/><rect x="912.8" y="612.8" width="5.7" height="145.6" fill="#000" fill-opacity="0.006"/><rect x="923.8" y="612.8" width="5.7" height="145.6" fill="#000" fill-opacity="0.008"/><rect x="929.3" y="612.8" width="5.7" height="145.6" fill="#000" fill-opacity="0.015"/><rect x="934.8" y="612.8" width="5.7" height="145.6" fill="#000" fill-opacity="0.017"/><rect x="940.3" y="612.8" width="11.2" height="145.6" fill="#000" fill-opacity="0.027"/><rect x="951.3" y="612.8" width="16.7" height="145.6" fill="#000" fill-opacity="0.030"/><rect x="967.8" y="612.8" width="5.7" height="145.6" fill="#000" fill-opacity="0.015"/><rect x="973.3" y="612.8" width="5.7" height="145.6" fill="#000" fill-opacity="0.026"/><rect x="984.3" y="612.8" width="11.2" height="145.6" fill="#fff" fill-opacity="0.024"/><rect x="995.3" y="612.8" width="5.7" height="145.6" fill="#fff" fill-opacity="0.030"/><rect x="1000.8" y="612.8" width="5.7" height="145.6" fill="#fff" fill-opacity="0.013"/><rect x="1006.3" y="612.8" width="11.2" height="145.6" fill="#fff" fill-opacity="0.025"/><rect x="1017.3" y="612.8" width="5.7" height="145.6" fill="#fff" fill-opacity="0.029"/><rect x="1033.8" y="612.8" width="16.7" height="145.6" fill="#000" fill-opacity="0.008"/><rect x="1050.3" y="612.8" width="5.7" height="145.6" fill="#000" fill-opacity="0.007"/><rect x="1055.8" y="612.8" width="16.7" height="145.6" fill="#000" fill-opacity="0.013"/><rect x="1072.3" y="612.8" width="5.7" height="145.6" fill="#000" fill-opacity="0.011"/><rect x="1077.8" y="612.8" width="11.2" height="145.6" fill="#000" fill-opacity="0.019"/><rect x="1088.8" y="612.8" width="16.7" height="145.6" fill="#000" fill-opacity="0.025"/><rect x="1105.3" y="612.8" width="5.7" height="145.6" fill="#000" fill-opacity="0.014"/><rect x="1121.8" y="612.8" width="5.7" height="145.6" fill="#fff" fill-opacity="0.020"/><rect x="1127.3" y="612.8" width="11.2" height="145.6" fill="#fff" fill-opacity="0.023"/><rect x="1143.8" y="612.8" width="16.7" height="145.6" fill="#fff" fill-opacity="0.008"/><rect x="1160.3" y="612.8" width="5.7" height="145.6" fill="#fff" fill-opacity="0.008"/><rect x="1165.8" y="612.8" width="5.7" height="145.6" fill="#000" fill-opacity="0.016"/><rect x="1171.3" y="612.8" width="16.7" height="145.6" fill="#000" fill-opacity="0.014"/><rect x="1187.8" y="612.8" width="5.7" height="145.6" fill="#000" fill-opacity="0.007"/><rect x="1193.3" y="612.8" width="5.7" height="145.6" fill="#000" fill-opacity="0.012"/><rect x="1198.8" y="612.8" width="11.2" height="145.6" fill="#000" fill-opacity="0.025"/><rect x="1220.8" y="612.8" width="11.2" height="145.6" fill="#000" fill-opacity="0.014"/><rect x="1231.8" y="612.8" width="5.7" height="145.6" fill="#000" fill-opacity="0.019"/><rect x="1253.8" y="612.8" width="5.7" height="145.6" fill="#000" fill-opacity="0.018"/><rect x="1259.3" y="612.8" width="5.7" height="145.6" fill="#000" fill-opacity="0.008"/><rect x="1264.8" y="612.8" width="5.7" height="145.6" fill="#000" fill-opacity="0.011"/><rect x="1270.3" y="612.8" width="11.2" height="145.6" fill="#fff" fill-opacity="0.014"/><rect x="1281.3" y="612.8" width="5.7" height="145.6" fill="#000" fill-opacity="0.008"/><rect x="1286.8" y="612.8" width="5.7" height="145.6" fill="#fff" fill-opacity="0.009"/><rect x="1292.3" y="612.8" width="5.7" height="145.6" fill="#fff" fill-opacity="0.017"/><rect x="1297.8" y="612.8" width="11.2" height="145.6" fill="#fff" fill-opacity="0.014"/><rect x="1314.3" y="612.8" width="5.7" height="145.6" fill="#fff" fill-opacity="0.019"/><rect x="1319.8" y="612.8" width="11.2" height="145.6" fill="#fff" fill-opacity="0.009"/><rect x="1330.8" y="612.8" width="5.7" height="145.6" fill="#fff" fill-opacity="0.007"/><rect x="1336.3" y="612.8" width="16.7" height="145.6" fill="#000" fill-opacity="0.012"/><rect x="1352.8" y="612.8" width="5.7" height="145.6" fill="#fff" fill-opacity="0.013"/><rect x="1358.3" y="612.8" width="5.7" height="145.6" fill="#fff" fill-opacity="0.013"/><rect x="1363.8" y="612.8" width="5.7" height="145.6" fill="#000" fill-opacity="0.009"/><rect x="1374.8" y="612.8" width="5.7" height="145.6" fill="#000" fill-opacity="0.023"/><rect x="1380.3" y="612.8" width="5.7" height="145.6" fill="#000" fill-opacity="0.024"/><rect x="1385.8" y="612.8" width="16.7" height="145.6" fill="#000" fill-opacity="0.008"/><rect x="1413.3" y="612.8" width="11.2" height="145.6" fill="#000" fill-opacity="0.020"/><rect x="1429.8" y="612.8" width="5.7" height="145.6" fill="#000" fill-opacity="0.011"/><rect x="1435.3" y="612.8" width="11.2" height="145.6" fill="#000" fill-opacity="0.007"/><rect x="1446.3" y="612.8" width="16.7" height="145.6" fill="#fff" fill-opacity="0.007"/><rect x="1462.8" y="612.8" width="5.7" height="145.6" fill="#000" fill-opacity="0.012"/><rect x="1468.3" y="612.8" width="11.2" height="145.6" fill="#fff" fill-opacity="0.009"/><rect x="1479.3" y="612.8" width="16.7" height="145.6" fill="#fff" fill-opacity="0.010"/><rect x="1495.8" y="612.8" width="5.7" height="145.6" fill="#000" fill-opacity="0.009"/><rect x="1501.3" y="612.8" width="16.7" height="145.6" fill="#000" fill-opacity="0.007"/><rect x="1517.8" y="612.8" width="11.2" height="145.6" fill="#000" fill-opacity="0.019"/><rect x="1528.8" y="612.8" width="5.7" height="145.6" fill="#fff" fill-opacity="0.008"/><rect x="1534.3" y="612.8" width="11.2" height="145.6" fill="#fff" fill-opacity="0.013"/><rect x="1545.3" y="612.8" width="16.7" height="145.6" fill="#fff" fill-opacity="0.022"/><rect x="1561.8" y="612.8" width="16.7" height="145.6" fill="#000" fill-opacity="0.007"/><rect x="1578.3" y="612.8" width="5.7" height="145.6" fill="#fff" fill-opacity="0.008"/><rect x="1589.3" y="612.8" width="5.7" height="145.6" fill="#fff" fill-opacity="0.010"/><rect x="1594.8" y="612.8" width="16.7" height="145.6" fill="#fff" fill-opacity="0.019"/><rect x="1611.3" y="612.8" width="5.7" height="145.6" fill="#fff" fill-opacity="0.025"/><rect x="1633.3" y="612.8" width="16.7" height="145.6" fill="#000" fill-opacity="0.018"/><rect x="1649.8" y="612.8" width="5.7" height="145.6" fill="#000" fill-opacity="0.022"/><rect x="1666.3" y="612.8" width="5.7" height="145.6" fill="#000" fill-opacity="0.009"/><rect x="1671.8" y="612.8" width="16.7" height="145.6" fill="#000" fill-opacity="0.019"/><rect x="1688.3" y="612.8" width="5.7" height="145.6" fill="#000" fill-opacity="0.014"/><rect x="1710.3" y="612.8" width="5.7" height="145.6" fill="#000" fill-opacity="0.016"/><rect x="1726.8" y="612.8" width="11.2" height="145.6" fill="#fff" fill-opacity="0.007"/><rect x="1737.8" y="612.8" width="5.7" height="145.6" fill="#000" fill-opacity="0.016"/><rect x="1743.3" y="612.8" width="16.7" height="145.6" fill="#000" fill-opacity="0.020"/><rect x="1759.8" y="612.8" width="16.7" height="145.6" fill="#000" fill-opacity="0.022"/><rect x="1798.3" y="612.8" width="5.7" height="145.6" fill="#000" fill-opacity="0.013"/><rect x="1803.8" y="612.8" width="5.7" height="145.6" fill="#000" fill-opacity="0.011"/><rect x="1809.3" y="612.8" width="5.7" height="145.6" fill="#000" fill-opacity="0.016"/><rect x="1814.8" y="612.8" width="5.7" height="145.6" fill="#000" fill-opacity="0.016"/><rect x="1820.3" y="612.8" width="5.7" height="145.6" fill="#000" fill-opacity="0.026"/><rect x="1842.3" y="612.8" width="16.7" height="145.6" fill="#fff" fill-opacity="0.020"/><rect x="1858.8" y="612.8" width="5.7" height="145.6" fill="#fff" fill-opacity="0.010"/><rect x="1864.3" y="612.8" width="16.7" height="145.6" fill="#fff" fill-opacity="0.025"/><rect x="1891.8" y="612.8" width="5.7" height="145.6" fill="#fff" fill-opacity="0.016"/><rect x="1897.3" y="612.8" width="11.2" height="145.6" fill="#fff" fill-opacity="0.013"/><rect x="1913.8" y="612.8" width="5.7" height="145.6" fill="#fff" fill-opacity="0.008"/><rect x="1919.3" y="612.8" width="5.7" height="145.6" fill="#fff" fill-opacity="0.020"/><rect x="1924.8" y="612.8" width="16.7" height="145.6" fill="#fff" fill-opacity="0.020"/><rect x="1941.3" y="612.8" width="5.7" height="145.6" fill="#fff" fill-opacity="0.019"/><rect x="1946.8" y="612.8" width="5.7" height="145.6" fill="#fff" fill-opacity="0.013"/><rect x="1952.3" y="612.8" width="5.7" height="145.6" fill="#fff" fill-opacity="0.006"/><rect x="1985.3" y="612.8" width="5.7" height="145.6" fill="#000" fill-opacity="0.023"/><rect x="1990.8" y="612.8" width="5.7" height="145.6" fill="#000" fill-opacity="0.026"/><rect x="1996.3" y="612.8" width="16.7" height="145.6" fill="#000" fill-opacity="0.013"/><rect x="2012.8" y="612.8" width="16.7" height="145.6" fill="#000" fill-opacity="0.013"/><rect x="2029.3" y="612.8" width="5.7" height="145.6" fill="#000" fill-opacity="0.022"/><rect x="2034.8" y="612.8" width="5.7" height="145.6" fill="#000" fill-opacity="0.021"/><rect x="2040.3" y="612.8" width="5.7" height="145.6" fill="#000" fill-opacity="0.013"/><rect x="2045.8" y="612.8" width="5.7" height="145.6" fill="#fff" fill-opacity="0.009"/><rect x="2056.8" y="612.8" width="5.7" height="145.6" fill="#000" fill-opacity="0.017"/><rect x="2078.8" y="612.8" width="11.2" height="145.6" fill="#000" fill-opacity="0.008"/><rect x="2100.8" y="612.8" width="5.7" height="145.6" fill="#000" fill-opacity="0.019"/><rect x="2106.3" y="612.8" width="5.7" height="145.6" fill="#000" fill-opacity="0.006"/><rect x="2111.8" y="612.8" width="5.7" height="145.6" fill="#fff" fill-opacity="0.010"/><rect x="2117.3" y="612.8" width="16.7" height="145.6" fill="#000" fill-opacity="0.011"/><rect x="2133.8" y="612.8" width="11.2" height="145.6" fill="#000" fill-opacity="0.017"/><rect x="2144.8" y="612.8" width="5.7" height="145.6" fill="#000" fill-opacity="0.014"/><rect x="2150.3" y="612.8" width="5.7" height="145.6" fill="#000" fill-opacity="0.030"/><rect x="2155.8" y="612.8" width="16.7" height="145.6" fill="#000" fill-opacity="0.014"/><rect x="2172.3" y="612.8" width="11.2" height="145.6" fill="#000" fill-opacity="0.013"/><rect x="2183.3" y="612.8" width="16.7" height="145.6" fill="#000" fill-opacity="0.023"/><rect x="2205.3" y="612.8" width="16.7" height="145.6" fill="#000" fill-opacity="0.015"/><rect x="2232.8" y="612.8" width="5.7" height="145.6" fill="#fff" fill-opacity="0.009"/><rect x="2260.3" y="612.8" width="11.2" height="145.6" fill="#fff" fill-opacity="0.008"/><rect x="2271.3" y="612.8" width="5.7" height="145.6" fill="#fff" fill-opacity="0.017"/><rect x="2287.8" y="612.8" width="5.7" height="145.6" fill="#000" fill-opacity="0.011"/><rect x="2293.3" y="612.8" width="5.7" height="145.6" fill="#fff" fill-opacity="0.007"/><rect x="2298.8" y="612.8" width="11.2" height="145.6" fill="#fff" fill-opacity="0.007"/><rect x="2309.8" y="612.8" width="16.7" height="145.6" fill="#000" fill-opacity="0.007"/><rect x="2326.3" y="612.8" width="5.7" height="145.6" fill="#000" fill-opacity="0.012"/><rect x="2331.8" y="612.8" width="16.7" height="145.6" fill="#fff" fill-opacity="0.007"/><rect x="2348.3" y="612.8" width="5.7" height="145.6" fill="#000" fill-opacity="0.008"/><rect x="2353.8" y="612.8" width="11.2" height="145.6" fill="#fff" fill-opacity="0.012"/><rect x="2364.8" y="612.8" width="5.7" height="145.6" fill="#000" fill-opacity="0.013"/><rect x="2375.8" y="612.8" width="11.2" height="145.6" fill="#000" fill-opacity="0.012"/><rect x="2403.3" y="612.8" width="16.7" height="145.6" fill="#fff" fill-opacity="0.008"/><rect x="2430.8" y="612.8" width="16.7" height="145.6" fill="#fff" fill-opacity="0.013"/><rect x="2458.3" y="612.8" width="5.7" height="145.6" fill="#000" fill-opacity="0.018"/><rect x="2463.8" y="612.8" width="5.7" height="145.6" fill="#000" fill-opacity="0.013"/><rect x="2474.8" y="612.8" width="16.7" height="145.6" fill="#000" fill-opacity="0.012"/><rect x="2491.3" y="612.8" width="11.2" height="145.6" fill="#000" fill-opacity="0.012"/><rect x="2513.3" y="612.8" width="16.7" height="145.6" fill="#000" fill-opacity="0.016"/><rect x="2529.8" y="612.8" width="5.7" height="145.6" fill="#fff" fill-opacity="0.011"/><rect x="2546.3" y="612.8" width="16.7" height="145.6" fill="#fff" fill-opacity="0.019"/><rect x="2579.3" y="612.8" width="16.7" height="145.6" fill="#fff" fill-opacity="0.013"/><rect x="2595.8" y="612.8" width="5.7" height="145.6" fill="#000" fill-opacity="0.006"/><rect x="2601.3" y="612.8" width="5.7" height="145.6" fill="#000" fill-opacity="0.010"/><rect x="2606.8" y="612.8" width="5.7" height="145.6" fill="#fff" fill-opacity="0.008"/><rect x="2612.3" y="612.8" width="16.7" height="145.6" fill="#000" fill-opacity="0.009"/><rect x="2634.3" y="612.8" width="16.7" height="145.6" fill="#fff" fill-opacity="0.018"/><rect x="2650.8" y="612.8" width="11.2" height="145.6" fill="#fff" fill-opacity="0.017"/><rect x="2678.3" y="612.8" width="16.7" height="145.6" fill="#000" fill-opacity="0.012"/><rect x="2694.8" y="612.8" width="5.7" height="145.6" fill="#000" fill-opacity="0.011"/><rect x="2705.8" y="612.8" width="16.7" height="145.6" fill="#000" fill-opacity="0.018"/></g>
<g fill="none" stroke="#7a7a7a" stroke-width="0.9">
<path d="M81.80 758.40H2718.30M2718.30 30.50V758.40"/>
</g>
<g fill="none" stroke="#000" stroke-width="1.39" stroke-dasharray="5.14 2.22">
<path d="M81.80 685.50H2718.30"/>
<path d="M81.80 612.50H2718.30"/>
<path d="M81.80 540.50H2718.30"/>
<path d="M81.80 467.50H2718.30"/>
<path d="M81.80 394.50H2718.30"/>
<path d="M81.80 321.50H2718.30"/>
<path d="M81.80 248.50H2718.30"/>
<path d="M81.80 176.50H2718.30"/>
<path d="M81.80 103.50H2718.30"/>
<path d="M81.80 30.50H2718.30"/>
<path d="M81.50 758.40V30.50"/>
<path d="M301.50 758.40V30.50"/>
<path d="M521.50 758.40V30.50"/>
<path d="M740.50 758.40V30.50"/>
<path d="M960.50 758.40V30.50"/>
<path d="M1180.50 758.40V30.50"/>
<path d="M1400.50 758.40V30.50"/>
<path d="M1619.50 758.40V30.50"/>
<path d="M1839.50 758.40V30.50"/>
<path d="M2059.50 758.40V30.50"/>
<path d="M2278.50 758.40V30.50"/>
<path d="M2498.50 758.40V30.50"/>
</g>
<g fill="none" stroke="#000" stroke-width="0.8">
<path d="M79.00 758.40H81.80"/>
<path d="M79.00 685.61H81.80"/>
<path d="M79.00 612.82H81.80"/>
<path d="M79.00 540.03H81.80"/>
<path d="M79.00 467.24H81.80"/>
<path d="M79.00 394.45H81.80"/>
<path d="M79.00 321.66H81.80"/>
<path d="M79.00 248.87H81.80"/>
<path d="M79.00 176.08H81.80"/>
<path d="M79.00 103.29H81.80"/>
<path d="M79.00 30.50H81.80"/>
<path d="M81.80 758.40V761.20"/>
<path d="M301.51 758.40V761.20"/>
<path d="M521.22 758.40V761.20"/>
<path d="M740.92 758.40V761.20"/>
<path d="M960.63 758.40V761.20"/>
<path d="M1180.34 758.40V761.20"/>
<path d="M1400.05 758.40V761.20"/>
<path d="M1619.76 758.40V761.20"/>
<path d="M1839.47 758.40V761.20"/>
<path d="M2059.18 758.40V761.20"/>
<path d="M2278.88 758.40V761.20"/>
<path d="M2498.59 758.40V761.20"/>
<path d="M2718.30 758.40V761.20"/>
</g>
<g fill="none" stroke="#000" stroke-width="4.86" stroke-dasharray="18 7.8" stroke-dashoffset="1.1">
<path d="M502.50 758.40V30.50"/>
<path d="M2118.60 758.40V30.50"/>
</g>
<g opacity="0.996">
<text x="559.5" y="26.0" font-size="27.80" text-anchor="start" textLength="1389.0" lengthAdjust="spacingAndGlyphs" xml:space="preserve">Meteorologisches Institut der Ludwig-Maximilians-Universit&#228;t (M&#252;nchen, Germany; 48.148 N / 11.573 E):</text>
<text x="1979.0" y="26.0" font-size="27.80" text-anchor="start" textLength="260.5" lengthAdjust="spacingAndGlyphs" xml:space="preserve">HatPro: 04-05-2024</text>
<text x="60.6" y="767.7" font-size="27.80" text-anchor="start" textLength="16.8" lengthAdjust="spacingAndGlyphs" xml:space="preserve">0</text>
<text x="60.6" y="694.9" font-size="27.80" text-anchor="start" textLength="16.8" lengthAdjust="spacingAndGlyphs" xml:space="preserve">1</text>
<text x="60.6" y="622.1" font-size="27.80" text-anchor="start" textLength="16.8" lengthAdjust="spacingAndGlyphs" xml:space="preserve">2</text>
<text x="60.6" y="549.3" font-size="27.80" text-anchor="start" textLength="16.8" lengthAdjust="spacingAndGlyphs" xml:space="preserve">3</text>
<text x="60.6" y="476.5" font-size="27.80" text-anchor="start" textLength="16.8" lengthAdjust="spacingAndGlyphs" xml:space="preserve">4</text>
<text x="60.6" y="403.8" font-size="27.80" text-anchor="start" textLength="16.8" lengthAdjust="spacingAndGlyphs" xml:space="preserve">5</text>
<text x="60.6" y="331.0" font-size="27.80" text-anchor="start" textLength="16.8" lengthAdjust="spacingAndGlyphs" xml:space="preserve">6</text>
<text x="60.6" y="258.2" font-size="27.80" text-anchor="start" textLength="16.8" lengthAdjust="spacingAndGlyphs" xml:space="preserve">7</text>
<text x="60.6" y="185.4" font-size="27.80" text-anchor="start" textLength="16.8" lengthAdjust="spacingAndGlyphs" xml:space="preserve">8</text>
<text x="60.6" y="112.6" font-size="27.80" text-anchor="start" textLength="16.8" lengthAdjust="spacingAndGlyphs" xml:space="preserve">9</text>
<text x="43.6" y="39.8" font-size="27.80" text-anchor="start" textLength="32.5" lengthAdjust="spacingAndGlyphs" xml:space="preserve">10</text>
<text x="77.5" y="783.0" font-size="27.80" text-anchor="start" textLength="33.0" lengthAdjust="spacingAndGlyphs" xml:space="preserve">00</text>
<text x="284.9" y="783.0" font-size="27.80" text-anchor="start" textLength="33.0" lengthAdjust="spacingAndGlyphs" xml:space="preserve">02</text>
<text x="504.6" y="783.0" font-size="27.80" text-anchor="start" textLength="33.0" lengthAdjust="spacingAndGlyphs" xml:space="preserve">04</text>
<text x="724.3" y="783.0" font-size="27.80" text-anchor="start" textLength="33.0" lengthAdjust="spacingAndGlyphs" xml:space="preserve">06</text>
<text x="944.0" y="783.0" font-size="27.80" text-anchor="start" textLength="33.0" lengthAdjust="spacingAndGlyphs" xml:space="preserve">08</text>
<text x="1163.7" y="783.0" font-size="27.80" text-anchor="start" textLength="33.0" lengthAdjust="spacingAndGlyphs" xml:space="preserve">10</text>
<text x="1383.5" y="783.0" font-size="27.80" text-anchor="start" textLength="33.0" lengthAdjust="spacingAndGlyphs" xml:space="preserve">12</text>
<text x="1603.2" y="783.0" font-size="27.80" text-anchor="start" textLength="33.0" lengthAdjust="spacingAndGlyphs" xml:space="preserve">14</text>
<text x="1822.9" y="783.0" font-size="27.80" text-anchor="start" textLength="33.0" lengthAdjust="spacingAndGlyphs" xml:space="preserve">16</text>
<text x="2042.6" y="783.0" font-size="27.80" text-anchor="start" textLength="33.0" lengthAdjust="spacingAndGlyphs" xml:space="preserve">18</text>
<text x="2262.3" y="783.0" font-size="27.80" text-anchor="start" textLength="33.0" lengthAdjust="spacingAndGlyphs" xml:space="preserve">20</text>
<text x="2482.0" y="783.0" font-size="27.80" text-anchor="start" textLength="33.0" lengthAdjust="spacingAndGlyphs" xml:space="preserve">22</text>
<text x="2701.7" y="783.0" font-size="27.80" text-anchor="start" textLength="33.0" lengthAdjust="spacingAndGlyphs" xml:space="preserve">24</text>
<text x="453.3" y="802.0" font-size="27.80" text-anchor="start" textLength="95.5" lengthAdjust="spacingAndGlyphs" xml:space="preserve">sunrise</text>
<text x="2074.2" y="802.0" font-size="27.80" text-anchor="start" textLength="87.0" lengthAdjust="spacingAndGlyphs" xml:space="preserve">sunset</text>
<text x="1325.0" y="812.0" font-size="27.80" text-anchor="start" textLength="149.0" lengthAdjust="spacingAndGlyphs" xml:space="preserve">Time [UTC]</text>
<text x="32.6" y="571.0" font-size="27.80" text-anchor="start" textLength="352.5" lengthAdjust="spacingAndGlyphs" transform="rotate(-90 32.6 571.0)" xml:space="preserve">Height above ground [km]</text>
<text x="2924.5" y="767.8" font-size="27.80" text-anchor="start" textLength="16.8" lengthAdjust="spacingAndGlyphs" xml:space="preserve">0</text>
<text x="2924.5" y="646.5" font-size="27.80" text-anchor="start" textLength="16.8" lengthAdjust="spacingAndGlyphs" xml:space="preserve">2</text>
<text x="2924.5" y="525.2" font-size="27.80" text-anchor="start" textLength="16.8" lengthAdjust="spacingAndGlyphs" xml:space="preserve">4</text>
<text x="2924.5" y="403.8" font-size="27.80" text-anchor="start" textLength="16.8" lengthAdjust="spacingAndGlyphs" xml:space="preserve">6</text>
<text x="2924.5" y="282.5" font-size="27.80" text-anchor="start" textLength="16.8" lengthAdjust="spacingAndGlyphs" xml:space="preserve">8</text>
<text x="2924.2" y="161.2" font-size="27.80" text-anchor="start" textLength="32.5" lengthAdjust="spacingAndGlyphs" xml:space="preserve">10</text>
<text x="2924.2" y="39.9" font-size="27.80" text-anchor="start" textLength="32.5" lengthAdjust="spacingAndGlyphs" xml:space="preserve">12</text>
<text x="2979.6" y="660.0" font-size="27.80" text-anchor="start" textLength="530.0" lengthAdjust="spacingAndGlyphs" transform="rotate(-90 2979.6 660.0)" xml:space="preserve">Potential Temperature Gradient in K/km</text>
</g>
<rect x="2882" y="30.50" width="37.8" height="727.90" fill="url(#cb)" shape-rendering="crispEdges"/>
<rect x="2882" y="30.50" width="37.8" height="727.90" fill="none" stroke="#666" stroke-width="0.8"/>
<path d="M2882 30.50V758.40" fill="none" stroke="#1a1a1a" stroke-width="1"/>
<g fill="none" stroke="#000" stroke-width="0.8">
<path d="M2919.8 758.40H2922.6"/>
<path d="M2919.8 637.08H2922.6"/>
<path d="M2919.8 515.77H2922.6"/>
<path d="M2919.8 394.45H2922.6"/>
<path d="M2919.8 273.13H2922.6"/>
<path d="M2919.8 151.82H2922.6"/>
<path d="M2919.8 30.50H2922.6"/>
</g>
</svg></body></html>
